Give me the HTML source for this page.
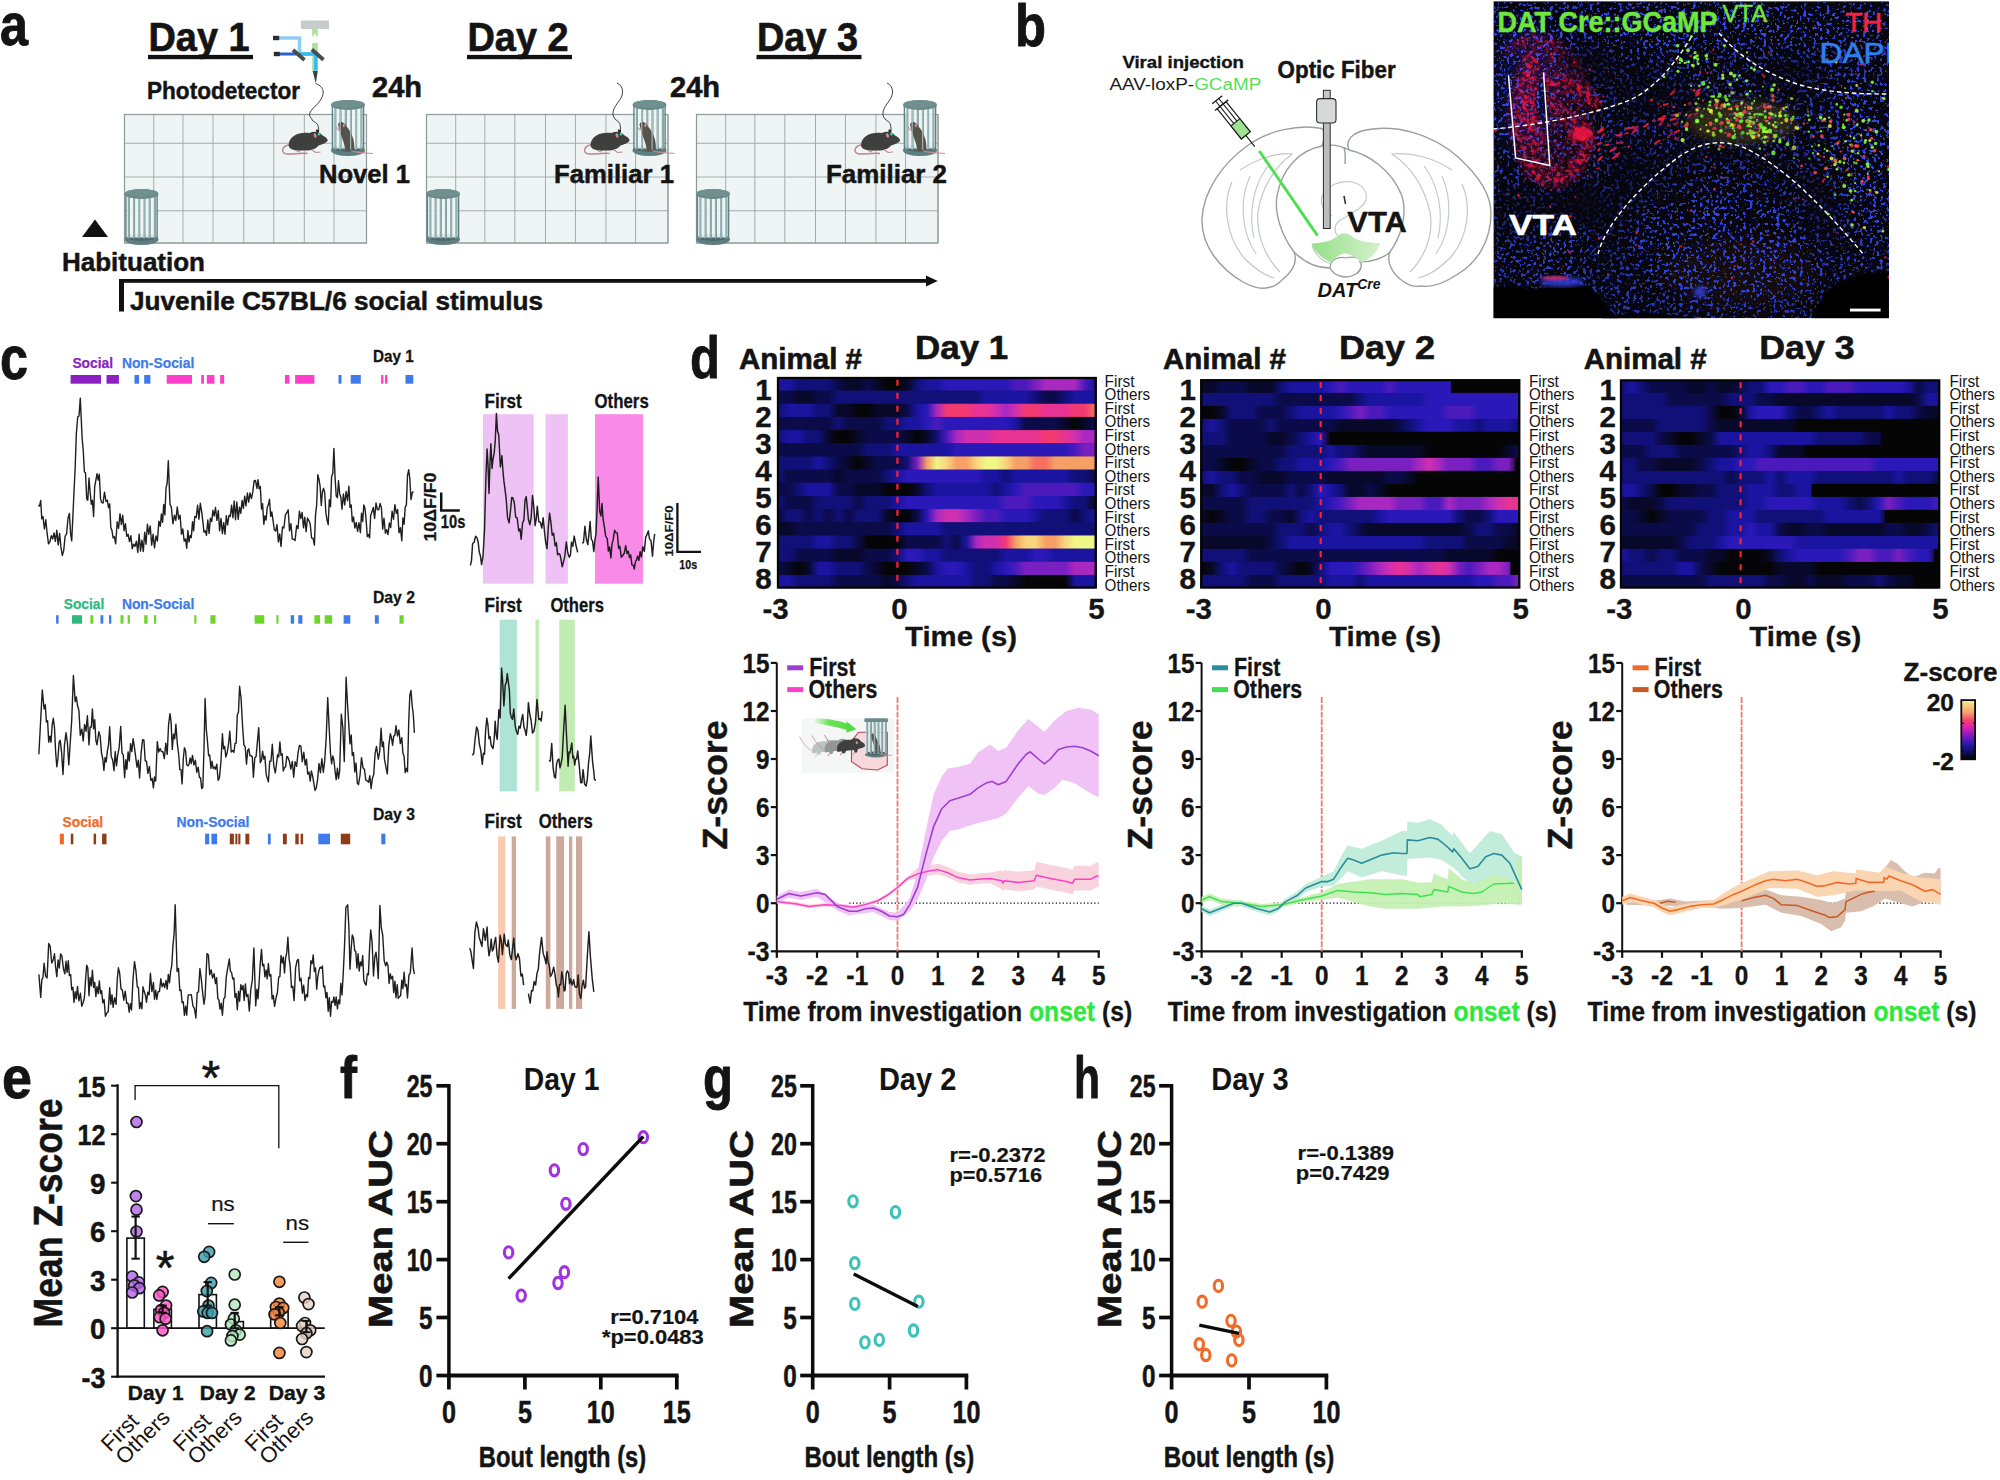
<!DOCTYPE html>
<html><head><meta charset="utf-8"><title>Figure</title>
<style>
html,body{margin:0;padding:0;background:#fff;}
svg{display:block;font-family:"Liberation Sans", Arial, sans-serif;}
</style></head><body>
<svg width="2000" height="1480" viewBox="0 0 2000 1480">
<rect width="2000" height="1480" fill="#ffffff"/>
<text x="0" y="44.5" font-size="60" font-weight="bold" fill="#141414" textLength="28" lengthAdjust="spacingAndGlyphs" stroke="#141414" stroke-width="0.9" stroke-linejoin="round" >a</text>
<text x="148.5" y="50.5" font-size="40" font-weight="bold" fill="#141414" textLength="101" lengthAdjust="spacingAndGlyphs" stroke="#141414" stroke-width="0.7" stroke-linejoin="round" >Day 1</text>
<rect x="148.0" y="54.9" width="105" height="4.3" fill="#111" />
<text x="467.5" y="50.5" font-size="40" font-weight="bold" fill="#141414" textLength="101" lengthAdjust="spacingAndGlyphs" stroke="#141414" stroke-width="0.7" stroke-linejoin="round" >Day 2</text>
<rect x="467.0" y="54.9" width="105" height="4.3" fill="#111" />
<text x="757" y="50.5" font-size="40" font-weight="bold" fill="#141414" textLength="101" lengthAdjust="spacingAndGlyphs" stroke="#141414" stroke-width="0.7" stroke-linejoin="round" >Day 3</text>
<rect x="756.5" y="54.9" width="105" height="4.3" fill="#111" />
<rect x="124.5" y="114.5" width="242.0" height="128.5" fill="#eff5f5" />
<line x1="124.50" y1="114.5" x2="124.50" y2="243" stroke="#a3adad" stroke-width="1" />
<line x1="153.75" y1="114.5" x2="153.75" y2="243" stroke="#a3adad" stroke-width="1" />
<line x1="183.00" y1="114.5" x2="183.00" y2="243" stroke="#a3adad" stroke-width="1" />
<line x1="213.00" y1="114.5" x2="213.00" y2="243" stroke="#a3adad" stroke-width="1" />
<line x1="243.75" y1="114.5" x2="243.75" y2="243" stroke="#a3adad" stroke-width="1" />
<line x1="273.75" y1="114.5" x2="273.75" y2="243" stroke="#a3adad" stroke-width="1" />
<line x1="304.30" y1="114.5" x2="304.30" y2="243" stroke="#a3adad" stroke-width="1" />
<line x1="334.00" y1="114.5" x2="334.00" y2="243" stroke="#a3adad" stroke-width="1" />
<line x1="366.50" y1="114.5" x2="366.50" y2="243" stroke="#a3adad" stroke-width="1" />
<line x1="124.5" y1="114.5" x2="366.5" y2="114.5" stroke="#a3adad" stroke-width="1" />
<line x1="124.5" y1="143.25" x2="366.5" y2="143.25" stroke="#a3adad" stroke-width="1" />
<line x1="124.5" y1="177" x2="366.5" y2="177" stroke="#a3adad" stroke-width="1" />
<line x1="124.5" y1="210.75" x2="366.5" y2="210.75" stroke="#a3adad" stroke-width="1" />
<line x1="124.5" y1="243" x2="366.5" y2="243" stroke="#a3adad" stroke-width="1" />
<rect x="124.5" y="114.5" width="242.0" height="128.5" fill="none" stroke="#8e9a9a" stroke-width="1.2"/>
<rect x="426.5" y="114.5" width="241.5" height="128.5" fill="#eff5f5" />
<line x1="426.50" y1="114.5" x2="426.50" y2="243" stroke="#a3adad" stroke-width="1" />
<line x1="455.69" y1="114.5" x2="455.69" y2="243" stroke="#a3adad" stroke-width="1" />
<line x1="484.88" y1="114.5" x2="484.88" y2="243" stroke="#a3adad" stroke-width="1" />
<line x1="514.82" y1="114.5" x2="514.82" y2="243" stroke="#a3adad" stroke-width="1" />
<line x1="545.50" y1="114.5" x2="545.50" y2="243" stroke="#a3adad" stroke-width="1" />
<line x1="575.44" y1="114.5" x2="575.44" y2="243" stroke="#a3adad" stroke-width="1" />
<line x1="605.93" y1="114.5" x2="605.93" y2="243" stroke="#a3adad" stroke-width="1" />
<line x1="635.57" y1="114.5" x2="635.57" y2="243" stroke="#a3adad" stroke-width="1" />
<line x1="668.00" y1="114.5" x2="668.00" y2="243" stroke="#a3adad" stroke-width="1" />
<line x1="426.5" y1="114.5" x2="668" y2="114.5" stroke="#a3adad" stroke-width="1" />
<line x1="426.5" y1="143.25" x2="668" y2="143.25" stroke="#a3adad" stroke-width="1" />
<line x1="426.5" y1="177" x2="668" y2="177" stroke="#a3adad" stroke-width="1" />
<line x1="426.5" y1="210.75" x2="668" y2="210.75" stroke="#a3adad" stroke-width="1" />
<line x1="426.5" y1="243" x2="668" y2="243" stroke="#a3adad" stroke-width="1" />
<rect x="426.5" y="114.5" width="241.5" height="128.5" fill="none" stroke="#8e9a9a" stroke-width="1.2"/>
<rect x="696.5" y="114.5" width="241.5" height="128.5" fill="#eff5f5" />
<line x1="696.50" y1="114.5" x2="696.50" y2="243" stroke="#a3adad" stroke-width="1" />
<line x1="725.69" y1="114.5" x2="725.69" y2="243" stroke="#a3adad" stroke-width="1" />
<line x1="754.88" y1="114.5" x2="754.88" y2="243" stroke="#a3adad" stroke-width="1" />
<line x1="784.82" y1="114.5" x2="784.82" y2="243" stroke="#a3adad" stroke-width="1" />
<line x1="815.50" y1="114.5" x2="815.50" y2="243" stroke="#a3adad" stroke-width="1" />
<line x1="845.44" y1="114.5" x2="845.44" y2="243" stroke="#a3adad" stroke-width="1" />
<line x1="875.93" y1="114.5" x2="875.93" y2="243" stroke="#a3adad" stroke-width="1" />
<line x1="905.57" y1="114.5" x2="905.57" y2="243" stroke="#a3adad" stroke-width="1" />
<line x1="938.00" y1="114.5" x2="938.00" y2="243" stroke="#a3adad" stroke-width="1" />
<line x1="696.5" y1="114.5" x2="938" y2="114.5" stroke="#a3adad" stroke-width="1" />
<line x1="696.5" y1="143.25" x2="938" y2="143.25" stroke="#a3adad" stroke-width="1" />
<line x1="696.5" y1="177" x2="938" y2="177" stroke="#a3adad" stroke-width="1" />
<line x1="696.5" y1="210.75" x2="938" y2="210.75" stroke="#a3adad" stroke-width="1" />
<line x1="696.5" y1="243" x2="938" y2="243" stroke="#a3adad" stroke-width="1" />
<rect x="696.5" y="114.5" width="241.5" height="128.5" fill="none" stroke="#8e9a9a" stroke-width="1.2"/>
<g>
<ellipse cx="141.5" cy="239.5" rx="17" ry="5.5" fill="#5f7e80"/>
<ellipse cx="141.5" cy="237.3" rx="15" ry="3.6" fill="#4d696c"/>
<rect x="127.0" y="195" width="29" height="42.5" fill="#eef5f5" opacity="0.9"/>
<line x1="129.4" y1="196" x2="129.4" y2="238.5" stroke="#5c7f82" stroke-width="0.8" />
<line x1="128.5" y1="196" x2="128.5" y2="238.5" stroke="#8db0af" stroke-width="1.4" />
<line x1="134.6" y1="196" x2="134.6" y2="238.5" stroke="#5c7f82" stroke-width="0.8" />
<line x1="133.7" y1="196" x2="133.7" y2="238.5" stroke="#8db0af" stroke-width="1.4" />
<line x1="139.8" y1="196" x2="139.8" y2="238.5" stroke="#5c7f82" stroke-width="0.8" />
<line x1="138.9" y1="196" x2="138.9" y2="238.5" stroke="#8db0af" stroke-width="1.4" />
<line x1="145.0" y1="196" x2="145.0" y2="238.5" stroke="#5c7f82" stroke-width="0.8" />
<line x1="144.1" y1="196" x2="144.1" y2="238.5" stroke="#8db0af" stroke-width="1.4" />
<line x1="150.2" y1="196" x2="150.2" y2="238.5" stroke="#5c7f82" stroke-width="0.8" />
<line x1="149.3" y1="196" x2="149.3" y2="238.5" stroke="#8db0af" stroke-width="1.4" />
<line x1="155.4" y1="196" x2="155.4" y2="238.5" stroke="#5c7f82" stroke-width="0.8" />
<line x1="154.5" y1="196" x2="154.5" y2="238.5" stroke="#8db0af" stroke-width="1.4" />
<line x1="125.9" y1="195" x2="125.9" y2="239.5" stroke="#5f8183" stroke-width="1.4" />
<line x1="157.1" y1="195" x2="157.1" y2="239.5" stroke="#5f8183" stroke-width="1.4" />
<ellipse cx="141.5" cy="194" rx="17" ry="5" fill="#688789"/>
<ellipse cx="141.5" cy="193.1" rx="16.4" ry="3.9" fill="#70908f"/>
</g>
<g>
<ellipse cx="443" cy="239.5" rx="17" ry="5.5" fill="#5f7e80"/>
<ellipse cx="443" cy="237.3" rx="15" ry="3.6" fill="#4d696c"/>
<rect x="428.5" y="195" width="29" height="42.5" fill="#eef5f5" opacity="0.9"/>
<line x1="430.9" y1="196" x2="430.9" y2="238.5" stroke="#5c7f82" stroke-width="0.8" />
<line x1="430.0" y1="196" x2="430.0" y2="238.5" stroke="#8db0af" stroke-width="1.4" />
<line x1="436.1" y1="196" x2="436.1" y2="238.5" stroke="#5c7f82" stroke-width="0.8" />
<line x1="435.2" y1="196" x2="435.2" y2="238.5" stroke="#8db0af" stroke-width="1.4" />
<line x1="441.3" y1="196" x2="441.3" y2="238.5" stroke="#5c7f82" stroke-width="0.8" />
<line x1="440.4" y1="196" x2="440.4" y2="238.5" stroke="#8db0af" stroke-width="1.4" />
<line x1="446.5" y1="196" x2="446.5" y2="238.5" stroke="#5c7f82" stroke-width="0.8" />
<line x1="445.6" y1="196" x2="445.6" y2="238.5" stroke="#8db0af" stroke-width="1.4" />
<line x1="451.7" y1="196" x2="451.7" y2="238.5" stroke="#5c7f82" stroke-width="0.8" />
<line x1="450.8" y1="196" x2="450.8" y2="238.5" stroke="#8db0af" stroke-width="1.4" />
<line x1="456.9" y1="196" x2="456.9" y2="238.5" stroke="#5c7f82" stroke-width="0.8" />
<line x1="456.0" y1="196" x2="456.0" y2="238.5" stroke="#8db0af" stroke-width="1.4" />
<line x1="427.4" y1="195" x2="427.4" y2="239.5" stroke="#5f8183" stroke-width="1.4" />
<line x1="458.6" y1="195" x2="458.6" y2="239.5" stroke="#5f8183" stroke-width="1.4" />
<ellipse cx="443" cy="194" rx="17" ry="5" fill="#688789"/>
<ellipse cx="443" cy="193.1" rx="16.4" ry="3.9" fill="#70908f"/>
</g>
<g>
<ellipse cx="713" cy="239.5" rx="17" ry="5.5" fill="#5f7e80"/>
<ellipse cx="713" cy="237.3" rx="15" ry="3.6" fill="#4d696c"/>
<rect x="698.5" y="195" width="29" height="42.5" fill="#eef5f5" opacity="0.9"/>
<line x1="700.9" y1="196" x2="700.9" y2="238.5" stroke="#5c7f82" stroke-width="0.8" />
<line x1="700.0" y1="196" x2="700.0" y2="238.5" stroke="#8db0af" stroke-width="1.4" />
<line x1="706.1" y1="196" x2="706.1" y2="238.5" stroke="#5c7f82" stroke-width="0.8" />
<line x1="705.2" y1="196" x2="705.2" y2="238.5" stroke="#8db0af" stroke-width="1.4" />
<line x1="711.3" y1="196" x2="711.3" y2="238.5" stroke="#5c7f82" stroke-width="0.8" />
<line x1="710.4" y1="196" x2="710.4" y2="238.5" stroke="#8db0af" stroke-width="1.4" />
<line x1="716.5" y1="196" x2="716.5" y2="238.5" stroke="#5c7f82" stroke-width="0.8" />
<line x1="715.6" y1="196" x2="715.6" y2="238.5" stroke="#8db0af" stroke-width="1.4" />
<line x1="721.7" y1="196" x2="721.7" y2="238.5" stroke="#5c7f82" stroke-width="0.8" />
<line x1="720.8" y1="196" x2="720.8" y2="238.5" stroke="#8db0af" stroke-width="1.4" />
<line x1="726.9" y1="196" x2="726.9" y2="238.5" stroke="#5c7f82" stroke-width="0.8" />
<line x1="726.0" y1="196" x2="726.0" y2="238.5" stroke="#8db0af" stroke-width="1.4" />
<line x1="697.4" y1="195" x2="697.4" y2="239.5" stroke="#5f8183" stroke-width="1.4" />
<line x1="728.6" y1="195" x2="728.6" y2="239.5" stroke="#5f8183" stroke-width="1.4" />
<ellipse cx="713" cy="194" rx="17" ry="5" fill="#688789"/>
<ellipse cx="713" cy="193.1" rx="16.4" ry="3.9" fill="#70908f"/>
</g>
<rect x="301" y="20.5" width="28" height="8.5" fill="#c6cccb" />
<path d="M312.2,29 L317.8,29 L317.8,37.5 L315,33.5 L312.2,37.5Z" stroke="none" stroke-width="1" fill="#a8e59a" />
<rect x="312.2" y="43" width="5.6" height="28" fill="#a9e39b" />
<path d="M279,38 L299.5,38 L299.5,54 L315.5,54 L315.5,70.5" stroke="#8dcff2" stroke-width="3.6" fill="none" />
<path d="M299.5,54 L315.8,54 L315.8,70.5" stroke="#35b9f0" stroke-width="3.4" fill="none" />
<line x1="279" y1="54" x2="296" y2="54" stroke="#2a5fe0" stroke-width="3" />
<rect x="273" y="35.8" width="6.2" height="4.4" fill="#2a2d2e" />
<rect x="273.8" y="51.8" width="6" height="4.4" fill="#2a2d2e" />
<line x1="293" y1="50" x2="304.5" y2="60" stroke="#474d4d" stroke-width="3.8" />
<line x1="311.8" y1="49.5" x2="323.5" y2="59.7" stroke="#474d4d" stroke-width="3.8" />
<path d="M312.6,71 L317.8,71 L315.8,83.5Z" stroke="none" stroke-width="1" fill="#3d4242" />
<g transform="translate(307.6,141.5)">
<path d="M-17,3 C-26,4 -28,12 -20,12.5 C-14,13 -8,11 0,12" stroke="#bf8288" stroke-width="1.4" fill="none" />
<path d="M-19,4 C-19,-6 -8,-10 2,-8.5 C6,-10.5 12,-10 15,-6 C18,-4.5 20.5,-2.5 20,-0.5 C18,2 14,3 11,4 C8,8 2,9.5 -4,9 C-10,9.5 -18,9 -19,4Z" stroke="none" stroke-width="1" fill="#3f3f3e" />
<path d="M4,8 L8,11 L13,10.5" stroke="#c9858b" stroke-width="1.2" fill="none" />
<path d="M-12,9 L-8,10.5" stroke="#c9858b" stroke-width="1.2" fill="none" />
<ellipse cx="7.5" cy="-6" rx="1.4" ry="2.4" fill="#d28c92" transform="rotate(-15 7.5 -6)"/>
<rect x="8.5" y="-12" width="3" height="3" fill="#2a2a2a" />
<circle cx="11.5" cy="-7.2" r="1.2" fill="#2fd6c0"/>
</g>
<g>
<ellipse cx="348" cy="150.5" rx="17" ry="5.5" fill="#5f7e80"/>
<ellipse cx="348" cy="148.3" rx="15" ry="3.6" fill="#4d696c"/>
<rect x="333.5" y="106" width="29" height="42.5" fill="#eef5f5" opacity="0.9"/>
<line x1="335.9" y1="107" x2="335.9" y2="149.5" stroke="#5c7f82" stroke-width="0.8" />
<line x1="335.0" y1="107" x2="335.0" y2="149.5" stroke="#8db0af" stroke-width="1.4" />
<line x1="341.1" y1="107" x2="341.1" y2="149.5" stroke="#5c7f82" stroke-width="0.8" />
<line x1="340.2" y1="107" x2="340.2" y2="149.5" stroke="#8db0af" stroke-width="1.4" />
<line x1="346.3" y1="107" x2="346.3" y2="149.5" stroke="#5c7f82" stroke-width="0.8" />
<line x1="345.4" y1="107" x2="345.4" y2="149.5" stroke="#8db0af" stroke-width="1.4" />
<line x1="351.5" y1="107" x2="351.5" y2="149.5" stroke="#5c7f82" stroke-width="0.8" />
<line x1="350.6" y1="107" x2="350.6" y2="149.5" stroke="#8db0af" stroke-width="1.4" />
<line x1="356.7" y1="107" x2="356.7" y2="149.5" stroke="#5c7f82" stroke-width="0.8" />
<line x1="355.8" y1="107" x2="355.8" y2="149.5" stroke="#8db0af" stroke-width="1.4" />
<line x1="361.9" y1="107" x2="361.9" y2="149.5" stroke="#5c7f82" stroke-width="0.8" />
<line x1="361.0" y1="107" x2="361.0" y2="149.5" stroke="#8db0af" stroke-width="1.4" />
<path d="M338,124.5 C339,120.5 344.5,121.5 346.5,126.5 C352.5,133 355.5,143 354,150.5 L345.5,151.2 C345,143 340,135 338,124.5Z" stroke="none" stroke-width="1" fill="#58524c" />
<path d="M351,150.5 C358,153.5 366,152.5 373,153.5" stroke="#c58c90" stroke-width="1.1" fill="none" />
<path d="M339,130.5 L335.5,126.5" stroke="#d49a9c" stroke-width="1.2" fill="none" />
<ellipse cx="343.8" cy="125.5" rx="1.1" ry="1.8" fill="#d28c92"/>
<line x1="340.2" y1="107" x2="340.2" y2="149.5" stroke="#a5c2c1" stroke-width="1.3" opacity="0.85"/>
<line x1="350.6" y1="107" x2="350.6" y2="149.5" stroke="#a5c2c1" stroke-width="1.3" opacity="0.85"/>
<line x1="355.8" y1="107" x2="355.8" y2="149.5" stroke="#a5c2c1" stroke-width="1.3" opacity="0.85"/>
<line x1="332.4" y1="106" x2="332.4" y2="150.5" stroke="#5f8183" stroke-width="1.4" />
<line x1="363.6" y1="106" x2="363.6" y2="150.5" stroke="#5f8183" stroke-width="1.4" />
<ellipse cx="348" cy="105" rx="17" ry="5" fill="#688789"/>
<ellipse cx="348" cy="104.1" rx="16.4" ry="3.9" fill="#70908f"/>
</g>
<g transform="translate(609.5,141.5)">
<path d="M-17,3 C-26,4 -28,12 -20,12.5 C-14,13 -8,11 0,12" stroke="#bf8288" stroke-width="1.4" fill="none" />
<path d="M-19,4 C-19,-6 -8,-10 2,-8.5 C6,-10.5 12,-10 15,-6 C18,-4.5 20.5,-2.5 20,-0.5 C18,2 14,3 11,4 C8,8 2,9.5 -4,9 C-10,9.5 -18,9 -19,4Z" stroke="none" stroke-width="1" fill="#3f3f3e" />
<path d="M4,8 L8,11 L13,10.5" stroke="#c9858b" stroke-width="1.2" fill="none" />
<path d="M-12,9 L-8,10.5" stroke="#c9858b" stroke-width="1.2" fill="none" />
<ellipse cx="7.5" cy="-6" rx="1.4" ry="2.4" fill="#d28c92" transform="rotate(-15 7.5 -6)"/>
<rect x="8.5" y="-12" width="3" height="3" fill="#2a2a2a" />
<circle cx="11.5" cy="-7.2" r="1.2" fill="#2fd6c0"/>
</g>
<g>
<ellipse cx="649.5" cy="150.5" rx="17" ry="5.5" fill="#5f7e80"/>
<ellipse cx="649.5" cy="148.3" rx="15" ry="3.6" fill="#4d696c"/>
<rect x="635.0" y="106" width="29" height="42.5" fill="#eef5f5" opacity="0.9"/>
<line x1="637.4" y1="107" x2="637.4" y2="149.5" stroke="#5c7f82" stroke-width="0.8" />
<line x1="636.5" y1="107" x2="636.5" y2="149.5" stroke="#8db0af" stroke-width="1.4" />
<line x1="642.6" y1="107" x2="642.6" y2="149.5" stroke="#5c7f82" stroke-width="0.8" />
<line x1="641.7" y1="107" x2="641.7" y2="149.5" stroke="#8db0af" stroke-width="1.4" />
<line x1="647.8" y1="107" x2="647.8" y2="149.5" stroke="#5c7f82" stroke-width="0.8" />
<line x1="646.9" y1="107" x2="646.9" y2="149.5" stroke="#8db0af" stroke-width="1.4" />
<line x1="653.0" y1="107" x2="653.0" y2="149.5" stroke="#5c7f82" stroke-width="0.8" />
<line x1="652.1" y1="107" x2="652.1" y2="149.5" stroke="#8db0af" stroke-width="1.4" />
<line x1="658.2" y1="107" x2="658.2" y2="149.5" stroke="#5c7f82" stroke-width="0.8" />
<line x1="657.3" y1="107" x2="657.3" y2="149.5" stroke="#8db0af" stroke-width="1.4" />
<line x1="663.4" y1="107" x2="663.4" y2="149.5" stroke="#5c7f82" stroke-width="0.8" />
<line x1="662.5" y1="107" x2="662.5" y2="149.5" stroke="#8db0af" stroke-width="1.4" />
<path d="M639.5,124.5 C640.5,120.5 646.0,121.5 648.0,126.5 C654.0,133 657.0,143 655.5,150.5 L647.0,151.2 C646.5,143 641.5,135 639.5,124.5Z" stroke="none" stroke-width="1" fill="#58524c" />
<path d="M652.5,150.5 C659.5,153.5 667.5,152.5 674.5,153.5" stroke="#c58c90" stroke-width="1.1" fill="none" />
<path d="M640.5,130.5 L637.0,126.5" stroke="#d49a9c" stroke-width="1.2" fill="none" />
<ellipse cx="645.3" cy="125.5" rx="1.1" ry="1.8" fill="#d28c92"/>
<line x1="641.7" y1="107" x2="641.7" y2="149.5" stroke="#a5c2c1" stroke-width="1.3" opacity="0.85"/>
<line x1="652.1" y1="107" x2="652.1" y2="149.5" stroke="#a5c2c1" stroke-width="1.3" opacity="0.85"/>
<line x1="657.3" y1="107" x2="657.3" y2="149.5" stroke="#a5c2c1" stroke-width="1.3" opacity="0.85"/>
<line x1="633.9" y1="106" x2="633.9" y2="150.5" stroke="#5f8183" stroke-width="1.4" />
<line x1="665.1" y1="106" x2="665.1" y2="150.5" stroke="#5f8183" stroke-width="1.4" />
<ellipse cx="649.5" cy="105" rx="17" ry="5" fill="#688789"/>
<ellipse cx="649.5" cy="104.1" rx="16.4" ry="3.9" fill="#70908f"/>
</g>
<g transform="translate(880,141.5)">
<path d="M-17,3 C-26,4 -28,12 -20,12.5 C-14,13 -8,11 0,12" stroke="#bf8288" stroke-width="1.4" fill="none" />
<path d="M-19,4 C-19,-6 -8,-10 2,-8.5 C6,-10.5 12,-10 15,-6 C18,-4.5 20.5,-2.5 20,-0.5 C18,2 14,3 11,4 C8,8 2,9.5 -4,9 C-10,9.5 -18,9 -19,4Z" stroke="none" stroke-width="1" fill="#3f3f3e" />
<path d="M4,8 L8,11 L13,10.5" stroke="#c9858b" stroke-width="1.2" fill="none" />
<path d="M-12,9 L-8,10.5" stroke="#c9858b" stroke-width="1.2" fill="none" />
<ellipse cx="7.5" cy="-6" rx="1.4" ry="2.4" fill="#d28c92" transform="rotate(-15 7.5 -6)"/>
<rect x="8.5" y="-12" width="3" height="3" fill="#2a2a2a" />
<circle cx="11.5" cy="-7.2" r="1.2" fill="#2fd6c0"/>
</g>
<g>
<ellipse cx="920" cy="150.5" rx="17" ry="5.5" fill="#5f7e80"/>
<ellipse cx="920" cy="148.3" rx="15" ry="3.6" fill="#4d696c"/>
<rect x="905.5" y="106" width="29" height="42.5" fill="#eef5f5" opacity="0.9"/>
<line x1="907.9" y1="107" x2="907.9" y2="149.5" stroke="#5c7f82" stroke-width="0.8" />
<line x1="907.0" y1="107" x2="907.0" y2="149.5" stroke="#8db0af" stroke-width="1.4" />
<line x1="913.1" y1="107" x2="913.1" y2="149.5" stroke="#5c7f82" stroke-width="0.8" />
<line x1="912.2" y1="107" x2="912.2" y2="149.5" stroke="#8db0af" stroke-width="1.4" />
<line x1="918.3" y1="107" x2="918.3" y2="149.5" stroke="#5c7f82" stroke-width="0.8" />
<line x1="917.4" y1="107" x2="917.4" y2="149.5" stroke="#8db0af" stroke-width="1.4" />
<line x1="923.5" y1="107" x2="923.5" y2="149.5" stroke="#5c7f82" stroke-width="0.8" />
<line x1="922.6" y1="107" x2="922.6" y2="149.5" stroke="#8db0af" stroke-width="1.4" />
<line x1="928.7" y1="107" x2="928.7" y2="149.5" stroke="#5c7f82" stroke-width="0.8" />
<line x1="927.8" y1="107" x2="927.8" y2="149.5" stroke="#8db0af" stroke-width="1.4" />
<line x1="933.9" y1="107" x2="933.9" y2="149.5" stroke="#5c7f82" stroke-width="0.8" />
<line x1="933.0" y1="107" x2="933.0" y2="149.5" stroke="#8db0af" stroke-width="1.4" />
<path d="M910,124.5 C911,120.5 916.5,121.5 918.5,126.5 C924.5,133 927.5,143 926,150.5 L917.5,151.2 C917,143 912,135 910,124.5Z" stroke="none" stroke-width="1" fill="#58524c" />
<path d="M923,150.5 C930,153.5 938,152.5 945,153.5" stroke="#c58c90" stroke-width="1.1" fill="none" />
<path d="M911,130.5 L907.5,126.5" stroke="#d49a9c" stroke-width="1.2" fill="none" />
<ellipse cx="915.8" cy="125.5" rx="1.1" ry="1.8" fill="#d28c92"/>
<line x1="912.2" y1="107" x2="912.2" y2="149.5" stroke="#a5c2c1" stroke-width="1.3" opacity="0.85"/>
<line x1="922.6" y1="107" x2="922.6" y2="149.5" stroke="#a5c2c1" stroke-width="1.3" opacity="0.85"/>
<line x1="927.8" y1="107" x2="927.8" y2="149.5" stroke="#a5c2c1" stroke-width="1.3" opacity="0.85"/>
<line x1="904.4" y1="106" x2="904.4" y2="150.5" stroke="#5f8183" stroke-width="1.4" />
<line x1="935.6" y1="106" x2="935.6" y2="150.5" stroke="#5f8183" stroke-width="1.4" />
<ellipse cx="920" cy="105" rx="17" ry="5" fill="#688789"/>
<ellipse cx="920" cy="104.1" rx="16.4" ry="3.9" fill="#70908f"/>
</g>
<path d="M315.8,83.5 C325.8,87.5 324.8,95.5 317.8,103.5 C310.8,110.5 306.8,114.5 311.6,118.5 C312.6,123.5 318.6,120.5 318.6,129.5" stroke="#2b2b2b" stroke-width="0.9" fill="none" />
<path d="M617,83 C624,86 624,95 619,101 C613,109 611,114 615,119 C618,122 620.5,121 620.5,129.5" stroke="#2b2b2b" stroke-width="0.9" fill="none" />
<path d="M887,83 C894,86 894,95 889,101 C883,109 881,114 885,119 C888,122 891,121 891,129.5" stroke="#2b2b2b" stroke-width="0.9" fill="none" />
<text x="147" y="98.5" font-size="23" font-weight="bold" fill="#141414" textLength="153" lengthAdjust="spacingAndGlyphs" stroke="#141414" stroke-width="0.45" stroke-linejoin="round" >Photodetector</text>
<text x="372" y="96.5" font-size="29.5" font-weight="bold" fill="#141414" textLength="50" lengthAdjust="spacingAndGlyphs" stroke="#141414" stroke-width="0.6" stroke-linejoin="round" >24h</text>
<text x="670" y="96.5" font-size="29.5" font-weight="bold" fill="#141414" textLength="50" lengthAdjust="spacingAndGlyphs" stroke="#141414" stroke-width="0.6" stroke-linejoin="round" >24h</text>
<text x="319" y="182.9" font-size="26" font-weight="bold" fill="#141414" textLength="91" lengthAdjust="spacingAndGlyphs" stroke="#141414" stroke-width="0.5" stroke-linejoin="round" >Novel 1</text>
<text x="554" y="182.9" font-size="26" font-weight="bold" fill="#141414" textLength="120" lengthAdjust="spacingAndGlyphs" stroke="#141414" stroke-width="0.5" stroke-linejoin="round" >Familiar 1</text>
<text x="826" y="182.9" font-size="26" font-weight="bold" fill="#141414" textLength="121" lengthAdjust="spacingAndGlyphs" stroke="#141414" stroke-width="0.5" stroke-linejoin="round" >Familiar 2</text>
<path d="M82,237 L108,237 L95,219.5Z" stroke="none" stroke-width="1" fill="#111" />
<text x="62" y="271" font-size="26" font-weight="bold" fill="#141414" textLength="143" lengthAdjust="spacingAndGlyphs" stroke="#141414" stroke-width="0.5" stroke-linejoin="round" >Habituation</text>
<rect x="119" y="279" width="5" height="32.5" fill="#111" />
<rect x="119" y="279" width="812" height="3.8" fill="#111" />
<path d="M926,275.4 L937.8,280.9 L926,286.4Z" stroke="none" stroke-width="1" fill="#111" />
<text x="130" y="309.5" font-size="26" font-weight="bold" fill="#141414" textLength="413" lengthAdjust="spacingAndGlyphs" stroke="#141414" stroke-width="0.5" stroke-linejoin="round" >Juvenile C57BL/6 social stimulus</text>
<text x="1015" y="46" font-size="60" font-weight="bold" fill="#141414" textLength="31" lengthAdjust="spacingAndGlyphs" stroke="#141414" stroke-width="0.9" stroke-linejoin="round" >b</text>
<path d="M1322,128.5 C1300,124 1268,130 1247,146 C1222,164 1203,192 1202,219 C1201,247 1222,270 1243,282 C1252,287 1262,290 1270,287" stroke="#9a9f9e" stroke-width="1.4" fill="none" />
<path d="M1349,150 C1345,140 1352,133 1366,130 C1396,124 1432,134 1458,157 C1479,176 1491,196 1491,213 C1491,240 1478,262 1458,274 C1446,282 1432,288 1421,286" stroke="#9a9f9e" stroke-width="1.4" fill="none" />
<path d="M1322,128.5 C1326,132 1324,140 1322,146 C1300,150 1282,168 1277,196 C1274,214 1282,236 1294,252 C1298,262 1292,272 1282,280 C1278,284 1274,287 1270,287" stroke="#9a9f9e" stroke-width="1.4" fill="none" />
<path d="M1349,150 C1368,154 1392,170 1402,196 C1408,216 1400,238 1390,252 C1386,262 1392,274 1404,282 C1410,286 1416,287 1421,286" stroke="#9a9f9e" stroke-width="1.4" fill="none" />
<path d="M1344,148 C1346,154 1345,160 1345,164" stroke="#9a9f9e" stroke-width="1.4" fill="none" />
<path d="M1322,146 C1332,144 1340,145 1349,150" stroke="#9a9f9e" stroke-width="1.4" fill="none" />
<path d="M1240,170 C1258,158 1280,152 1292,154 C1276,166 1262,186 1258,212 C1256,236 1266,258 1280,272" stroke="#c3c7c6" stroke-width="1.2" fill="none" />
<path d="M1232,182 C1222,204 1226,236 1244,258 C1254,268 1266,276 1274,278" stroke="#c3c7c6" stroke-width="1.2" fill="none" />
<path d="M1250,176 C1240,198 1240,230 1256,254" stroke="#c3c7c6" stroke-width="1.1" fill="none" />
<path d="M1268,166 C1254,184 1248,212 1254,238" stroke="#c3c7c6" stroke-width="1.1" fill="none" />
<path d="M1452,170 C1434,158 1412,152 1392,154 C1410,166 1424,186 1430,212 C1434,236 1424,258 1410,272" stroke="#c3c7c6" stroke-width="1.2" fill="none" />
<path d="M1462,184 C1472,206 1468,238 1450,258 C1440,268 1428,276 1418,278" stroke="#c3c7c6" stroke-width="1.2" fill="none" />
<path d="M1442,176 C1452,198 1452,230 1436,254" stroke="#c3c7c6" stroke-width="1.1" fill="none" />
<path d="M1424,166 C1438,184 1444,212 1438,238" stroke="#c3c7c6" stroke-width="1.1" fill="none" />
<path d="M1322,196 C1326,186 1340,180 1352,182 C1362,184 1368,192 1366,200 C1362,210 1348,214 1338,222 C1334,226 1334,232 1338,236" stroke="#c3c7c6" stroke-width="1.2" fill="none" />
<path d="M1322,196 C1320,204 1324,212 1332,216" stroke="#c3c7c6" stroke-width="1.2" fill="none" />
<path d="M1344,196 L1345.5,204" stroke="#333" stroke-width="1.6" fill="none" />
<path d="M1294,252 C1304,262 1316,268 1330,268 C1334,276 1346,280 1356,274 C1362,270 1362,264 1360,262 C1372,262 1384,258 1390,252" stroke="#9a9f9e" stroke-width="1.4" fill="none" />
<path d="M1330,268 C1330,260 1338,256 1346,258 C1354,256 1362,258 1360,262" stroke="#9a9f9e" stroke-width="1.2" fill="none" />
<path d="M1312,246 C1316,256 1324,262 1332,264" stroke="#c3c7c6" stroke-width="1.1" fill="none" />
<path d="M1376,246 C1372,256 1366,260 1360,262" stroke="#c3c7c6" stroke-width="1.1" fill="none" />
<defs><linearGradient id="vtag" x1="0" x2="1" y1="0" y2="0"><stop offset="0" stop-color="#96df8a"/><stop offset="1" stop-color="#d4f2cd"/></linearGradient></defs>
<path d="M1311.5,243.5 C1322,243 1334,241 1340,234 C1344,233 1348,233.5 1351,235.5 C1356,241 1368,243 1380,243 C1378,251 1372,258 1362,262.5 C1355,256 1348,253.5 1345,253.5 C1342,253.5 1336,256 1331,262.5 C1321,258 1314,251 1311.5,243.5Z" stroke="none" stroke-width="1" fill="url(#vtag)" />
<rect x="1323.4" y="90.3" width="6.8" height="10" fill="#c4c8c7" stroke="#2d2d2d" stroke-width="1"/>
<rect x="1323.4" y="122" width="6.8" height="106.5" fill="#b9bdbc" stroke="#2d2d2d" stroke-width="1"/>
<rect x="1316.6" y="98.6" width="19.4" height="24.4" fill="#d5d9d7" stroke="#2d2d2d" stroke-width="1.1" rx="3.5"/>
<line x1="1259.3" y1="151" x2="1317.5" y2="235.6" stroke="#49e04b" stroke-width="2.8" />
<g transform="translate(1221.6,105.2) rotate(-38.8)" stroke="#1c1c1c" stroke-width="1.1" fill="none">
<rect x="-5.7" y="0" width="11.4" height="38.6" fill="#fff"/>
<rect x="-5.7" y="22" width="11.4" height="16.6" fill="#9fe192"/>
<line x1="-8.5" y1="0" x2="8.5" y2="0" stroke-width="1.3"/>
<line x1="-2" y1="-7" x2="-2" y2="22"/><line x1="2" y1="-7" x2="2" y2="22"/>
<line x1="-6.5" y1="-7" x2="6.5" y2="-7" stroke-width="1.3"/>
<line x1="0" y1="38.6" x2="0" y2="53" stroke-width="1.2"/>
</g>
<text x="1122.4" y="68.3" font-size="16.8" font-weight="bold" fill="#141414" textLength="121.5" lengthAdjust="spacingAndGlyphs" stroke="#141414" stroke-width="0.35" stroke-linejoin="round" >Viral injection</text>
<text x="1109.5" y="89.8" font-size="16.8" font-weight="normal" fill="#1a1a1a" textLength="151.8" lengthAdjust="spacingAndGlyphs">AAV-loxP-<tspan fill="#55e055">GCaMP</tspan></text>
<text x="1277.6" y="78" font-size="23" font-weight="bold" fill="#141414" textLength="118" lengthAdjust="spacingAndGlyphs" stroke="#141414" stroke-width="0.45" stroke-linejoin="round" >Optic Fiber</text>
<text x="1347.3" y="231.7" font-size="30" font-weight="bold" fill="#141414" textLength="59.5" lengthAdjust="spacingAndGlyphs" stroke="#141414" stroke-width="0.5" stroke-linejoin="round" >VTA</text>
<text x="1317.6" y="297.3" font-size="20" font-weight="bold" font-style="italic" fill="#141414">DAT<tspan font-size="14" dy="-8">Cre</tspan></text>
<defs>
<clipPath id="mclip"><rect x="1493.4" y="1.2" width="395.5999999999999" height="317.1"/></clipPath>
<filter id="speck" x="1493.4" y="1.2" width="395.5999999999999" height="317.1" filterUnits="userSpaceOnUse" color-interpolation-filters="sRGB">
<feTurbulence type="fractalNoise" baseFrequency="0.3" numOctaves="2" seed="7"/>
<feColorMatrix type="matrix" values="0 0 0 0 0.20  0 0 0 0 0.30  0 0 0 0 0.98  11 11 0 0 -12.1"/>
</filter>
<filter id="rspeck" x="1493.4" y="1.2" width="395.5999999999999" height="317.1" filterUnits="userSpaceOnUse" color-interpolation-filters="sRGB">
<feTurbulence type="fractalNoise" baseFrequency="0.22" numOctaves="3" seed="31"/>
<feColorMatrix type="matrix" values="0 0 0 0 0.93  0 0 0 0 0.06  0 0 0 0 0.22  3.6 3.6 0 0 -3.35"/>
</filter>
<filter id="b2"><feGaussianBlur stdDeviation="2"/></filter>
<filter id="b3"><feGaussianBlur stdDeviation="3.2"/></filter>
<filter id="b5"><feGaussianBlur stdDeviation="5"/></filter>
<filter id="b10"><feGaussianBlur stdDeviation="10"/></filter>
<filter id="b1"><feGaussianBlur stdDeviation="0.8"/></filter>
<mask id="bmask" maskUnits="userSpaceOnUse" x="1493.4" y="1.2" width="395.5999999999999" height="317.1">
<rect x="1493.4" y="1.2" width="395.5999999999999" height="317.1" fill="#b4b4b4" />
<g filter="url(#b10)">
<ellipse cx="1530" cy="80" rx="40" ry="75" fill="#fff"/>
<ellipse cx="1700" cy="25" rx="200" ry="22" fill="#fff"/>
<ellipse cx="1865" cy="170" rx="28" ry="120" fill="#f0f0f0"/>
<ellipse cx="1735" cy="245" rx="95" ry="55" fill="#e8e8e8"/>
<ellipse cx="1540" cy="250" rx="40" ry="30" fill="#dcdcdc"/>
<ellipse cx="1580" cy="205" rx="30" ry="24" fill="#1c1c1c"/>
<ellipse cx="1648" cy="95" rx="34" ry="24" fill="#4a4a4a"/>
<ellipse cx="1588" cy="62" rx="32" ry="24" fill="#555"/>
<ellipse cx="1520" cy="215" rx="30" ry="30" fill="#666"/>
<ellipse cx="1700" cy="118" rx="22" ry="26" fill="#444"/>
<ellipse cx="1785" cy="75" rx="30" ry="20" fill="#4a4a4a"/>
<ellipse cx="1628" cy="170" rx="24" ry="30" fill="#5a5a5a"/>
<ellipse cx="1820" cy="205" rx="22" ry="40" fill="#5a5a5a"/>
<path d="M1600,262 C1606,226 1642,186 1682,158 C1702,145 1722,140 1747,150 C1792,172 1832,216 1866,258" stroke="#3c3c3c" stroke-width="14" fill="none"/>
</g></mask>
<mask id="rmask" maskUnits="userSpaceOnUse" x="1493.4" y="1.2" width="395.5999999999999" height="317.1">
<rect x="1493.4" y="1.2" width="395.5999999999999" height="317.1" fill="#000" />
<g filter="url(#b3)" fill="none" stroke-linecap="round">
<ellipse cx="1550" cy="112" rx="42" ry="72" fill="#4a4a4a" stroke="none"/>
<path d="M1530,60 C1526,80 1528,100 1532,125" stroke="#fff" stroke-width="13"/>
<path d="M1520,95 C1516,120 1520,150 1532,172" stroke="#bbb" stroke-width="12"/>
<path d="M1548,84 C1566,80 1588,88 1596,104" stroke="#fff" stroke-width="8"/>
<path d="M1552,100 C1560,112 1570,120 1582,126" stroke="#ddd" stroke-width="8"/>
<path d="M1532,172 C1545,186 1566,184 1576,170 C1584,158 1588,148 1590,138" stroke="#fff" stroke-width="9"/>
<path d="M1536,132 C1534,148 1540,162 1552,170" stroke="#ccc" stroke-width="8"/>
<ellipse cx="1582" cy="134" rx="12" ry="9" fill="#fff" stroke="none"/>
<path d="M1510,50 C1520,40 1540,36 1556,44" stroke="#999" stroke-width="10"/>
</g>
<path d="M1538,80 L1546,84 L1545,120 L1536,112Z" fill="#000" filter="url(#b1)"/>
</mask>
</defs>
<g clip-path="url(#mclip)">
<rect x="1493.4" y="1.2" width="395.5999999999999" height="317.1" fill="#07060f" />
<ellipse cx="1740" cy="272" rx="78" ry="36" fill="#3a1c10" opacity="0.28" filter="url(#b10)"/>
<ellipse cx="1528" cy="85" rx="34" ry="70" fill="#1a1c6a" opacity="0.35" filter="url(#b10)"/>
<g mask="url(#bmask)"><rect x="1493.4" y="1.2" width="395.5999999999999" height="317.1" fill="#fff" filter="url(#speck)"/></g>
<g mask="url(#rmask)"><rect x="1493.4" y="1.2" width="395.5999999999999" height="317.1" fill="#d0103c" opacity="0.22"/><rect x="1493.4" y="1.2" width="395.5999999999999" height="317.1" fill="#fff" filter="url(#rspeck)"/></g>
<ellipse cx="1582" cy="134" rx="10" ry="7" fill="#f01840" opacity="0.85" filter="url(#b1)"/>
<path d="M1493,287 C1520,284 1535,292 1548,286 C1570,282 1590,284 1600,296 C1606,306 1612,312 1620,319 L1493,319Z" stroke="none" stroke-width="1" fill="#030305" filter="url(#b1)"/>
<path d="M1889,272 C1870,270 1850,276 1835,284 C1822,292 1818,304 1812,319 L1889,319Z" stroke="none" stroke-width="1" fill="#030305" filter="url(#b1)"/>
<path d="M1600,319 C1640,309 1660,313 1700,319Z" stroke="none" stroke-width="1" fill="#030305" />
<ellipse cx="1562" cy="282" rx="22" ry="5" fill="#3440e0" opacity="0.85" filter="url(#b2)"/>
<ellipse cx="1700" cy="292" rx="6" ry="6" fill="#3440e0" opacity="0.85" filter="url(#b2)"/>
<ellipse cx="1555" cy="278" rx="14" ry="2.2" fill="#e02a6a" opacity="0.8" filter="url(#b1)"/>
<ellipse cx="1661.5" cy="119.2" rx="3.7" ry="1.1" fill="#f01a3e" opacity="0.97" transform="rotate(-12 1661.5 119.2)"/>
<ellipse cx="1601.0" cy="131.0" rx="4.3" ry="1.1" fill="#f01a3e" opacity="0.86" transform="rotate(-31 1601.0 131.0)"/>
<ellipse cx="1689.9" cy="115.4" rx="3.1" ry="1.1" fill="#f01a3e" opacity="0.83" transform="rotate(-40 1689.9 115.4)"/>
<ellipse cx="1599.3" cy="159.4" rx="2.3" ry="1.1" fill="#f01a3e" opacity="0.97" transform="rotate(-41 1599.3 159.4)"/>
<ellipse cx="1676.1" cy="123.5" rx="3.4" ry="1.1" fill="#f01a3e" opacity="0.65" transform="rotate(-44 1676.1 123.5)"/>
<ellipse cx="1598.2" cy="168.5" rx="2.1" ry="1.1" fill="#f01a3e" opacity="0.69" transform="rotate(-15 1598.2 168.5)"/>
<ellipse cx="1698.2" cy="108.2" rx="3.1" ry="1.1" fill="#f01a3e" opacity="0.87" transform="rotate(-12 1698.2 108.2)"/>
<ellipse cx="1618.9" cy="135.0" rx="3.6" ry="1.1" fill="#f01a3e" opacity="0.99" transform="rotate(-12 1618.9 135.0)"/>
<ellipse cx="1689.2" cy="103.3" rx="1.9" ry="1.1" fill="#f01a3e" opacity="0.63" transform="rotate(-43 1689.2 103.3)"/>
<ellipse cx="1628.7" cy="146.6" rx="1.5" ry="1.1" fill="#f01a3e" opacity="0.87" transform="rotate(-26 1628.7 146.6)"/>
<ellipse cx="1632.5" cy="127.3" rx="2.4" ry="1.1" fill="#f01a3e" opacity="0.79" transform="rotate(-31 1632.5 127.3)"/>
<ellipse cx="1669.9" cy="135.0" rx="4.4" ry="1.1" fill="#f01a3e" opacity="0.61" transform="rotate(-48 1669.9 135.0)"/>
<ellipse cx="1674.5" cy="114.9" rx="2.6" ry="1.1" fill="#f01a3e" opacity="0.83" transform="rotate(-18 1674.5 114.9)"/>
<ellipse cx="1598.9" cy="149.8" rx="2.0" ry="1.1" fill="#f01a3e" opacity="0.98" transform="rotate(-48 1598.9 149.8)"/>
<ellipse cx="1618.0" cy="142.9" rx="2.5" ry="1.1" fill="#f01a3e" opacity="0.74" transform="rotate(-12 1618.0 142.9)"/>
<ellipse cx="1651.5" cy="99.9" rx="1.8" ry="1.1" fill="#f01a3e" opacity="0.90" transform="rotate(-19 1651.5 99.9)"/>
<ellipse cx="1679.3" cy="113.3" rx="1.8" ry="1.1" fill="#f01a3e" opacity="0.74" transform="rotate(-12 1679.3 113.3)"/>
<ellipse cx="1660.3" cy="118.5" rx="2.5" ry="1.1" fill="#f01a3e" opacity="0.97" transform="rotate(-13 1660.3 118.5)"/>
<ellipse cx="1653.6" cy="120.5" rx="1.7" ry="1.1" fill="#f01a3e" opacity="0.66" transform="rotate(-43 1653.6 120.5)"/>
<ellipse cx="1668.3" cy="125.7" rx="2.0" ry="1.1" fill="#f01a3e" opacity="0.62" transform="rotate(-10 1668.3 125.7)"/>
<ellipse cx="1698.6" cy="90.7" rx="3.3" ry="1.1" fill="#f01a3e" opacity="0.93" transform="rotate(-41 1698.6 90.7)"/>
<ellipse cx="1644.5" cy="126.4" rx="1.7" ry="1.1" fill="#f01a3e" opacity="0.97" transform="rotate(-33 1644.5 126.4)"/>
<ellipse cx="1601.3" cy="129.3" rx="3.7" ry="1.1" fill="#f01a3e" opacity="0.98" transform="rotate(-45 1601.3 129.3)"/>
<ellipse cx="1662.3" cy="120.7" rx="1.8" ry="1.1" fill="#f01a3e" opacity="0.77" transform="rotate(-18 1662.3 120.7)"/>
<ellipse cx="1613.2" cy="149.5" rx="4.5" ry="1.1" fill="#f01a3e" opacity="0.94" transform="rotate(-32 1613.2 149.5)"/>
<ellipse cx="1697.6" cy="94.6" rx="3.0" ry="1.1" fill="#f01a3e" opacity="0.89" transform="rotate(-32 1697.6 94.6)"/>
<ellipse cx="1646.9" cy="124.7" rx="2.6" ry="1.1" fill="#f01a3e" opacity="1.00" transform="rotate(-44 1646.9 124.7)"/>
<ellipse cx="1695.9" cy="113.9" rx="3.0" ry="1.1" fill="#f01a3e" opacity="0.74" transform="rotate(-25 1695.9 113.9)"/>
<ellipse cx="1607.1" cy="144.8" rx="2.6" ry="1.1" fill="#f01a3e" opacity="0.91" transform="rotate(-15 1607.1 144.8)"/>
<ellipse cx="1677.0" cy="131.5" rx="3.5" ry="1.1" fill="#f01a3e" opacity="0.90" transform="rotate(-22 1677.0 131.5)"/>
<ellipse cx="1635.1" cy="130.9" rx="3.8" ry="1.1" fill="#f01a3e" opacity="0.88" transform="rotate(-31 1635.1 130.9)"/>
<ellipse cx="1628.0" cy="128.4" rx="3.4" ry="1.1" fill="#f01a3e" opacity="0.83" transform="rotate(-12 1628.0 128.4)"/>
<ellipse cx="1599.2" cy="143.4" rx="2.9" ry="1.1" fill="#f01a3e" opacity="0.93" transform="rotate(-23 1599.2 143.4)"/>
<ellipse cx="1664.0" cy="116.5" rx="2.5" ry="1.1" fill="#f01a3e" opacity="0.86" transform="rotate(-18 1664.0 116.5)"/>
<ellipse cx="1673.3" cy="119.2" rx="4.1" ry="1.1" fill="#f01a3e" opacity="0.88" transform="rotate(-16 1673.3 119.2)"/>
<ellipse cx="1697.6" cy="93.2" rx="3.1" ry="1.1" fill="#f01a3e" opacity="0.81" transform="rotate(-12 1697.6 93.2)"/>
<ellipse cx="1614.9" cy="156.9" rx="3.6" ry="1.1" fill="#f01a3e" opacity="0.89" transform="rotate(-31 1614.9 156.9)"/>
<ellipse cx="1672.5" cy="92.6" rx="3.8" ry="1.1" fill="#f01a3e" opacity="0.83" transform="rotate(-43 1672.5 92.6)"/>
<ellipse cx="1665.9" cy="104.5" rx="3.4" ry="1.1" fill="#f01a3e" opacity="0.89" transform="rotate(-19 1665.9 104.5)"/>
<ellipse cx="1600.8" cy="157.9" rx="2.8" ry="1.1" fill="#f01a3e" opacity="0.86" transform="rotate(-44 1600.8 157.9)"/>
<ellipse cx="1620.3" cy="134.7" rx="2.9" ry="1.1" fill="#f01a3e" opacity="0.69" transform="rotate(-48 1620.3 134.7)"/>
<ellipse cx="1603.5" cy="134.9" rx="2.5" ry="1.1" fill="#f01a3e" opacity="0.67" transform="rotate(-45 1603.5 134.9)"/>
<ellipse cx="1617.7" cy="154.1" rx="3.3" ry="1.1" fill="#f01a3e" opacity="0.84" transform="rotate(-35 1617.7 154.1)"/>
<ellipse cx="1622.3" cy="142.6" rx="1.5" ry="1.1" fill="#f01a3e" opacity="0.76" transform="rotate(-14 1622.3 142.6)"/>
<ellipse cx="1626.4" cy="133.2" rx="2.6" ry="1.1" fill="#f01a3e" opacity="0.61" transform="rotate(-17 1626.4 133.2)"/>
<ellipse cx="1660.6" cy="123.6" rx="3.1" ry="1.1" fill="#f01a3e" opacity="0.74" transform="rotate(-46 1660.6 123.6)"/>
<ellipse cx="1657.3" cy="142.0" rx="3.9" ry="1.1" fill="#f01a3e" opacity="0.86" transform="rotate(-33 1657.3 142.0)"/>
<ellipse cx="1635.7" cy="127.9" rx="3.3" ry="1.1" fill="#f01a3e" opacity="0.83" transform="rotate(-44 1635.7 127.9)"/>
<ellipse cx="1742" cy="122" rx="54" ry="22" fill="#6a5a14" opacity="0.42" filter="url(#b5)"/>
<ellipse cx="1822.9" cy="120.3" rx="1.7" ry="1.5" fill="#ff5a3a" opacity="0.70"/>
<ellipse cx="1774.2" cy="137.0" rx="1.7" ry="1.3" fill="#ff5a3a" opacity="0.96"/>
<ellipse cx="1710.8" cy="111.0" rx="2.2" ry="2.2" fill="#e6e23a" opacity="0.99"/>
<ellipse cx="1682.6" cy="140.1" rx="2.1" ry="2.2" fill="#a8f53a" opacity="0.92"/>
<ellipse cx="1734.4" cy="130.9" rx="0.9" ry="1.2" fill="#a8f53a" opacity="0.85"/>
<ellipse cx="1733.7" cy="136.6" rx="1.1" ry="1.1" fill="#e6e23a" opacity="0.77"/>
<ellipse cx="1758.8" cy="125.0" rx="1.4" ry="1.4" fill="#ff3a4a" opacity="0.78"/>
<ellipse cx="1793.3" cy="116.8" rx="1.2" ry="1.0" fill="#7dff3c" opacity="0.92"/>
<ellipse cx="1733.7" cy="137.0" rx="2.2" ry="2.2" fill="#5de83a" opacity="0.88"/>
<ellipse cx="1741.3" cy="113.4" rx="1.9" ry="1.7" fill="#ff3a4a" opacity="0.91"/>
<ellipse cx="1702.8" cy="100.4" rx="0.9" ry="0.9" fill="#ff5a3a" opacity="0.92"/>
<ellipse cx="1734.7" cy="117.9" rx="1.2" ry="1.2" fill="#7dff3c" opacity="0.97"/>
<ellipse cx="1736.7" cy="119.6" rx="1.9" ry="1.8" fill="#ff3a4a" opacity="0.91"/>
<ellipse cx="1786.3" cy="120.0" rx="2.0" ry="2.4" fill="#e6e23a" opacity="0.82"/>
<ellipse cx="1754.6" cy="114.6" rx="1.3" ry="1.5" fill="#7dff3c" opacity="0.79"/>
<ellipse cx="1797.6" cy="128.2" rx="1.7" ry="1.8" fill="#e6e23a" opacity="0.97"/>
<ellipse cx="1764.8" cy="137.1" rx="1.6" ry="1.6" fill="#a8f53a" opacity="0.86"/>
<ellipse cx="1706.3" cy="125.2" rx="1.0" ry="1.1" fill="#a8f53a" opacity="0.95"/>
<ellipse cx="1754.2" cy="101.1" rx="0.9" ry="1.1" fill="#7dff3c" opacity="1.00"/>
<ellipse cx="1738.9" cy="116.1" rx="2.0" ry="1.7" fill="#ff5a3a" opacity="0.95"/>
<ellipse cx="1794.0" cy="147.7" rx="2.2" ry="2.5" fill="#e6e23a" opacity="0.74"/>
<ellipse cx="1716.6" cy="108.0" rx="1.1" ry="1.2" fill="#7dff3c" opacity="0.87"/>
<ellipse cx="1713.7" cy="96.6" rx="1.3" ry="1.3" fill="#7dff3c" opacity="0.92"/>
<ellipse cx="1754.4" cy="116.9" rx="1.5" ry="1.3" fill="#ff3a4a" opacity="0.85"/>
<ellipse cx="1713.7" cy="135.1" rx="2.1" ry="1.6" fill="#a8f53a" opacity="0.75"/>
<ellipse cx="1716.2" cy="104.8" rx="2.1" ry="2.2" fill="#ff3a4a" opacity="0.77"/>
<ellipse cx="1763.6" cy="127.8" rx="2.0" ry="1.7" fill="#7dff3c" opacity="0.94"/>
<ellipse cx="1765.0" cy="111.3" rx="1.4" ry="1.1" fill="#7dff3c" opacity="0.90"/>
<ellipse cx="1782.9" cy="137.3" rx="1.0" ry="0.8" fill="#ff3a4a" opacity="0.84"/>
<ellipse cx="1714.5" cy="128.4" rx="2.2" ry="1.6" fill="#ff3a4a" opacity="0.71"/>
<ellipse cx="1740.3" cy="115.9" rx="1.1" ry="1.4" fill="#ff5a3a" opacity="0.94"/>
<ellipse cx="1742.0" cy="114.7" rx="2.1" ry="2.1" fill="#7dff3c" opacity="0.74"/>
<ellipse cx="1720.8" cy="108.5" rx="1.2" ry="1.1" fill="#ff3a4a" opacity="0.91"/>
<ellipse cx="1750.9" cy="108.1" rx="1.8" ry="1.7" fill="#a8f53a" opacity="0.94"/>
<ellipse cx="1684.9" cy="126.1" rx="1.6" ry="1.7" fill="#ff3a4a" opacity="0.76"/>
<ellipse cx="1746.9" cy="126.5" rx="0.9" ry="0.8" fill="#7dff3c" opacity="0.71"/>
<ellipse cx="1770.1" cy="113.4" rx="1.9" ry="1.3" fill="#e6e23a" opacity="0.79"/>
<ellipse cx="1808.2" cy="115.4" rx="1.3" ry="1.3" fill="#7dff3c" opacity="0.75"/>
<ellipse cx="1758.8" cy="135.2" rx="1.4" ry="1.7" fill="#7dff3c" opacity="0.87"/>
<ellipse cx="1787.5" cy="144.2" rx="1.9" ry="2.1" fill="#7dff3c" opacity="0.84"/>
<ellipse cx="1813.3" cy="136.4" rx="1.4" ry="1.7" fill="#ff5a3a" opacity="0.71"/>
<ellipse cx="1682.1" cy="121.7" rx="1.1" ry="1.3" fill="#a8f53a" opacity="0.79"/>
<ellipse cx="1718.4" cy="96.6" rx="1.1" ry="0.9" fill="#7dff3c" opacity="0.87"/>
<ellipse cx="1717.4" cy="100.7" rx="2.1" ry="2.3" fill="#ff5a3a" opacity="0.79"/>
<ellipse cx="1716.4" cy="120.4" rx="1.9" ry="2.1" fill="#7dff3c" opacity="0.93"/>
<ellipse cx="1751.9" cy="131.3" rx="1.0" ry="1.0" fill="#ff5a3a" opacity="0.99"/>
<ellipse cx="1753.3" cy="122.6" rx="1.9" ry="1.8" fill="#7dff3c" opacity="0.71"/>
<ellipse cx="1773.2" cy="100.2" rx="1.6" ry="2.1" fill="#ff5a3a" opacity="0.72"/>
<ellipse cx="1771.9" cy="114.2" rx="2.1" ry="1.5" fill="#7dff3c" opacity="0.89"/>
<ellipse cx="1686.2" cy="114.7" rx="1.0" ry="1.2" fill="#e6e23a" opacity="0.79"/>
<ellipse cx="1750.4" cy="123.3" rx="2.2" ry="1.7" fill="#ff3a4a" opacity="0.89"/>
<ellipse cx="1750.9" cy="132.2" rx="2.1" ry="2.5" fill="#7dff3c" opacity="0.86"/>
<ellipse cx="1780.0" cy="116.0" rx="2.0" ry="1.7" fill="#7dff3c" opacity="0.83"/>
<ellipse cx="1721.0" cy="130.8" rx="1.9" ry="1.9" fill="#7dff3c" opacity="0.92"/>
<ellipse cx="1765.4" cy="117.1" rx="1.5" ry="1.8" fill="#7dff3c" opacity="0.87"/>
<ellipse cx="1765.7" cy="137.0" rx="1.9" ry="1.6" fill="#e6e23a" opacity="0.79"/>
<ellipse cx="1751.1" cy="126.6" rx="1.2" ry="0.9" fill="#e6e23a" opacity="0.99"/>
<ellipse cx="1729.1" cy="109.0" rx="1.5" ry="1.3" fill="#ff5a3a" opacity="0.76"/>
<ellipse cx="1735.1" cy="134.3" rx="1.0" ry="1.0" fill="#a8f53a" opacity="0.81"/>
<ellipse cx="1742.0" cy="120.8" rx="1.3" ry="1.6" fill="#7dff3c" opacity="0.87"/>
<ellipse cx="1686.9" cy="124.2" rx="1.8" ry="2.2" fill="#ff5a3a" opacity="0.71"/>
<ellipse cx="1728.4" cy="122.5" rx="1.9" ry="2.0" fill="#a8f53a" opacity="0.72"/>
<ellipse cx="1754.1" cy="132.7" rx="1.8" ry="1.5" fill="#7dff3c" opacity="0.86"/>
<ellipse cx="1741.5" cy="117.4" rx="1.1" ry="1.4" fill="#5de83a" opacity="0.81"/>
<ellipse cx="1791.7" cy="98.7" rx="1.7" ry="1.4" fill="#e6e23a" opacity="0.74"/>
<ellipse cx="1751.1" cy="135.6" rx="1.1" ry="1.2" fill="#7dff3c" opacity="0.92"/>
<ellipse cx="1774.5" cy="135.3" rx="1.1" ry="1.3" fill="#e6e23a" opacity="0.93"/>
<ellipse cx="1710.9" cy="123.6" rx="1.3" ry="1.3" fill="#7dff3c" opacity="0.84"/>
<ellipse cx="1710.4" cy="123.7" rx="1.9" ry="2.4" fill="#ff3a4a" opacity="0.84"/>
<ellipse cx="1740.2" cy="120.8" rx="1.1" ry="1.3" fill="#ff5a3a" opacity="0.72"/>
<ellipse cx="1750.2" cy="121.4" rx="1.7" ry="1.6" fill="#a8f53a" opacity="0.82"/>
<ellipse cx="1747.5" cy="133.5" rx="1.2" ry="1.2" fill="#a8f53a" opacity="0.93"/>
<ellipse cx="1748.7" cy="107.8" rx="2.0" ry="2.3" fill="#ff5a3a" opacity="0.95"/>
<ellipse cx="1768.1" cy="107.3" rx="1.4" ry="1.1" fill="#5de83a" opacity="0.77"/>
<ellipse cx="1731.6" cy="124.3" rx="1.4" ry="1.6" fill="#a8f53a" opacity="0.97"/>
<ellipse cx="1759.9" cy="148.6" rx="1.3" ry="1.5" fill="#5de83a" opacity="0.86"/>
<ellipse cx="1759.9" cy="128.6" rx="1.8" ry="1.4" fill="#ff3a4a" opacity="0.88"/>
<ellipse cx="1754.7" cy="136.2" rx="1.3" ry="0.9" fill="#a8f53a" opacity="0.85"/>
<ellipse cx="1701.8" cy="116.0" rx="1.8" ry="1.7" fill="#5de83a" opacity="0.94"/>
<ellipse cx="1785.6" cy="115.6" rx="1.8" ry="1.8" fill="#5de83a" opacity="0.83"/>
<ellipse cx="1748.2" cy="121.0" rx="1.9" ry="1.6" fill="#a8f53a" opacity="0.72"/>
<ellipse cx="1767.6" cy="131.4" rx="1.7" ry="1.9" fill="#ff5a3a" opacity="0.82"/>
<ellipse cx="1747.4" cy="121.1" rx="2.1" ry="1.8" fill="#7dff3c" opacity="0.93"/>
<ellipse cx="1703.3" cy="83.4" rx="2.1" ry="2.3" fill="#5de83a" opacity="0.98"/>
<ellipse cx="1709.6" cy="105.2" rx="1.5" ry="1.2" fill="#7dff3c" opacity="0.77"/>
<ellipse cx="1781.6" cy="122.8" rx="1.4" ry="1.0" fill="#e6e23a" opacity="0.81"/>
<ellipse cx="1742.2" cy="102.6" rx="1.2" ry="1.3" fill="#a8f53a" opacity="0.82"/>
<ellipse cx="1779.9" cy="140.0" rx="1.6" ry="1.8" fill="#a8f53a" opacity="0.77"/>
<ellipse cx="1763.6" cy="130.9" rx="1.9" ry="2.3" fill="#7dff3c" opacity="0.97"/>
<ellipse cx="1764.5" cy="142.1" rx="1.9" ry="1.6" fill="#7dff3c" opacity="0.87"/>
<ellipse cx="1710.0" cy="101.9" rx="1.6" ry="1.5" fill="#7dff3c" opacity="0.83"/>
<ellipse cx="1673.7" cy="107.0" rx="1.3" ry="1.1" fill="#ff3a4a" opacity="0.97"/>
<ellipse cx="1725.7" cy="132.8" rx="1.1" ry="1.0" fill="#ff3a4a" opacity="0.88"/>
<ellipse cx="1750.4" cy="130.9" rx="1.7" ry="1.8" fill="#ff5a3a" opacity="0.80"/>
<ellipse cx="1812.1" cy="146.5" rx="1.1" ry="1.1" fill="#7dff3c" opacity="0.80"/>
<ellipse cx="1769.2" cy="106.8" rx="2.1" ry="1.8" fill="#ff5a3a" opacity="0.88"/>
<ellipse cx="1760.1" cy="95.7" rx="0.9" ry="1.0" fill="#7dff3c" opacity="0.73"/>
<ellipse cx="1767.6" cy="141.0" rx="1.0" ry="1.2" fill="#ff5a3a" opacity="0.80"/>
<ellipse cx="1744.5" cy="111.8" rx="2.1" ry="2.1" fill="#ff3a4a" opacity="0.89"/>
<ellipse cx="1756.6" cy="121.2" rx="1.0" ry="0.8" fill="#7dff3c" opacity="0.80"/>
<ellipse cx="1773.4" cy="152.7" rx="2.2" ry="2.5" fill="#7dff3c" opacity="0.82"/>
<ellipse cx="1712.1" cy="113.5" rx="1.1" ry="1.1" fill="#a8f53a" opacity="0.74"/>
<ellipse cx="1773.3" cy="125.1" rx="1.3" ry="1.5" fill="#e6e23a" opacity="0.93"/>
<ellipse cx="1737.2" cy="108.1" rx="1.1" ry="1.0" fill="#a8f53a" opacity="0.93"/>
<ellipse cx="1751.9" cy="135.1" rx="1.1" ry="1.3" fill="#ff5a3a" opacity="0.91"/>
<ellipse cx="1752.2" cy="103.2" rx="1.3" ry="1.2" fill="#5de83a" opacity="0.72"/>
<ellipse cx="1721.4" cy="122.9" rx="2.2" ry="1.9" fill="#ff5a3a" opacity="0.72"/>
<ellipse cx="1740.1" cy="127.5" rx="1.5" ry="2.0" fill="#ff3a4a" opacity="0.95"/>
<ellipse cx="1756.8" cy="113.9" rx="1.5" ry="1.2" fill="#7dff3c" opacity="0.70"/>
<ellipse cx="1745.0" cy="107.2" rx="0.9" ry="0.8" fill="#e6e23a" opacity="0.99"/>
<ellipse cx="1750.7" cy="117.6" rx="2.2" ry="1.8" fill="#5de83a" opacity="0.83"/>
<ellipse cx="1728.7" cy="120.5" rx="1.3" ry="1.6" fill="#ff5a3a" opacity="0.84"/>
<ellipse cx="1760.7" cy="124.5" rx="1.9" ry="1.9" fill="#5de83a" opacity="0.88"/>
<ellipse cx="1779.7" cy="113.1" rx="1.7" ry="1.2" fill="#7dff3c" opacity="0.83"/>
<ellipse cx="1732.2" cy="92.8" rx="2.0" ry="1.9" fill="#e6e23a" opacity="0.70"/>
<ellipse cx="1749.7" cy="113.6" rx="1.3" ry="1.2" fill="#7dff3c" opacity="0.83"/>
<ellipse cx="1843.1" cy="124.7" rx="1.2" ry="1.1" fill="#a8f53a" opacity="0.74"/>
<ellipse cx="1740.6" cy="121.6" rx="1.7" ry="2.0" fill="#5de83a" opacity="0.84"/>
<ellipse cx="1770.0" cy="130.9" rx="2.1" ry="2.5" fill="#7dff3c" opacity="0.89"/>
<ellipse cx="1741.4" cy="103.4" rx="1.3" ry="1.3" fill="#e6e23a" opacity="0.77"/>
<ellipse cx="1808.1" cy="111.9" rx="0.9" ry="0.8" fill="#e6e23a" opacity="0.73"/>
<ellipse cx="1773.6" cy="140.8" rx="1.3" ry="1.1" fill="#a8f53a" opacity="0.86"/>
<ellipse cx="1791.2" cy="123.2" rx="1.0" ry="0.8" fill="#ff5a3a" opacity="0.82"/>
<ellipse cx="1719.0" cy="149.1" rx="1.6" ry="1.6" fill="#5de83a" opacity="0.77"/>
<ellipse cx="1719.3" cy="113.4" rx="1.6" ry="1.8" fill="#7dff3c" opacity="0.77"/>
<ellipse cx="1736.5" cy="116.0" rx="0.9" ry="0.8" fill="#7dff3c" opacity="0.85"/>
<ellipse cx="1698.4" cy="98.7" rx="1.0" ry="1.0" fill="#7dff3c" opacity="0.91"/>
<ellipse cx="1783.4" cy="108.7" rx="1.6" ry="1.6" fill="#7dff3c" opacity="0.90"/>
<ellipse cx="1769.4" cy="117.7" rx="1.6" ry="1.8" fill="#ff3a4a" opacity="0.98"/>
<ellipse cx="1769.0" cy="123.3" rx="1.1" ry="1.4" fill="#7dff3c" opacity="0.89"/>
<ellipse cx="1762.8" cy="127.0" rx="1.7" ry="1.3" fill="#ff3a4a" opacity="0.79"/>
<ellipse cx="1684.9" cy="105.1" rx="1.1" ry="1.0" fill="#e6e23a" opacity="0.70"/>
<ellipse cx="1704.0" cy="108.8" rx="1.0" ry="1.1" fill="#7dff3c" opacity="0.80"/>
<ellipse cx="1793.9" cy="158.1" rx="1.2" ry="1.1" fill="#5de83a" opacity="0.74"/>
<ellipse cx="1759.3" cy="131.1" rx="0.9" ry="0.8" fill="#7dff3c" opacity="0.89"/>
<ellipse cx="1742.7" cy="132.8" rx="2.0" ry="2.0" fill="#5de83a" opacity="0.75"/>
<ellipse cx="1748.8" cy="125.5" rx="1.9" ry="1.9" fill="#7dff3c" opacity="0.84"/>
<ellipse cx="1726.8" cy="99.8" rx="1.8" ry="1.9" fill="#7dff3c" opacity="0.88"/>
<ellipse cx="1779.8" cy="141.7" rx="1.7" ry="1.8" fill="#7dff3c" opacity="0.86"/>
<ellipse cx="1725.4" cy="96.9" rx="1.8" ry="1.9" fill="#7dff3c" opacity="0.72"/>
<ellipse cx="1697.1" cy="121.0" rx="2.1" ry="2.3" fill="#7dff3c" opacity="0.99"/>
<ellipse cx="1731.1" cy="108.9" rx="1.4" ry="1.3" fill="#e6e23a" opacity="0.79"/>
<ellipse cx="1795.9" cy="127.7" rx="1.6" ry="1.9" fill="#e6e23a" opacity="0.81"/>
<ellipse cx="1699.3" cy="86.0" rx="1.3" ry="1.4" fill="#e6e23a" opacity="0.73"/>
<ellipse cx="1734.2" cy="124.9" rx="1.5" ry="1.6" fill="#ff5a3a" opacity="0.82"/>
<ellipse cx="1765.4" cy="155.3" rx="1.1" ry="1.1" fill="#ff3a4a" opacity="0.80"/>
<ellipse cx="1775.9" cy="126.8" rx="1.6" ry="1.6" fill="#7dff3c" opacity="0.87"/>
<ellipse cx="1724.5" cy="105.6" rx="1.9" ry="2.3" fill="#a8f53a" opacity="0.89"/>
<ellipse cx="1753.2" cy="137.2" rx="2.0" ry="2.0" fill="#e6e23a" opacity="0.89"/>
<ellipse cx="1691.2" cy="85.9" rx="1.1" ry="1.2" fill="#a8f53a" opacity="0.73"/>
<ellipse cx="1760.0" cy="114.3" rx="1.9" ry="1.5" fill="#5de83a" opacity="0.99"/>
<ellipse cx="1708.0" cy="131.1" rx="1.8" ry="1.6" fill="#e6e23a" opacity="0.96"/>
<ellipse cx="1762.5" cy="114.7" rx="1.3" ry="1.2" fill="#5de83a" opacity="0.82"/>
<ellipse cx="1753.1" cy="124.6" rx="1.0" ry="0.7" fill="#ff5a3a" opacity="0.97"/>
<ellipse cx="1727.0" cy="118.9" rx="1.4" ry="1.2" fill="#7dff3c" opacity="0.98"/>
<ellipse cx="1697.1" cy="110.0" rx="1.8" ry="1.6" fill="#a8f53a" opacity="0.98"/>
<ellipse cx="1727.4" cy="120.7" rx="1.9" ry="1.5" fill="#ff3a4a" opacity="0.73"/>
<ellipse cx="1715.4" cy="99.5" rx="1.4" ry="1.1" fill="#a8f53a" opacity="0.87"/>
<ellipse cx="1775.3" cy="122.3" rx="1.2" ry="1.2" fill="#7dff3c" opacity="0.81"/>
<ellipse cx="1694.2" cy="90.2" rx="1.3" ry="1.6" fill="#ff3a4a" opacity="0.72"/>
<ellipse cx="1720.2" cy="146.1" rx="1.7" ry="1.5" fill="#ff3a4a" opacity="0.98"/>
<ellipse cx="1708.3" cy="109.0" rx="1.3" ry="1.5" fill="#a8f53a" opacity="0.84"/>
<ellipse cx="1700.5" cy="129.4" rx="1.0" ry="1.1" fill="#e6e23a" opacity="0.91"/>
<ellipse cx="1740.0" cy="113.8" rx="2.2" ry="1.7" fill="#7dff3c" opacity="0.89"/>
<ellipse cx="1737.3" cy="109.1" rx="1.5" ry="1.7" fill="#5de83a" opacity="0.91"/>
<ellipse cx="1775.3" cy="137.1" rx="1.2" ry="1.1" fill="#7dff3c" opacity="0.86"/>
<ellipse cx="1721.5" cy="115.1" rx="0.9" ry="1.0" fill="#e6e23a" opacity="0.89"/>
<ellipse cx="1677.1" cy="115.4" rx="2.1" ry="1.8" fill="#a8f53a" opacity="0.72"/>
<ellipse cx="1732.6" cy="137.6" rx="1.3" ry="1.2" fill="#5de83a" opacity="0.74"/>
<ellipse cx="1711.8" cy="96.5" rx="1.8" ry="1.3" fill="#7dff3c" opacity="0.79"/>
<ellipse cx="1770.4" cy="106.8" rx="1.4" ry="1.7" fill="#ff5a3a" opacity="0.84"/>
<ellipse cx="1775.5" cy="115.7" rx="1.3" ry="1.5" fill="#5de83a" opacity="0.94"/>
<ellipse cx="1762.2" cy="138.2" rx="0.9" ry="1.1" fill="#5de83a" opacity="0.84"/>
<ellipse cx="1725.9" cy="126.8" rx="0.9" ry="1.2" fill="#ff5a3a" opacity="0.76"/>
<ellipse cx="1803.8" cy="123.7" rx="1.2" ry="1.4" fill="#ff5a3a" opacity="0.73"/>
<ellipse cx="1686.5" cy="129.1" rx="1.7" ry="2.2" fill="#7dff3c" opacity="0.90"/>
<ellipse cx="1696.0" cy="103.4" rx="1.6" ry="1.5" fill="#a8f53a" opacity="0.77"/>
<ellipse cx="1776.0" cy="135.7" rx="1.6" ry="1.9" fill="#5de83a" opacity="0.91"/>
<ellipse cx="1765.0" cy="128.2" rx="2.0" ry="1.6" fill="#7dff3c" opacity="0.84"/>
<ellipse cx="1749.7" cy="131.0" rx="1.1" ry="1.4" fill="#5de83a" opacity="0.84"/>
<ellipse cx="1738.9" cy="126.4" rx="1.9" ry="2.1" fill="#ff3a4a" opacity="0.89"/>
<ellipse cx="1764.4" cy="105.9" rx="1.8" ry="2.2" fill="#ff3a4a" opacity="0.76"/>
<ellipse cx="1721.9" cy="105.4" rx="1.6" ry="2.0" fill="#ff5a3a" opacity="0.80"/>
<ellipse cx="1766.8" cy="132.5" rx="1.0" ry="0.8" fill="#7dff3c" opacity="0.71"/>
<ellipse cx="1761.3" cy="126.8" rx="2.0" ry="1.9" fill="#5de83a" opacity="0.99"/>
<ellipse cx="1780.6" cy="111.5" rx="1.2" ry="1.1" fill="#e6e23a" opacity="0.74"/>
<ellipse cx="1766.8" cy="121.1" rx="1.6" ry="1.3" fill="#ff5a3a" opacity="0.96"/>
<ellipse cx="1719.8" cy="95.1" rx="2.0" ry="2.5" fill="#5de83a" opacity="0.94"/>
<ellipse cx="1772.8" cy="95.9" rx="1.6" ry="1.9" fill="#ff5a3a" opacity="0.83"/>
<ellipse cx="1752.4" cy="134.7" rx="1.2" ry="1.4" fill="#5de83a" opacity="0.71"/>
<ellipse cx="1778.6" cy="89.6" rx="1.1" ry="1.2" fill="#ff5a3a" opacity="0.88"/>
<ellipse cx="1730.4" cy="126.0" rx="1.3" ry="0.9" fill="#7dff3c" opacity="0.91"/>
<ellipse cx="1792.0" cy="119.1" rx="1.8" ry="1.8" fill="#5de83a" opacity="0.95"/>
<ellipse cx="1708.5" cy="147.2" rx="1.0" ry="0.8" fill="#7dff3c" opacity="1.00"/>
<ellipse cx="1736.8" cy="106.2" rx="2.1" ry="1.8" fill="#ff3a4a" opacity="0.84"/>
<ellipse cx="1780.2" cy="115.6" rx="1.6" ry="1.3" fill="#e6e23a" opacity="0.87"/>
<ellipse cx="1747.8" cy="121.3" rx="1.5" ry="1.2" fill="#ff3a4a" opacity="0.72"/>
<ellipse cx="1720.1" cy="115.9" rx="1.8" ry="1.9" fill="#7dff3c" opacity="0.72"/>
<ellipse cx="1733.0" cy="128.2" rx="1.4" ry="1.6" fill="#7dff3c" opacity="0.79"/>
<ellipse cx="1734.8" cy="113.2" rx="1.6" ry="1.2" fill="#ff5a3a" opacity="0.96"/>
<ellipse cx="1736.4" cy="114.6" rx="1.5" ry="1.9" fill="#7dff3c" opacity="0.83"/>
<ellipse cx="1757.0" cy="132.7" rx="1.5" ry="1.1" fill="#ff5a3a" opacity="0.86"/>
<ellipse cx="1786.3" cy="107.1" rx="1.7" ry="1.2" fill="#e6e23a" opacity="0.79"/>
<ellipse cx="1766.3" cy="131.7" rx="2.1" ry="1.6" fill="#a8f53a" opacity="0.96"/>
<ellipse cx="1732.7" cy="125.4" rx="1.3" ry="1.6" fill="#e6e23a" opacity="0.80"/>
<ellipse cx="1728.3" cy="104.2" rx="2.0" ry="1.5" fill="#7dff3c" opacity="0.97"/>
<ellipse cx="1729.0" cy="134.9" rx="2.1" ry="2.1" fill="#ff3a4a" opacity="0.85"/>
<ellipse cx="1765.5" cy="107.8" rx="1.5" ry="1.6" fill="#ff3a4a" opacity="0.92"/>
<ellipse cx="1757.1" cy="119.7" rx="1.0" ry="0.9" fill="#7dff3c" opacity="0.79"/>
<ellipse cx="1713.2" cy="132.8" rx="1.7" ry="1.3" fill="#e6e23a" opacity="0.74"/>
<circle cx="1695.3" cy="57.0" r="1.7" fill="#7dff3c" opacity="0.9"/>
<circle cx="1698.3" cy="63.6" r="1.2" fill="#a8f53a" opacity="0.9"/>
<circle cx="1693.2" cy="65.7" r="1.7" fill="#a8f53a" opacity="0.9"/>
<circle cx="1722.9" cy="78.1" r="1.8" fill="#a8f53a" opacity="0.9"/>
<circle cx="1730.9" cy="73.5" r="2.0" fill="#a8f53a" opacity="0.9"/>
<circle cx="1680.6" cy="59.5" r="1.9" fill="#7dff3c" opacity="0.9"/>
<circle cx="1774.1" cy="85.0" r="1.8" fill="#7dff3c" opacity="0.9"/>
<circle cx="1691.5" cy="36.3" r="1.4" fill="#7dff3c" opacity="0.9"/>
<circle cx="1697.7" cy="59.1" r="1.7" fill="#7dff3c" opacity="0.9"/>
<circle cx="1695.1" cy="52.7" r="1.6" fill="#7dff3c" opacity="0.9"/>
<circle cx="1685.9" cy="62.7" r="1.1" fill="#7dff3c" opacity="0.9"/>
<circle cx="1688.7" cy="61.8" r="1.5" fill="#7dff3c" opacity="0.9"/>
<circle cx="1746.9" cy="94.2" r="1.6" fill="#7dff3c" opacity="0.9"/>
<circle cx="1762.8" cy="86.6" r="0.9" fill="#7dff3c" opacity="0.9"/>
<circle cx="1734.2" cy="75.7" r="2.0" fill="#7dff3c" opacity="0.9"/>
<circle cx="1697.4" cy="61.8" r="1.0" fill="#7dff3c" opacity="0.9"/>
<circle cx="1688.0" cy="50.2" r="1.9" fill="#a8f53a" opacity="0.9"/>
<circle cx="1706.3" cy="55.8" r="1.9" fill="#7dff3c" opacity="0.9"/>
<circle cx="1750.2" cy="91.2" r="1.2" fill="#7dff3c" opacity="0.9"/>
<circle cx="1716.7" cy="101.0" r="1.8" fill="#7dff3c" opacity="0.9"/>
<circle cx="1722.7" cy="75.1" r="1.7" fill="#a8f53a" opacity="0.9"/>
<circle cx="1697.4" cy="55.7" r="1.4" fill="#a8f53a" opacity="0.9"/>
<circle cx="1698.5" cy="64.1" r="1.0" fill="#7dff3c" opacity="0.9"/>
<circle cx="1709.5" cy="82.7" r="0.9" fill="#a8f53a" opacity="0.9"/>
<circle cx="1739.6" cy="75.5" r="1.3" fill="#7dff3c" opacity="0.9"/>
<circle cx="1708.2" cy="87.1" r="1.5" fill="#7dff3c" opacity="0.9"/>
<circle cx="1706.7" cy="58.9" r="1.2" fill="#7dff3c" opacity="0.9"/>
<circle cx="1737.0" cy="79.6" r="1.3" fill="#a8f53a" opacity="0.9"/>
<circle cx="1729.4" cy="96.0" r="1.1" fill="#7dff3c" opacity="0.9"/>
<circle cx="1677.6" cy="45.7" r="1.7" fill="#7dff3c" opacity="0.9"/>
<circle cx="1692.0" cy="65.0" r="1.2" fill="#a8f53a" opacity="0.9"/>
<circle cx="1684.5" cy="63.0" r="1.0" fill="#a8f53a" opacity="0.9"/>
<circle cx="1715.6" cy="64.7" r="2.0" fill="#7dff3c" opacity="0.9"/>
<circle cx="1694.5" cy="57.6" r="1.6" fill="#7dff3c" opacity="0.9"/>
<circle cx="1724.4" cy="45.5" r="1.6" fill="#7dff3c" opacity="0.9"/>
<circle cx="1679.9" cy="62.9" r="1.1" fill="#7dff3c" opacity="0.9"/>
<circle cx="1747.1" cy="52.4" r="1.1" fill="#a8f53a" opacity="0.9"/>
<circle cx="1682.1" cy="60.9" r="1.3" fill="#7dff3c" opacity="0.9"/>
<circle cx="1678.0" cy="71.3" r="1.6" fill="#7dff3c" opacity="0.9"/>
<circle cx="1751.3" cy="67.9" r="1.3" fill="#7dff3c" opacity="0.9"/>
<circle cx="1664.1" cy="76.9" r="1.3" fill="#a8f53a" opacity="0.9"/>
<circle cx="1772.1" cy="89.7" r="2.0" fill="#7dff3c" opacity="0.9"/>
<circle cx="1746.6" cy="80.8" r="1.6" fill="#7dff3c" opacity="0.9"/>
<circle cx="1730.1" cy="84.4" r="1.8" fill="#a8f53a" opacity="0.9"/>
<circle cx="1754.3" cy="69.6" r="1.7" fill="#a8f53a" opacity="0.9"/>
<circle cx="1870.9" cy="129.8" r="1.8" fill="#ff5a3a" opacity="0.9"/>
<circle cx="1879.1" cy="171.3" r="1.1" fill="#e6e23a" opacity="0.9"/>
<circle cx="1809.3" cy="158.5" r="1.1" fill="#5de83a" opacity="0.9"/>
<circle cx="1801.6" cy="166.0" r="1.4" fill="#ff3a4a" opacity="0.9"/>
<circle cx="1849.0" cy="174.9" r="1.7" fill="#7dff3c" opacity="0.9"/>
<circle cx="1856.1" cy="146.1" r="1.8" fill="#ff5a3a" opacity="0.9"/>
<circle cx="1819.6" cy="159.8" r="0.9" fill="#ff5a3a" opacity="0.9"/>
<circle cx="1862.0" cy="181.3" r="1.6" fill="#ff5a3a" opacity="0.9"/>
<circle cx="1854.2" cy="162.8" r="1.0" fill="#5de83a" opacity="0.9"/>
<circle cx="1867.4" cy="164.1" r="1.9" fill="#7dff3c" opacity="0.9"/>
<circle cx="1848.7" cy="119.4" r="1.7" fill="#ff3a4a" opacity="0.9"/>
<circle cx="1872.2" cy="147.3" r="1.7" fill="#a8f53a" opacity="0.9"/>
<circle cx="1836.2" cy="62.0" r="1.4" fill="#e6e23a" opacity="0.9"/>
<circle cx="1872.4" cy="91.2" r="1.3" fill="#5de83a" opacity="0.9"/>
<circle cx="1865.0" cy="142.5" r="1.4" fill="#7dff3c" opacity="0.9"/>
<circle cx="1855.3" cy="191.1" r="1.2" fill="#a8f53a" opacity="0.9"/>
<circle cx="1851.7" cy="200.2" r="1.4" fill="#7dff3c" opacity="0.9"/>
<circle cx="1809.3" cy="119.8" r="1.4" fill="#a8f53a" opacity="0.9"/>
<circle cx="1836.0" cy="162.2" r="1.4" fill="#a8f53a" opacity="0.9"/>
<circle cx="1856.3" cy="163.2" r="1.2" fill="#5de83a" opacity="0.9"/>
<circle cx="1852.2" cy="225.0" r="1.7" fill="#a8f53a" opacity="0.9"/>
<circle cx="1868.3" cy="176.5" r="1.2" fill="#ff3a4a" opacity="0.9"/>
<circle cx="1832.3" cy="146.0" r="1.1" fill="#5de83a" opacity="0.9"/>
<circle cx="1854.1" cy="138.2" r="1.2" fill="#7dff3c" opacity="0.9"/>
<circle cx="1808.8" cy="131.6" r="1.2" fill="#7dff3c" opacity="0.9"/>
<circle cx="1888.9" cy="169.5" r="1.4" fill="#7dff3c" opacity="0.9"/>
<circle cx="1876.6" cy="192.5" r="1.5" fill="#e6e23a" opacity="0.9"/>
<circle cx="1845.1" cy="88.1" r="0.9" fill="#a8f53a" opacity="0.9"/>
<circle cx="1837.8" cy="143.1" r="1.7" fill="#ff5a3a" opacity="0.9"/>
<circle cx="1882.9" cy="231.1" r="1.5" fill="#a8f53a" opacity="0.9"/>
<circle cx="1844.2" cy="185.9" r="2.0" fill="#7dff3c" opacity="0.9"/>
<circle cx="1831.5" cy="158.5" r="1.9" fill="#e6e23a" opacity="0.9"/>
<circle cx="1867.7" cy="174.0" r="1.0" fill="#e6e23a" opacity="0.9"/>
<circle cx="1868.4" cy="178.6" r="1.6" fill="#ff3a4a" opacity="0.9"/>
<circle cx="1830.4" cy="121.4" r="1.6" fill="#ff5a3a" opacity="0.9"/>
<circle cx="1824.1" cy="156.8" r="1.1" fill="#ff5a3a" opacity="0.9"/>
<circle cx="1858.0" cy="153.2" r="1.3" fill="#7dff3c" opacity="0.9"/>
<circle cx="1869.8" cy="140.5" r="1.5" fill="#a8f53a" opacity="0.9"/>
<circle cx="1860.9" cy="135.4" r="1.1" fill="#e6e23a" opacity="0.9"/>
<circle cx="1840.5" cy="151.4" r="1.0" fill="#ff3a4a" opacity="0.9"/>
<circle cx="1791.5" cy="120.1" r="1.4" fill="#ff5a3a" opacity="0.9"/>
<circle cx="1884.0" cy="98.7" r="1.6" fill="#7dff3c" opacity="0.9"/>
<circle cx="1850.6" cy="190.8" r="1.9" fill="#7dff3c" opacity="0.9"/>
<circle cx="1851.7" cy="174.0" r="1.0" fill="#ff3a4a" opacity="0.9"/>
<circle cx="1835.2" cy="160.4" r="1.9" fill="#ff5a3a" opacity="0.9"/>
<circle cx="1813.0" cy="153.0" r="1.0" fill="#7dff3c" opacity="0.9"/>
<circle cx="1863.2" cy="120.8" r="1.9" fill="#a8f53a" opacity="0.9"/>
<circle cx="1868.0" cy="166.5" r="1.6" fill="#a8f53a" opacity="0.9"/>
<circle cx="1872.3" cy="82.2" r="1.7" fill="#7dff3c" opacity="0.9"/>
<circle cx="1818.8" cy="145.2" r="1.3" fill="#a8f53a" opacity="0.9"/>
<circle cx="1845.6" cy="141.3" r="1.3" fill="#a8f53a" opacity="0.9"/>
<circle cx="1856.6" cy="85.4" r="1.3" fill="#e6e23a" opacity="0.9"/>
<circle cx="1837.0" cy="169.2" r="1.4" fill="#7dff3c" opacity="0.9"/>
<circle cx="1820.6" cy="117.6" r="1.9" fill="#7dff3c" opacity="0.9"/>
<circle cx="1844.7" cy="158.6" r="1.8" fill="#ff5a3a" opacity="0.9"/>
<circle cx="1826.1" cy="168.3" r="1.9" fill="#ff5a3a" opacity="0.9"/>
<circle cx="1844.3" cy="114.6" r="1.1" fill="#7dff3c" opacity="0.9"/>
<circle cx="1827.6" cy="176.8" r="1.3" fill="#a8f53a" opacity="0.9"/>
<circle cx="1865.6" cy="140.3" r="1.4" fill="#a8f53a" opacity="0.9"/>
<circle cx="1857.1" cy="125.1" r="1.3" fill="#7dff3c" opacity="0.9"/>
<circle cx="1882.3" cy="98.0" r="1.0" fill="#e6e23a" opacity="0.9"/>
<circle cx="1844.0" cy="162.8" r="1.4" fill="#a8f53a" opacity="0.9"/>
<circle cx="1857.6" cy="160.3" r="1.3" fill="#ff5a3a" opacity="0.9"/>
<circle cx="1817.9" cy="153.9" r="1.4" fill="#e6e23a" opacity="0.9"/>
<circle cx="1815.2" cy="172.6" r="1.9" fill="#ff3a4a" opacity="0.9"/>
<circle cx="1851.8" cy="145.5" r="1.8" fill="#ff3a4a" opacity="0.9"/>
<circle cx="1855.2" cy="183.1" r="1.1" fill="#7dff3c" opacity="0.9"/>
<circle cx="1841.1" cy="107.2" r="1.7" fill="#5de83a" opacity="0.9"/>
<circle cx="1852.2" cy="151.2" r="1.6" fill="#a8f53a" opacity="0.9"/>
<circle cx="1876.5" cy="131.7" r="1.9" fill="#7dff3c" opacity="0.9"/>
<circle cx="1843.7" cy="127.2" r="2.0" fill="#7dff3c" opacity="0.9"/>
<circle cx="1827.3" cy="59.5" r="1.3" fill="#ff5a3a" opacity="0.9"/>
<circle cx="1869.0" cy="120.0" r="1.7" fill="#7dff3c" opacity="0.9"/>
<circle cx="1829.8" cy="126.0" r="2.0" fill="#e6e23a" opacity="0.9"/>
<circle cx="1846.6" cy="120.1" r="1.2" fill="#a8f53a" opacity="0.9"/>
<circle cx="1864.0" cy="156.0" r="1.3" fill="#ff3a4a" opacity="0.9"/>
<circle cx="1821.0" cy="131.2" r="1.2" fill="#7dff3c" opacity="0.9"/>
<circle cx="1850.5" cy="136.4" r="1.0" fill="#e6e23a" opacity="0.9"/>
<circle cx="1875.6" cy="143.5" r="1.8" fill="#7dff3c" opacity="0.9"/>
<circle cx="1827.1" cy="150.8" r="1.4" fill="#a8f53a" opacity="0.9"/>
<circle cx="1835.3" cy="194.8" r="1.2" fill="#5de83a" opacity="0.9"/>
<circle cx="1871.5" cy="138.5" r="1.7" fill="#ff3a4a" opacity="0.9"/>
<circle cx="1864.4" cy="227.6" r="1.7" fill="#e6e23a" opacity="0.9"/>
<circle cx="1870.1" cy="190.4" r="1.3" fill="#7dff3c" opacity="0.9"/>
<circle cx="1829.1" cy="117.6" r="1.2" fill="#7dff3c" opacity="0.9"/>
<circle cx="1839.9" cy="161.8" r="1.7" fill="#7dff3c" opacity="0.9"/>
<circle cx="1866.1" cy="130.1" r="1.0" fill="#ff5a3a" opacity="0.9"/>
<circle cx="1874.7" cy="150.6" r="1.8" fill="#ff3a4a" opacity="0.9"/>
<circle cx="1824.6" cy="119.1" r="1.5" fill="#e6e23a" opacity="0.9"/>
<circle cx="1824.6" cy="149.0" r="1.0" fill="#7dff3c" opacity="0.9"/>
<circle cx="1821.9" cy="136.1" r="1.9" fill="#ff3a4a" opacity="0.9"/>
<circle cx="1850.1" cy="144.6" r="1.1" fill="#5de83a" opacity="0.9"/>
<circle cx="1834.8" cy="164.6" r="1.7" fill="#e6e23a" opacity="0.9"/>
<circle cx="1848.4" cy="114.8" r="2.0" fill="#ff3a4a" opacity="0.9"/>
<circle cx="1836.7" cy="104.2" r="1.4" fill="#5de83a" opacity="0.9"/>
<circle cx="1853.4" cy="212.2" r="1.4" fill="#ff5a3a" opacity="0.9"/>
<circle cx="1857.8" cy="146.0" r="1.7" fill="#ff3a4a" opacity="0.9"/>
<circle cx="1846.0" cy="98.0" r="0.9" fill="#ff5a3a" opacity="0.9"/>
<circle cx="1856.7" cy="110.7" r="1.9" fill="#a8f53a" opacity="0.9"/>
<circle cx="1828.3" cy="214.2" r="1.4" fill="#7dff3c" opacity="0.9"/>
<circle cx="1627.6" cy="109.2" r="0.8" fill="#f01a3e" opacity="0.8"/>
<circle cx="1763.9" cy="20.7" r="1.3" fill="#f01a3e" opacity="0.8"/>
<circle cx="1551.2" cy="54.0" r="1.4" fill="#f01a3e" opacity="0.8"/>
<circle cx="1690.6" cy="210.4" r="0.9" fill="#f01a3e" opacity="0.8"/>
<circle cx="1589.3" cy="103.3" r="1.4" fill="#f01a3e" opacity="0.8"/>
<circle cx="1569.3" cy="251.9" r="1.3" fill="#f01a3e" opacity="0.8"/>
<circle cx="1762.6" cy="74.8" r="1.2" fill="#f01a3e" opacity="0.8"/>
<circle cx="1851.4" cy="165.5" r="0.9" fill="#f01a3e" opacity="0.8"/>
<circle cx="1734.6" cy="266.2" r="1.1" fill="#f01a3e" opacity="0.8"/>
<circle cx="1552.5" cy="57.3" r="1.1" fill="#f01a3e" opacity="0.8"/>
<circle cx="1512.4" cy="1.6" r="1.0" fill="#f01a3e" opacity="0.8"/>
<circle cx="1595.2" cy="138.0" r="0.8" fill="#f01a3e" opacity="0.8"/>
<circle cx="1714.8" cy="188.4" r="0.9" fill="#f01a3e" opacity="0.8"/>
<circle cx="1723.5" cy="147.3" r="1.3" fill="#f01a3e" opacity="0.8"/>
<circle cx="1721.4" cy="178.0" r="1.1" fill="#f01a3e" opacity="0.8"/>
<circle cx="1818.9" cy="27.9" r="0.8" fill="#f01a3e" opacity="0.8"/>
<circle cx="1835.9" cy="232.3" r="0.7" fill="#f01a3e" opacity="0.8"/>
<circle cx="1847.1" cy="169.9" r="1.3" fill="#f01a3e" opacity="0.8"/>
<circle cx="1770.8" cy="105.4" r="0.8" fill="#f01a3e" opacity="0.8"/>
<circle cx="1795.9" cy="198.0" r="1.0" fill="#f01a3e" opacity="0.8"/>
<circle cx="1600.5" cy="102.1" r="1.4" fill="#f01a3e" opacity="0.8"/>
<circle cx="1676.7" cy="59.4" r="1.4" fill="#f01a3e" opacity="0.8"/>
<circle cx="1880.4" cy="50.2" r="0.8" fill="#f01a3e" opacity="0.8"/>
<circle cx="1782.1" cy="108.4" r="1.0" fill="#f01a3e" opacity="0.8"/>
<circle cx="1764.0" cy="76.9" r="1.1" fill="#f01a3e" opacity="0.8"/>
<circle cx="1574.1" cy="62.5" r="1.1" fill="#f01a3e" opacity="0.8"/>
<circle cx="1662.6" cy="249.1" r="0.8" fill="#f01a3e" opacity="0.8"/>
<circle cx="1855.9" cy="73.8" r="0.9" fill="#f01a3e" opacity="0.8"/>
<circle cx="1535.5" cy="88.8" r="1.4" fill="#f01a3e" opacity="0.8"/>
<circle cx="1636.6" cy="232.8" r="1.4" fill="#f01a3e" opacity="0.8"/>
<circle cx="1768.6" cy="52.3" r="1.0" fill="#f01a3e" opacity="0.8"/>
<circle cx="1559.5" cy="70.4" r="0.9" fill="#f01a3e" opacity="0.8"/>
<circle cx="1559.0" cy="189.6" r="1.1" fill="#f01a3e" opacity="0.8"/>
<circle cx="1608.5" cy="71.8" r="0.8" fill="#f01a3e" opacity="0.8"/>
<circle cx="1538.6" cy="122.8" r="0.8" fill="#f01a3e" opacity="0.8"/>
<circle cx="1700.1" cy="72.0" r="1.2" fill="#f01a3e" opacity="0.8"/>
<circle cx="1599.0" cy="238.4" r="1.4" fill="#f01a3e" opacity="0.8"/>
<circle cx="1861.2" cy="64.3" r="1.4" fill="#f01a3e" opacity="0.8"/>
<circle cx="1680.1" cy="246.3" r="1.0" fill="#f01a3e" opacity="0.8"/>
<circle cx="1707.4" cy="72.9" r="1.2" fill="#f01a3e" opacity="0.8"/>
<circle cx="1638.9" cy="246.1" r="1.2" fill="#f01a3e" opacity="0.8"/>
<circle cx="1663.1" cy="9.8" r="0.9" fill="#f01a3e" opacity="0.8"/>
<circle cx="1658.5" cy="103.8" r="1.1" fill="#f01a3e" opacity="0.8"/>
<circle cx="1495.5" cy="130.8" r="1.3" fill="#f01a3e" opacity="0.8"/>
<circle cx="1870.4" cy="192.0" r="1.2" fill="#f01a3e" opacity="0.8"/>
<circle cx="1731.9" cy="278.1" r="1.3" fill="#f01a3e" opacity="0.8"/>
<circle cx="1675.5" cy="138.5" r="1.4" fill="#f01a3e" opacity="0.8"/>
<circle cx="1711.7" cy="167.0" r="0.9" fill="#f01a3e" opacity="0.8"/>
<circle cx="1756.2" cy="136.5" r="1.4" fill="#f01a3e" opacity="0.8"/>
<circle cx="1888.9" cy="277.2" r="1.4" fill="#f01a3e" opacity="0.8"/>
<circle cx="1510.6" cy="21.4" r="0.9" fill="#f01a3e" opacity="0.8"/>
<circle cx="1820.5" cy="155.9" r="0.9" fill="#f01a3e" opacity="0.8"/>
<circle cx="1533.2" cy="70.5" r="0.8" fill="#f01a3e" opacity="0.8"/>
<circle cx="1550.2" cy="207.6" r="0.8" fill="#f01a3e" opacity="0.8"/>
<circle cx="1559.4" cy="173.0" r="0.8" fill="#f01a3e" opacity="0.8"/>
<circle cx="1823.1" cy="181.4" r="1.3" fill="#f01a3e" opacity="0.8"/>
<circle cx="1780.6" cy="203.7" r="0.9" fill="#f01a3e" opacity="0.8"/>
<circle cx="1660.7" cy="106.5" r="1.0" fill="#f01a3e" opacity="0.8"/>
<circle cx="1854.3" cy="122.0" r="1.3" fill="#f01a3e" opacity="0.8"/>
<circle cx="1742.9" cy="24.1" r="0.8" fill="#f01a3e" opacity="0.8"/>
<circle cx="1722.0" cy="219.9" r="0.9" fill="#f01a3e" opacity="0.8"/>
<circle cx="1592.2" cy="105.7" r="1.0" fill="#f01a3e" opacity="0.8"/>
<circle cx="1659.6" cy="257.5" r="1.1" fill="#f01a3e" opacity="0.8"/>
<circle cx="1603.4" cy="96.5" r="1.1" fill="#f01a3e" opacity="0.8"/>
<circle cx="1556.9" cy="109.8" r="0.7" fill="#f01a3e" opacity="0.8"/>
<circle cx="1753.1" cy="241.5" r="1.3" fill="#f01a3e" opacity="0.8"/>
<circle cx="1729.6" cy="107.8" r="1.1" fill="#f01a3e" opacity="0.8"/>
<circle cx="1713.2" cy="50.1" r="1.1" fill="#f01a3e" opacity="0.8"/>
<circle cx="1690.1" cy="55.9" r="1.0" fill="#f01a3e" opacity="0.8"/>
<circle cx="1824.2" cy="178.9" r="0.9" fill="#f01a3e" opacity="0.8"/>
<circle cx="1587.8" cy="175.9" r="1.1" fill="#f01a3e" opacity="0.8"/>
<circle cx="1611.3" cy="131.7" r="1.0" fill="#f01a3e" opacity="0.8"/>
<circle cx="1741.5" cy="244.6" r="1.0" fill="#f01a3e" opacity="0.8"/>
<circle cx="1706.2" cy="156.9" r="1.2" fill="#f01a3e" opacity="0.8"/>
<circle cx="1589.7" cy="69.6" r="1.3" fill="#f01a3e" opacity="0.8"/>
<circle cx="1550.9" cy="189.9" r="0.9" fill="#f01a3e" opacity="0.8"/>
<circle cx="1687.7" cy="126.3" r="0.9" fill="#f01a3e" opacity="0.8"/>
<circle cx="1563.1" cy="266.5" r="0.7" fill="#f01a3e" opacity="0.8"/>
<circle cx="1549.8" cy="205.9" r="1.0" fill="#f01a3e" opacity="0.8"/>
<circle cx="1570.6" cy="216.3" r="1.4" fill="#f01a3e" opacity="0.8"/>
<circle cx="1575.5" cy="197.1" r="1.0" fill="#f01a3e" opacity="0.8"/>
<circle cx="1888.1" cy="166.6" r="1.3" fill="#f01a3e" opacity="0.8"/>
<circle cx="1755.7" cy="37.7" r="1.0" fill="#f01a3e" opacity="0.8"/>
<circle cx="1772.4" cy="43.6" r="0.8" fill="#f01a3e" opacity="0.8"/>
<circle cx="1885.4" cy="257.2" r="1.2" fill="#f01a3e" opacity="0.8"/>
<circle cx="1518.5" cy="195.5" r="1.4" fill="#f01a3e" opacity="0.8"/>
<circle cx="1802.9" cy="199.4" r="1.0" fill="#f01a3e" opacity="0.8"/>
<circle cx="1743.5" cy="257.9" r="1.0" fill="#f01a3e" opacity="0.8"/>
<circle cx="1522.9" cy="41.4" r="1.4" fill="#f01a3e" opacity="0.8"/>
<circle cx="1774.1" cy="260.4" r="0.8" fill="#f01a3e" opacity="0.8"/>
<path d="M1493,129 C1530,126 1590,116 1630,100 C1660,86 1680,55 1692,36" stroke="#fff" stroke-width="1.4" fill="none" stroke-dasharray="4.5 3"/>
<path d="M1719,33 C1735,52 1760,72 1800,85 C1830,93 1860,94 1889,94" stroke="#fff" stroke-width="1.4" fill="none" stroke-dasharray="4.5 3"/>
<path d="M1598,254 C1605,225 1640,185 1680,156 C1700,143 1720,138 1745,148 C1790,170 1830,215 1864,255" stroke="#fff" stroke-width="1.4" fill="none" stroke-dasharray="4.5 3"/>
<path d="M1508.5,75.5 L1515.6,158 L1549.8,165.5 L1543.5,72.5" stroke="#fff" stroke-width="1.5" fill="none" />
<rect x="1850" y="308.6" width="30.6" height="2.9" fill="#fff" />
<text x="1497.5" y="31.8" font-size="30" font-weight="bold" fill="#6ee63c" textLength="220" lengthAdjust="spacingAndGlyphs" stroke="#6ee63c" stroke-width="0.4" stroke-linejoin="round" >DAT Cre::GCaMP</text>
<text x="1722.5" y="21.5" font-size="23" font-weight="normal" fill="#6ee63c" textLength="44.5" lengthAdjust="spacingAndGlyphs" stroke="#6ee63c" stroke-width="0.5" stroke-linejoin="round" >VTA</text>
<text x="1845.5" y="32" font-size="28" font-weight="normal" fill="#ff1f3d" textLength="36.5" lengthAdjust="spacingAndGlyphs" stroke="#ff1f3d" stroke-width="0.6" stroke-linejoin="round" >TH</text>
<text x="1819.5" y="62.5" font-size="28.6" font-weight="normal" fill="#2f80ea" textLength="74" lengthAdjust="spacingAndGlyphs" stroke="#2f80ea" stroke-width="0.6" stroke-linejoin="round" >DAPI</text>
<text x="1509" y="235.3" font-size="29.8" font-weight="bold" fill="#fff" textLength="68" lengthAdjust="spacingAndGlyphs" stroke="#fff" stroke-width="0.5" stroke-linejoin="round" >VTA</text>
</g>
<text x="0" y="378.6" font-size="62" font-weight="bold" fill="#141414" textLength="28" lengthAdjust="spacingAndGlyphs" stroke="#141414" stroke-width="0.9" stroke-linejoin="round" >c</text>
<text x="72.4" y="368.2" font-size="15.2" font-weight="bold" fill="#8a1fc2" textLength="40.7" lengthAdjust="spacingAndGlyphs" stroke="#8a1fc2" stroke-width="0.25" stroke-linejoin="round" >Social</text>
<text x="121.9" y="368.2" font-size="15.2" font-weight="bold" fill="#3e7bea" textLength="72.4" lengthAdjust="spacingAndGlyphs" stroke="#3e7bea" stroke-width="0.25" stroke-linejoin="round" >Non-Social</text>
<text x="373" y="362.3" font-size="17.3" font-weight="bold" fill="#141414" textLength="40.8" lengthAdjust="spacingAndGlyphs" stroke="#141414" stroke-width="0.3" stroke-linejoin="round" >Day 1</text>
<rect x="70.6" y="375.0" width="30.4" height="8.7" fill="#8a1fc2" />
<rect x="106.5" y="375.0" width="12.4" height="8.7" fill="#8a1fc2" />
<rect x="134.5" y="375.0" width="4.6" height="8.7" fill="#3e7bea" />
<rect x="144.2" y="375.0" width="6.2" height="8.7" fill="#3e7bea" />
<rect x="166.7" y="375.0" width="25.3" height="8.7" fill="#ff3ecb" />
<rect x="201.2" y="375.0" width="2.8" height="8.7" fill="#ff3ecb" />
<rect x="206.8" y="375.0" width="7.6" height="8.7" fill="#ff3ecb" />
<rect x="220.1" y="375.0" width="4.1" height="8.7" fill="#ff3ecb" />
<rect x="284.9" y="375.0" width="4.6" height="8.7" fill="#ff3ecb" />
<rect x="295.1" y="375.0" width="19.3" height="8.7" fill="#ff3ecb" />
<rect x="338.5" y="375.0" width="3.0" height="8.7" fill="#3e7bea" />
<rect x="350.7" y="375.0" width="10.1" height="8.7" fill="#3e7bea" />
<rect x="381.1" y="375.0" width="2.3" height="8.7" fill="#ff3ecb" />
<rect x="385.0" y="375.0" width="2.3" height="8.7" fill="#ff3ecb" />
<rect x="405.5" y="375.0" width="7.8" height="8.7" fill="#3e7bea" />
<path d="M38.4,505.3 L39.5,506.1 L40.7,500.5 L41.8,518.9 L43.0,516.7 L44.4,529.0 L45.8,519.8 L47.1,533.2 L48.5,543.9 L49.9,541.8 L51.3,535.7 L52.7,538.9 L54.0,532.9 L55.4,541.4 L56.8,530.3 L58.2,545.0 L59.6,533.4 L60.9,546.9 L62.3,555.5 L63.7,550.6 L65.1,536.4 L66.6,533.6 L68.0,518.2 L69.4,513.4 L70.6,533.8 L71.7,540.9 L72.9,515.7 L74.0,491.7 L75.2,467.0 L76.3,434.3 L77.7,417.1 L79.0,416.0 L80.3,398.1 L82.1,437.8 L83.2,449.7 L84.4,472.0 L85.5,472.6 L86.7,498.8 L87.8,500.2 L89.0,478.0 L90.1,491.5 L91.3,504.3 L92.4,500.2 L93.6,516.5 L94.7,486.5 L95.9,480.2 L97.0,473.7 L98.2,480.1 L99.3,474.1 L100.5,498.4 L101.6,502.4 L103.1,503.0 L104.5,492.1 L106.0,501.5 L107.4,500.2 L108.5,507.9 L109.7,503.8 L110.8,527.4 L112.0,530.7 L113.1,537.9 L114.3,536.6 L115.7,543.8 L117.2,521.8 L118.6,528.3 L120.0,513.7 L121.4,524.6 L122.7,515.2 L124.1,530.7 L125.4,523.8 L126.8,536.4 L128.1,534.3 L129.5,541.5 L130.9,535.6 L132.2,548.7 L133.6,544.2 L135.0,546.3 L136.4,541.1 L137.8,552.5 L139.1,534.1 L140.5,551.1 L141.9,540.1 L143.3,551.5 L144.7,532.1 L146.0,544.2 L147.4,524.3 L148.8,534.2 L150.2,525.9 L151.7,545.2 L153.1,534.2 L154.5,547.9 L156.0,535.9 L157.4,541.0 L158.9,521.1 L160.3,526.3 L161.4,514.0 L162.6,522.4 L163.7,504.4 L164.9,514.9 L166.0,488.2 L167.2,483.0 L168.3,460.8 L170.0,504.3 L171.4,507.4 L172.9,523.8 L174.4,515.3 L175.8,520.3 L177.3,506.9 L178.7,519.1 L180.1,515.2 L181.5,534.1 L182.8,529.0 L184.2,541.1 L185.6,539.0 L186.7,548.2 L187.9,530.5 L189.0,541.9 L190.2,535.5 L191.3,537.6 L192.5,521.7 L193.6,530.9 L194.8,516.5 L196.2,517.5 L197.6,505.2 L198.9,519.3 L200.3,503.3 L201.7,511.8 L202.8,521.1 L204.0,532.3 L205.3,530.8 L206.5,535.2 L207.8,520.0 L209.1,533.4 L210.4,518.2 L211.7,521.6 L212.9,510.3 L214.2,516.0 L215.5,507.5 L216.9,520.3 L218.3,510.5 L219.6,530.8 L221.0,518.5 L222.4,533.6 L223.7,522.6 L225.0,534.2 L226.3,515.7 L227.6,525.0 L229.0,515.4 L230.3,516.4 L231.6,505.1 L232.9,517.8 L234.2,501.0 L235.5,519.7 L236.8,502.0 L238.2,519.4 L239.5,507.2 L240.8,513.3 L242.1,500.4 L243.4,508.3 L244.7,496.1 L246.0,505.9 L247.4,493.0 L248.7,502.1 L250.0,493.0 L251.4,498.6 L252.8,491.9 L254.1,481.0 L255.5,480.5 L256.9,488.4 L258.0,479.7 L259.2,488.8 L260.3,486.6 L261.5,509.0 L262.6,503.8 L263.8,524.3 L264.9,515.9 L266.1,520.0 L267.2,507.6 L268.4,504.6 L269.5,499.3 L270.7,516.4 L271.8,511.9 L273.0,520.1 L274.3,529.8 L275.7,531.0 L277.0,524.6 L278.4,542.0 L279.7,534.0 L281.0,546.4 L282.5,526.9 L283.9,528.0 L285.4,514.8 L286.8,512.7 L288.2,509.9 L289.5,530.8 L290.9,523.7 L292.3,539.1 L293.7,539.3 L295.1,540.5 L296.6,525.7 L298.0,528.6 L299.4,511.2 L300.8,518.6 L302.1,512.5 L303.5,527.8 L304.8,517.2 L306.1,531.8 L307.5,518.0 L308.9,520.6 L310.2,524.1 L311.6,538.0 L313.0,538.1 L314.4,545.1 L315.5,515.1 L316.7,504.6 L317.8,474.7 L319.0,479.5 L320.1,486.1 L321.3,505.4 L322.4,492.0 L323.6,488.3 L324.7,492.8 L325.9,512.9 L327.0,519.8 L328.2,524.6 L329.3,499.8 L330.5,506.7 L331.6,476.5 L332.8,473.5 L333.9,448.5 L335.1,477.9 L336.2,495.8 L337.4,497.7 L338.5,480.8 L339.7,493.9 L340.8,496.7 L342.0,509.2 L343.4,494.0 L344.7,505.0 L346.1,491.5 L347.5,500.7 L348.9,486.2 L350.0,507.4 L351.2,504.9 L352.3,521.8 L353.5,516.9 L354.9,528.0 L356.2,522.4 L357.6,531.3 L359.0,522.7 L360.4,532.7 L361.5,513.3 L362.7,521.5 L363.8,505.0 L365.0,508.5 L366.1,519.9 L367.3,536.6 L368.4,534.4 L369.6,537.9 L370.7,515.2 L371.9,512.1 L373.3,507.4 L374.6,518.5 L376.0,503.0 L377.4,509.7 L378.8,509.5 L380.1,503.4 L381.4,507.8 L382.7,529.1 L384.0,518.2 L385.4,533.3 L386.7,529.6 L388.0,534.5 L389.4,522.9 L390.7,527.5 L392.1,511.3 L393.5,519.2 L394.9,504.6 L396.3,513.4 L397.6,509.6 L399.0,532.7 L400.4,527.6 L401.8,540.8 L402.9,517.9 L404.1,524.2 L405.2,507.1 L406.4,504.9 L407.5,475.3 L408.7,469.8 L409.8,478.7 L411.0,499.6 L412.4,492.2 L413.7,491.8" stroke="#1f1f1f" stroke-width="1.4" fill="none" stroke-linejoin="round"/>
<path d="M441.2,492.5 L441.2,510.4 L459.8,510.4" stroke="#111" stroke-width="2.5" fill="none" />
<text x="436" y="541.5" font-size="16.7" font-weight="bold" fill="#141414" textLength="69" lengthAdjust="spacingAndGlyphs" transform="rotate(-90 436 541.5)" stroke="#141414" stroke-width="0.3" stroke-linejoin="round" >10ΔF/F0</text>
<text x="440.8" y="528" font-size="17.5" font-weight="bold" fill="#141414" textLength="24.5" lengthAdjust="spacingAndGlyphs" stroke="#141414" stroke-width="0.3" stroke-linejoin="round" >10s</text>
<text x="63.7" y="608.8" font-size="15.2" font-weight="bold" fill="#2fb981" textLength="40.7" lengthAdjust="spacingAndGlyphs" stroke="#2fb981" stroke-width="0.25" stroke-linejoin="round" >Social</text>
<text x="121.9" y="608.8" font-size="15.2" font-weight="bold" fill="#3e7bea" textLength="72.4" lengthAdjust="spacingAndGlyphs" stroke="#3e7bea" stroke-width="0.25" stroke-linejoin="round" >Non-Social</text>
<text x="373" y="603" font-size="17.3" font-weight="bold" fill="#141414" textLength="42" lengthAdjust="spacingAndGlyphs" stroke="#141414" stroke-width="0.3" stroke-linejoin="round" >Day 2</text>
<rect x="56.1" y="615.2" width="2.5" height="8.5" fill="#3e7bea" />
<rect x="72.0" y="615.2" width="10.1" height="8.5" fill="#2fb981" />
<rect x="90.4" y="615.2" width="2.8" height="8.5" fill="#6bd52a" />
<rect x="100.5" y="615.2" width="2.8" height="8.5" fill="#3e7bea" />
<rect x="109.0" y="615.2" width="2.3" height="8.5" fill="#3e7bea" />
<rect x="120.5" y="615.2" width="3.0" height="8.5" fill="#6bd52a" />
<rect x="127.6" y="615.2" width="2.3" height="8.5" fill="#6bd52a" />
<rect x="144.2" y="615.2" width="3.4" height="8.5" fill="#6bd52a" />
<rect x="153.9" y="615.2" width="2.3" height="8.5" fill="#6bd52a" />
<rect x="194.3" y="615.2" width="2.1" height="8.5" fill="#6bd52a" />
<rect x="210.4" y="615.2" width="5.1" height="8.5" fill="#6bd52a" />
<rect x="254.6" y="615.2" width="9.7" height="8.5" fill="#6bd52a" />
<rect x="276.4" y="615.2" width="2.1" height="8.5" fill="#6bd52a" />
<rect x="290.7" y="615.2" width="3.4" height="8.5" fill="#3e7bea" />
<rect x="298.3" y="615.2" width="4.1" height="8.5" fill="#3e7bea" />
<rect x="314.4" y="615.2" width="5.7" height="8.5" fill="#6bd52a" />
<rect x="324.7" y="615.2" width="7.4" height="8.5" fill="#6bd52a" />
<rect x="343.6" y="615.2" width="6.7" height="8.5" fill="#3e7bea" />
<rect x="374.9" y="615.2" width="3.9" height="8.5" fill="#3e7bea" />
<rect x="399.5" y="615.2" width="4.1" height="8.5" fill="#6bd52a" />
<path d="M38.9,754.2 L40.7,719.5 L42.3,690.0 L44.1,709.0 L45.3,704.8 L46.4,722.1 L47.6,720.7 L48.7,742.1 L49.9,736.2 L51.0,742.2 L52.2,724.8 L53.3,718.3 L54.5,727.6 L55.6,751.2 L56.8,766.8 L57.9,758.9 L59.1,742.4 L60.2,740.3 L61.6,752.4 L63.0,774.5 L64.5,744.8 L66.0,732.7 L67.4,742.8 L68.8,764.9 L70.3,741.8 L71.7,720.6 L73.4,675.5 L75.2,701.6 L76.3,696.9 L77.5,705.3 L78.9,710.5 L80.3,735.2 L81.8,729.2 L83.2,741.0 L84.6,724.4 L86.0,731.2 L87.4,715.8 L89.0,744.9 L90.1,727.0 L91.3,727.1 L92.4,709.0 L93.6,728.9 L94.7,719.6 L95.9,740.5 L97.0,744.9 L98.9,731.6 L100.2,736.4 L101.5,753.2 L102.8,759.0 L103.9,770.4 L105.1,757.4 L106.2,761.8 L107.4,750.9 L108.5,745.1 L109.7,726.8 L111.2,756.4 L112.7,760.1 L114.0,770.7 L115.2,751.5 L116.5,765.9 L117.7,755.2 L119.2,747.4 L120.7,726.4 L122.0,753.0 L123.3,754.9 L124.6,777.6 L125.8,759.8 L126.9,769.3 L128.1,751.9 L129.3,761.0 L130.6,743.6 L131.8,751.6 L133.1,738.7 L134.3,746.4 L135.6,756.4 L137.0,767.2 L138.3,760.2 L139.6,778.0 L141.1,753.1 L142.6,739.7 L143.9,739.9 L145.2,760.9 L146.5,761.2 L147.9,773.4 L149.4,766.5 L150.8,780.3 L152.2,778.6 L153.4,787.9 L154.5,776.9 L155.7,781.0 L157.3,741.6 L158.7,752.1 L160.1,748.4 L161.4,751.5 L162.9,751.7 L164.3,758.6 L165.8,743.1 L167.2,754.4 L168.6,724.3 L170.0,713.7 L171.1,722.1 L172.3,749.4 L173.5,734.1 L174.7,738.7 L175.9,724.3 L177.3,743.7 L178.7,754.5 L179.8,769.6 L181.0,769.6 L182.1,783.9 L183.3,758.7 L184.4,747.8 L185.6,750.7 L186.7,764.7 L187.9,765.8 L189.0,764.3 L190.2,758.0 L191.3,763.5 L192.5,755.4 L193.9,765.0 L195.4,760.1 L196.8,772.4 L198.2,767.1 L199.4,777.5 L200.5,777.6 L201.7,788.6 L202.8,787.2 L204.0,749.2 L205.1,698.5 L206.3,729.2 L207.4,740.5 L208.6,755.6 L209.7,755.1 L210.9,768.3 L212.0,761.3 L213.2,768.5 L214.3,766.9 L215.5,769.3 L216.8,764.3 L218.1,780.3 L219.4,777.9 L220.9,762.3 L222.4,733.7 L223.5,748.9 L224.7,746.5 L225.8,757.0 L227.1,753.0 L228.4,745.2 L229.8,731.3 L231.2,752.0 L232.7,750.6 L233.9,752.5 L235.0,743.7 L236.2,743.1 L237.3,714.9 L238.5,711.9 L239.6,686.3 L241.1,698.7 L242.6,726.5 L243.9,744.9 L245.2,746.9 L246.5,764.1 L247.7,750.4 L248.8,748.8 L250.0,755.8 L251.1,755.6 L252.3,756.8 L253.4,777.3 L254.8,757.8 L256.1,756.4 L257.4,741.9 L258.7,727.6 L260.3,762.7 L261.5,760.1 L262.6,751.3 L263.8,759.1 L264.9,756.2 L266.1,773.8 L267.2,778.1 L268.4,781.8 L269.7,761.2 L271.0,761.1 L272.3,744.2 L273.8,766.2 L275.3,772.9 L276.4,764.5 L277.6,754.8 L278.7,756.9 L279.9,742.0 L281.0,755.3 L282.2,753.8 L283.3,771.0 L284.5,767.5 L285.6,766.8 L286.8,756.4 L287.9,757.3 L289.4,761.5 L290.8,769.0 L292.3,761.5 L293.7,777.3 L295.1,761.7 L296.6,766.4 L298.0,753.1 L299.4,745.5 L300.9,746.2 L302.3,761.7 L303.8,752.3 L305.2,765.0 L306.5,759.3 L307.7,774.0 L309.0,772.1 L310.2,781.1 L311.4,770.9 L312.6,775.8 L313.8,783.2 L315.0,790.5 L316.2,788.2 L317.6,779.6 L319.0,763.5 L320.4,772.7 L321.9,758.6 L323.3,772.4 L324.7,760.9 L326.2,737.9 L327.7,697.6 L329.1,726.7 L330.5,753.2 L331.6,763.8 L332.8,756.0 L333.9,760.0 L335.1,771.4 L336.2,779.6 L337.4,768.2 L338.5,778.6 L339.7,770.4 L341.3,714.1 L342.8,727.0 L344.3,761.6 L346.1,677.2 L347.5,703.8 L348.9,726.4 L350.0,743.8 L351.2,735.0 L352.3,755.5 L353.5,752.6 L354.8,772.0 L356.0,763.0 L357.3,783.0 L358.5,784.6 L360.0,775.5 L361.5,757.6 L363.0,767.7 L364.4,769.2 L365.8,780.1 L367.3,780.9 L368.6,782.2 L369.8,775.8 L371.1,788.6 L372.3,778.7 L373.7,774.6 L375.1,753.3 L376.5,746.5 L378.3,759.1 L379.7,751.6 L381.1,728.2 L382.2,746.8 L383.4,741.9 L384.5,759.4 L385.9,766.8 L387.3,773.9 L388.8,745.3 L390.3,733.8 L391.4,737.4 L392.6,745.2 L393.7,736.1 L394.9,735.2 L396.0,725.8 L397.5,736.0 L398.9,730.0 L400.3,743.6 L401.8,737.8 L402.9,753.0 L404.1,756.4 L405.2,772.6 L406.4,768.3 L407.5,771.7 L408.7,722.9 L409.8,695.5 L411.0,690.5 L412.1,705.0 L413.3,714.7 L414.4,732.9" stroke="#1f1f1f" stroke-width="1.4" fill="none" stroke-linejoin="round"/>
<text x="62.5" y="826.9" font-size="15.2" font-weight="bold" fill="#f26a2b" textLength="40.7" lengthAdjust="spacingAndGlyphs" stroke="#f26a2b" stroke-width="0.25" stroke-linejoin="round" >Social</text>
<text x="176.4" y="826.9" font-size="15.2" font-weight="bold" fill="#3e7bea" textLength="73" lengthAdjust="spacingAndGlyphs" stroke="#3e7bea" stroke-width="0.25" stroke-linejoin="round" >Non-Social</text>
<text x="373" y="820.4" font-size="17.3" font-weight="bold" fill="#141414" textLength="42" lengthAdjust="spacingAndGlyphs" stroke="#141414" stroke-width="0.3" stroke-linejoin="round" >Day 3</text>
<rect x="59.8" y="833.7" width="4.1" height="10.6" fill="#f26a2b" />
<rect x="70.8" y="833.7" width="2.5" height="10.6" fill="#8e3b17" />
<rect x="93.6" y="833.7" width="2.5" height="10.6" fill="#8e3b17" />
<rect x="102.1" y="833.7" width="4.4" height="10.6" fill="#8e3b17" />
<rect x="205.1" y="833.7" width="4.1" height="10.6" fill="#3e7bea" />
<rect x="211.4" y="833.7" width="5.7" height="10.6" fill="#3e7bea" />
<rect x="229.8" y="833.7" width="4.1" height="10.6" fill="#8e3b17" />
<rect x="235.3" y="833.7" width="2.1" height="10.6" fill="#8e3b17" />
<rect x="238.3" y="833.7" width="2.1" height="10.6" fill="#8e3b17" />
<rect x="245.4" y="833.7" width="3.9" height="10.6" fill="#8e3b17" />
<rect x="267.9" y="833.7" width="2.8" height="10.6" fill="#3e7bea" />
<rect x="282.9" y="833.7" width="3.9" height="10.6" fill="#8e3b17" />
<rect x="295.3" y="833.7" width="3.4" height="10.6" fill="#8e3b17" />
<rect x="300.6" y="833.7" width="2.5" height="10.6" fill="#8e3b17" />
<rect x="318.3" y="833.7" width="11.7" height="10.6" fill="#3e7bea" />
<rect x="340.8" y="833.7" width="9.4" height="10.6" fill="#8e3b17" />
<rect x="381.3" y="833.7" width="4.1" height="10.6" fill="#3e7bea" />
<path d="M38.9,974.4 L40.7,997.4 L41.8,979.9 L43.0,977.2 L44.1,963.3 L45.6,976.0 L47.1,977.9 L48.7,943.5 L50.2,946.4 L51.7,963.0 L53.1,960.3 L54.5,953.8 L55.6,966.9 L56.8,976.7 L58.1,959.9 L59.3,968.0 L60.6,953.9 L61.9,955.9 L63.4,968.7 L64.8,973.9 L66.0,961.2 L67.1,972.4 L68.3,960.8 L69.4,975.6 L70.6,974.4 L71.7,989.7 L72.9,987.4 L74.0,1002.4 L75.2,991.8 L76.3,998.7 L77.5,986.5 L78.9,1000.8 L80.4,993.3 L81.8,1006.3 L83.2,1002.3 L84.4,997.8 L85.5,980.5 L86.7,965.2 L87.8,967.9 L89.0,995.7 L90.1,977.5 L91.3,985.8 L92.4,970.3 L93.6,987.4 L94.7,982.4 L95.9,996.6 L97.0,986.5 L98.2,993.6 L99.3,980.9 L100.5,993.5 L101.6,990.6 L102.8,1002.7 L104.1,999.6 L105.4,1016.3 L106.7,1013.4 L108.2,1011.5 L109.7,987.6 L110.8,1004.3 L112.0,994.8 L113.1,1007.3 L114.6,997.8 L116.1,1004.3 L117.3,979.1 L118.4,967.8 L119.7,973.5 L121.0,988.9 L122.3,989.8 L123.8,1000.2 L125.2,991.2 L126.7,1003.3 L128.1,1003.3 L129.2,1012.1 L130.4,1003.6 L131.5,1010.0 L133.0,979.3 L134.5,961.6 L135.9,970.6 L137.3,987.0 L138.4,987.4 L139.6,1008.6 L140.7,1002.7 L141.9,1008.7 L143.0,986.8 L144.2,991.6 L145.3,994.7 L146.5,1002.2 L147.8,992.2 L149.1,994.9 L150.4,973.1 L151.9,991.6 L153.4,982.5 L154.5,999.2 L155.7,990.3 L156.8,999.5 L158.1,991.6 L159.5,991.5 L160.8,978.8 L162.1,986.8 L163.4,983.2 L164.7,987.5 L166.0,980.4 L167.2,989.1 L168.3,974.4 L169.5,982.7 L170.6,971.7 L171.8,965.3 L172.9,946.1 L174.1,933.8 L175.2,904.8 L177.1,971.5 L178.5,968.4 L179.8,990.5 L181.0,990.0 L182.1,1002.7 L183.3,1001.8 L184.4,1015.3 L185.6,1006.3 L186.7,1015.1 L188.2,995.0 L189.7,994.9 L191.3,994.7 L193.0,1006.2 L194.4,1008.4 L195.9,1018.0 L197.2,992.6 L198.5,991.9 L199.9,968.5 L201.3,979.3 L202.8,994.2 L204.0,1004.2 L205.1,996.5 L207.0,953.6 L208.4,955.1 L209.7,974.7 L211.2,969.8 L212.6,978.1 L214.1,973.7 L215.5,983.6 L216.6,977.8 L217.8,998.4 L218.9,1000.2 L220.1,1009.2 L221.2,1003.1 L222.4,1015.2 L223.7,998.9 L225.0,997.2 L226.3,976.3 L227.8,967.7 L229.3,959.0 L230.4,971.1 L231.6,972.6 L232.7,979.0 L233.9,978.1 L235.0,997.4 L236.2,993.7 L237.3,1009.8 L238.5,991.3 L239.6,1001.2 L240.8,984.6 L241.9,989.7 L243.1,985.5 L244.2,1000.5 L245.4,984.0 L246.5,996.5 L247.9,994.4 L249.3,1011.1 L250.8,989.6 L252.3,980.2 L253.9,947.9 L255.7,1005.9 L256.9,989.2 L258.0,998.8 L259.2,980.8 L260.3,962.8 L261.5,949.4 L262.6,965.8 L263.8,964.3 L264.9,976.9 L266.1,970.0 L267.2,978.9 L268.4,963.5 L269.5,976.0 L270.8,974.5 L272.1,999.0 L273.3,995.5 L274.6,1006.4 L276.0,997.8 L277.4,992.7 L278.7,977.2 L279.9,976.6 L281.0,955.4 L282.2,962.8 L283.3,957.0 L284.5,973.0 L285.6,958.0 L286.8,952.4 L287.9,937.3 L289.1,958.8 L290.2,966.2 L291.5,987.6 L292.8,986.3 L294.1,1000.6 L295.6,967.8 L297.1,960.5 L298.4,959.4 L299.7,980.9 L301.0,978.2 L302.4,993.3 L303.7,985.2 L305.0,1000.6 L306.3,994.4 L307.5,996.8 L308.6,977.4 L309.8,978.5 L310.9,960.8 L312.1,963.6 L313.2,955.0 L314.4,971.6 L315.5,968.0 L316.7,989.2 L317.8,976.6 L319.0,970.4 L320.1,967.1 L321.3,968.2 L322.4,966.1 L323.6,986.9 L324.7,986.1 L325.9,997.7 L327.0,992.4 L328.2,1011.2 L329.3,997.6 L330.5,1016.3 L331.6,1001.5 L332.8,1002.6 L333.9,997.0 L335.1,1005.3 L336.2,996.9 L337.4,1008.8 L338.5,1000.0 L339.7,1003.7 L340.8,983.3 L342.0,995.0 L343.1,976.2 L344.5,946.8 L345.9,907.3 L347.7,904.8 L348.9,927.8 L350.0,969.2 L351.2,948.1 L352.3,934.9 L353.5,938.2 L354.6,950.2 L355.8,951.7 L356.9,968.0 L358.1,953.8 L359.2,971.0 L360.4,962.0 L361.5,965.9 L362.7,955.5 L363.8,980.0 L365.0,983.4 L366.1,985.2 L367.3,973.7 L368.4,974.7 L369.6,947.6 L370.7,930.0 L372.1,941.8 L373.5,976.0 L374.8,957.0 L376.0,952.2 L377.2,963.3 L378.3,978.6 L379.9,905.5 L381.3,927.8 L382.7,935.0 L384.2,960.7 L385.7,965.9 L386.8,962.3 L388.0,965.8 L389.1,983.5 L390.3,973.8 L391.4,978.8 L392.6,976.3 L393.7,992.6 L394.9,981.1 L396.0,997.8 L397.2,984.6 L398.3,998.5 L399.5,996.5 L400.6,995.9 L401.8,980.2 L402.9,988.6 L404.1,972.2 L405.2,986.2 L406.4,984.5 L407.5,998.0 L408.9,975.1 L410.3,972.9 L412.1,948.0 L413.3,968.3 L414.4,974.0" stroke="#1f1f1f" stroke-width="1.4" fill="none" stroke-linejoin="round"/>
<rect x="483" y="414.2" width="50.7" height="169.5" fill="#efc2f5" />
<rect x="545.5" y="414.2" width="22.4" height="169.5" fill="#efc2f5" />
<rect x="595" y="414.2" width="48.1" height="169.5" fill="#f98ae7" />
<text x="484.5" y="408" font-size="20.5" font-weight="bold" fill="#141414" textLength="37.2" lengthAdjust="spacingAndGlyphs" stroke="#141414" stroke-width="0.3" stroke-linejoin="round" >First</text>
<text x="594.5" y="408" font-size="20.5" font-weight="bold" fill="#141414" textLength="54.3" lengthAdjust="spacingAndGlyphs" stroke="#141414" stroke-width="0.3" stroke-linejoin="round" >Others</text>
<path d="M470.4,565.4 L471.5,560.6 L472.6,543.5 L474.1,542.2 L475.6,536.3 L477.1,537.8 L478.2,542.3 L479.3,552.2 L480.4,555.8 L481.6,564.6 L483.0,556.2 L484.5,530.2 L486.0,474.2 L487.1,448.9 L488.0,464.9 L489.0,493.4 L490.0,462.1 L490.9,443.7 L492.0,468.5 L493.1,458.6 L494.2,453.1 L495.3,440.1 L496.4,413.5 L497.5,431.1 L498.7,434.5 L500.4,467.0 L501.9,455.6 L502.9,470.5 L503.9,480.9 L505.0,489.4 L506.1,498.1 L507.6,517.9 L509.1,522.9 L510.5,510.7 L511.7,497.5 L512.8,497.7 L514.3,502.7 L515.7,517.2 L517.2,518.0 L518.7,531.0 L520.0,528.8 L521.2,539.3 L522.6,522.8 L523.9,520.1 L525.0,500.4 L526.2,496.6 L527.3,507.0 L528.4,519.5 L529.9,524.7 L531.2,517.3 L532.5,495.4 L533.8,506.9 L535.1,525.7 L536.2,519.3 L537.3,506.3 L538.8,521.8 L540.3,522.2 L541.8,528.1 L543.2,517.7 L544.5,531.6 L545.7,542.4 L547.0,548.7 L548.3,527.4 L549.6,513.1 L550.9,522.3 L552.2,535.2 L553.7,533.3 L555.1,545.9 L556.4,542.7 L557.6,554.7 L558.9,553.4 L560.0,554.7 L561.1,560.0 L562.2,566.8 L563.3,562.6 L564.8,556.2 L566.3,542.0 L567.8,553.0 L569.3,557.3 L570.4,555.1 L571.5,542.1 L572.8,546.3 L574.2,536.1 L576.0,545.5 L577.7,552.4" stroke="#1f1f1f" stroke-width="1.45" fill="none" stroke-linejoin="round"/>
<path d="M582.2,543.2 L583.5,542.5 L584.9,526.3 L586.4,539.5 L587.8,544.6 L589.0,533.5 L590.1,521.5 L591.3,539.2 L592.6,541.1 L593.8,551.6 L594.9,540.2 L596.0,533.7 L597.1,508.2 L598.2,477.1 L599.7,511.4 L600.9,515.9 L602.0,503.4 L603.1,519.3 L604.2,525.6 L605.7,536.4 L607.2,538.4 L608.4,551.1 L609.6,546.9 L610.9,558.0 L612.0,544.2 L613.1,539.9 L614.6,530.3 L616.1,532.8 L617.3,533.0 L618.6,548.3 L619.8,546.1 L621.3,557.3 L622.8,555.5 L624.3,553.1 L625.7,545.6 L627.0,553.6 L628.2,551.2 L629.5,557.6 L630.7,554.9 L631.9,564.8 L633.2,565.1 L634.3,569.1 L635.4,561.6 L636.5,560.2 L637.6,556.1 L638.9,560.3 L640.1,551.8 L641.4,557.0 L642.8,546.6 L644.3,551.4 L645.7,537.1 L647.0,534.7 L648.3,530.9 L649.5,538.9 L651.0,540.7 L652.5,556.3 L653.6,542.4 L654.7,533.9" stroke="#1f1f1f" stroke-width="1.45" fill="none" stroke-linejoin="round"/>
<path d="M677.4,503 L677.4,551.8 L701,551.8" stroke="#111" stroke-width="2.3" fill="none" />
<text x="673.4" y="556.5" font-size="11.2" font-weight="bold" fill="#141414" textLength="51" lengthAdjust="spacingAndGlyphs" transform="rotate(-90 673.4 556.5)" stroke="#141414" stroke-width="0.2" stroke-linejoin="round" >10ΔF/F0</text>
<text x="679.3" y="569.4" font-size="13.6" font-weight="bold" fill="#141414" textLength="17.8" lengthAdjust="spacingAndGlyphs" stroke="#141414" stroke-width="0.25" stroke-linejoin="round" >10s</text>
<rect x="499.7" y="619.7" width="17.2" height="171.7" fill="#ade4d6" />
<rect x="535.5" y="619.7" width="3.4" height="171.7" fill="#c2ebb1" />
<rect x="559.2" y="619.7" width="15.6" height="171.7" fill="#c2ebb1" />
<text x="484.5" y="612" font-size="20.5" font-weight="bold" fill="#141414" textLength="37.2" lengthAdjust="spacingAndGlyphs" stroke="#141414" stroke-width="0.3" stroke-linejoin="round" >First</text>
<text x="550.4" y="612" font-size="20.5" font-weight="bold" fill="#141414" textLength="53.5" lengthAdjust="spacingAndGlyphs" stroke="#141414" stroke-width="0.3" stroke-linejoin="round" >Others</text>
<path d="M472.2,755.3 L473.7,753.5 L475.2,738.2 L476.6,727.0 L478.0,730.7 L479.3,743.6 L480.8,750.7 L482.3,764.3 L483.4,753.3 L484.5,754.2 L485.6,730.7 L486.8,718.1 L487.9,724.7 L489.0,738.8 L490.1,736.6 L491.2,745.4 L493.0,748.6 L494.1,740.0 L495.2,721.2 L496.2,734.5 L497.2,739.4 L498.9,709.8 L500.1,717.9 L501.6,668.1 L502.7,682.0 L503.9,705.9 L505.3,684.4 L506.3,682.9 L507.3,673.5 L508.3,682.0 L509.4,690.7 L510.3,713.2 L511.3,717.3 L512.5,719.4 L513.8,708.9 L515.2,725.9 L516.5,731.5 L517.7,734.4 L519.0,726.1 L520.2,728.1 L521.5,719.9 L522.7,714.5 L523.9,726.5 L525.0,730.2 L526.2,735.4 L527.3,725.5 L528.4,702.6 L529.7,713.5 L531.1,720.5 L532.5,733.0 L534.0,730.9 L535.5,721.9 L537.0,699.5 L538.8,719.6 L540.3,718.6 L541.2,721.1 L542.2,711.2" stroke="#1f1f1f" stroke-width="1.45" fill="none" stroke-linejoin="round"/>
<path d="M548.9,760.8 L550.3,761.0 L551.7,743.5 L553.1,767.6 L554.4,776.8 L555.5,778.0 L556.6,763.7 L557.7,760.1 L558.9,759.0 L560.0,767.8 L561.1,763.4 L562.2,757.6 L563.3,736.2 L565.1,705.2 L566.6,737.0 L568.1,766.2 L569.0,752.1 L570.0,752.9 L571.8,743.1 L572.8,757.9 L573.7,756.3 L574.7,765.1 L575.7,758.9 L576.7,758.9 L577.7,750.9 L579.2,765.4 L580.7,782.6 L581.9,782.8 L583.1,769.6 L584.6,784.1 L586.1,786.0 L587.3,779.5 L588.6,762.3 L589.7,753.5 L590.8,736.0 L592.6,762.1 L593.6,769.8 L594.5,779.5 L596.0,780.3" stroke="#1f1f1f" stroke-width="1.45" fill="none" stroke-linejoin="round"/>
<rect x="498.2" y="836.4" width="7.1" height="172.5" fill="#fac7af" />
<rect x="511.7" y="836.4" width="4.3" height="172.5" fill="#cca99a" />
<rect x="545.8" y="836.4" width="4.6" height="172.5" fill="#cca99a" />
<rect x="556.2" y="836.4" width="7.9" height="172.5" fill="#cca99a" />
<rect x="569.0" y="836.4" width="3.3" height="172.5" fill="#cca99a" />
<rect x="576.0" y="836.4" width="6.2" height="172.5" fill="#cca99a" />
<text x="484.5" y="828" font-size="20.5" font-weight="bold" fill="#141414" textLength="37.2" lengthAdjust="spacingAndGlyphs" stroke="#141414" stroke-width="0.3" stroke-linejoin="round" >First</text>
<text x="538.8" y="828" font-size="20.5" font-weight="bold" fill="#141414" textLength="53.9" lengthAdjust="spacingAndGlyphs" stroke="#141414" stroke-width="0.3" stroke-linejoin="round" >Others</text>
<path d="M469.7,948.3 L470.8,951.2 L471.9,958.6 L473.4,968.5 L474.9,932.3 L476.4,922.0 L478.1,928.2 L479.1,936.9 L480.1,940.3 L481.9,946.4 L483.5,928.8 L485.3,940.3 L487.1,927.0 L488.0,945.4 L489.0,955.8 L490.1,950.3 L491.2,939.1 L492.3,951.0 L493.4,949.1 L494.6,941.6 L495.7,937.5 L497.0,955.4 L498.4,962.2 L500.1,935.3 L501.3,940.8 L502.4,954.7 L504.2,934.1 L505.3,943.6 L506.4,945.6 L507.3,946.5 L508.3,940.1 L509.8,954.7 L511.3,959.6 L512.5,949.0 L513.8,938.2 L515.0,954.5 L516.2,959.8 L518.0,953.6 L519.5,958.8 L520.9,976.0 L522.3,974.0 L523.6,985.1" stroke="#1f1f1f" stroke-width="1.45" fill="none" stroke-linejoin="round"/>
<path d="M528.4,993.6 L530.2,1003.1 L531.5,990.6 L532.8,990.9 L534.2,981.4 L535.6,985.1 L537.0,973.3 L538.3,969.2 L539.5,954.2 L540.5,945.3 L541.5,937.4 L543.2,953.4 L545.0,959.0 L546.0,963.8 L547.0,951.7 L548.1,962.0 L549.2,965.6 L550.5,976.4 L551.9,974.1 L553.7,967.3 L555.0,974.6 L556.3,985.0 L557.4,987.5 L558.4,997.0 L559.5,984.5 L560.7,984.8 L561.8,971.7 L562.9,978.3 L564.1,990.9 L565.1,990.3 L566.2,973.5 L567.3,971.0 L568.5,972.9 L569.6,983.9 L570.7,978.8 L572.2,985.1 L573.7,979.8 L574.8,986.5 L576.0,987.4 L577.1,987.0 L578.2,974.9 L579.5,994.6 L580.9,998.4 L582.1,985.8 L583.4,980.2 L584.5,988.2 L585.6,987.0 L587.1,960.0 L588.9,931.7 L590.5,957.9 L592.3,979.4 L593.8,991.8" stroke="#1f1f1f" stroke-width="1.45" fill="none" stroke-linejoin="round"/>
<text x="690" y="378" font-size="60" font-weight="bold" fill="#141414" textLength="30" lengthAdjust="spacingAndGlyphs" stroke="#141414" stroke-width="0.8" stroke-linejoin="round" >d</text>
<defs>
<linearGradient id="h1r0" x1="0" x2="1" y1="0" y2="0"><stop offset="0.0000" stop-color="#1a14a0"/><stop offset="0.0312" stop-color="#1a14a0"/><stop offset="0.0625" stop-color="#101078"/><stop offset="0.0938" stop-color="#101078"/><stop offset="0.1250" stop-color="#101078"/><stop offset="0.1562" stop-color="#101078"/><stop offset="0.1875" stop-color="#0b0b4a"/><stop offset="0.2188" stop-color="#08082a"/><stop offset="0.2500" stop-color="#08082a"/><stop offset="0.2812" stop-color="#0b0b4a"/><stop offset="0.3125" stop-color="#08082a"/><stop offset="0.3438" stop-color="#050508"/><stop offset="0.3750" stop-color="#050508"/><stop offset="0.4062" stop-color="#08082a"/><stop offset="0.4375" stop-color="#101078"/><stop offset="0.4688" stop-color="#1a14a0"/><stop offset="0.5000" stop-color="#1a14a0"/><stop offset="0.5312" stop-color="#2a18b8"/><stop offset="0.5625" stop-color="#2a18b8"/><stop offset="0.5938" stop-color="#2a18b8"/><stop offset="0.6250" stop-color="#2a18b8"/><stop offset="0.6562" stop-color="#2a18b8"/><stop offset="0.6875" stop-color="#2a18b8"/><stop offset="0.7188" stop-color="#2a18b8"/><stop offset="0.7500" stop-color="#4a1abc"/><stop offset="0.7812" stop-color="#4a1abc"/><stop offset="0.8125" stop-color="#7a1fc0"/><stop offset="0.8438" stop-color="#a828c0"/><stop offset="0.8750" stop-color="#a828c0"/><stop offset="0.9062" stop-color="#a828c0"/><stop offset="0.9375" stop-color="#a828c0"/><stop offset="0.9688" stop-color="#4a1abc"/><stop offset="1.0000" stop-color="#1a14a0"/></linearGradient>
<linearGradient id="h1r1" x1="0" x2="1" y1="0" y2="0"><stop offset="0.0000" stop-color="#0b0b4a"/><stop offset="0.0312" stop-color="#0b0b4a"/><stop offset="0.0625" stop-color="#08082a"/><stop offset="0.0938" stop-color="#08082a"/><stop offset="0.1250" stop-color="#0b0b4a"/><stop offset="0.1562" stop-color="#0b0b4a"/><stop offset="0.1875" stop-color="#101078"/><stop offset="0.2188" stop-color="#101078"/><stop offset="0.2500" stop-color="#101078"/><stop offset="0.2812" stop-color="#101078"/><stop offset="0.3125" stop-color="#101078"/><stop offset="0.3438" stop-color="#101078"/><stop offset="0.3750" stop-color="#101078"/><stop offset="0.4062" stop-color="#101078"/><stop offset="0.4375" stop-color="#101078"/><stop offset="0.4688" stop-color="#101078"/><stop offset="0.5000" stop-color="#101078"/><stop offset="0.5312" stop-color="#101078"/><stop offset="0.5625" stop-color="#101078"/><stop offset="0.5938" stop-color="#101078"/><stop offset="0.6250" stop-color="#101078"/><stop offset="0.6562" stop-color="#1a14a0"/><stop offset="0.6875" stop-color="#1a14a0"/><stop offset="0.7188" stop-color="#1a14a0"/><stop offset="0.7500" stop-color="#1a14a0"/><stop offset="0.7812" stop-color="#1a14a0"/><stop offset="0.8125" stop-color="#101078"/><stop offset="0.8438" stop-color="#0b0b4a"/><stop offset="0.8750" stop-color="#0b0b4a"/><stop offset="0.9062" stop-color="#101078"/><stop offset="0.9375" stop-color="#1a14a0"/><stop offset="0.9688" stop-color="#1a14a0"/><stop offset="1.0000" stop-color="#1a14a0"/></linearGradient>
<linearGradient id="h1r2" x1="0" x2="1" y1="0" y2="0"><stop offset="0.0000" stop-color="#101078"/><stop offset="0.0312" stop-color="#1a14a0"/><stop offset="0.0625" stop-color="#1a14a0"/><stop offset="0.0938" stop-color="#1a14a0"/><stop offset="0.1250" stop-color="#101078"/><stop offset="0.1562" stop-color="#101078"/><stop offset="0.1875" stop-color="#08082a"/><stop offset="0.2188" stop-color="#08082a"/><stop offset="0.2500" stop-color="#050508"/><stop offset="0.2812" stop-color="#050508"/><stop offset="0.3125" stop-color="#08082a"/><stop offset="0.3438" stop-color="#08082a"/><stop offset="0.3750" stop-color="#08082a"/><stop offset="0.4062" stop-color="#0b0b4a"/><stop offset="0.4375" stop-color="#1a14a0"/><stop offset="0.4688" stop-color="#2a18b8"/><stop offset="0.5000" stop-color="#a828c0"/><stop offset="0.5312" stop-color="#f23a70"/><stop offset="0.5625" stop-color="#f23a70"/><stop offset="0.5938" stop-color="#f23a70"/><stop offset="0.6250" stop-color="#e83294"/><stop offset="0.6562" stop-color="#e83294"/><stop offset="0.6875" stop-color="#d030b0"/><stop offset="0.7188" stop-color="#a828c0"/><stop offset="0.7500" stop-color="#d030b0"/><stop offset="0.7812" stop-color="#f23a70"/><stop offset="0.8125" stop-color="#f23a70"/><stop offset="0.8438" stop-color="#e83294"/><stop offset="0.8750" stop-color="#e83294"/><stop offset="0.9062" stop-color="#e83294"/><stop offset="0.9375" stop-color="#f23a70"/><stop offset="0.9688" stop-color="#f23a70"/><stop offset="1.0000" stop-color="#f5705e"/></linearGradient>
<linearGradient id="h1r3" x1="0" x2="1" y1="0" y2="0"><stop offset="0.0000" stop-color="#0b0b4a"/><stop offset="0.0312" stop-color="#0b0b4a"/><stop offset="0.0625" stop-color="#0b0b4a"/><stop offset="0.0938" stop-color="#0b0b4a"/><stop offset="0.1250" stop-color="#0b0b4a"/><stop offset="0.1562" stop-color="#0b0b4a"/><stop offset="0.1875" stop-color="#101078"/><stop offset="0.2188" stop-color="#0b0b4a"/><stop offset="0.2500" stop-color="#0b0b4a"/><stop offset="0.2812" stop-color="#0b0b4a"/><stop offset="0.3125" stop-color="#0b0b4a"/><stop offset="0.3438" stop-color="#101078"/><stop offset="0.3750" stop-color="#101078"/><stop offset="0.4062" stop-color="#1a14a0"/><stop offset="0.4375" stop-color="#1a14a0"/><stop offset="0.4688" stop-color="#2a18b8"/><stop offset="0.5000" stop-color="#4a1abc"/><stop offset="0.5312" stop-color="#2a18b8"/><stop offset="0.5625" stop-color="#2a18b8"/><stop offset="0.5938" stop-color="#2a18b8"/><stop offset="0.6250" stop-color="#2a18b8"/><stop offset="0.6562" stop-color="#2a18b8"/><stop offset="0.6875" stop-color="#2a18b8"/><stop offset="0.7188" stop-color="#2a18b8"/><stop offset="0.7500" stop-color="#1a14a0"/><stop offset="0.7812" stop-color="#0b0b4a"/><stop offset="0.8125" stop-color="#0b0b4a"/><stop offset="0.8438" stop-color="#0b0b4a"/><stop offset="0.8750" stop-color="#0b0b4a"/><stop offset="0.9062" stop-color="#08082a"/><stop offset="0.9375" stop-color="#050508"/><stop offset="0.9688" stop-color="#08082a"/><stop offset="1.0000" stop-color="#0b0b4a"/></linearGradient>
<linearGradient id="h1r4" x1="0" x2="1" y1="0" y2="0"><stop offset="0.0000" stop-color="#101078"/><stop offset="0.0312" stop-color="#1a14a0"/><stop offset="0.0625" stop-color="#1a14a0"/><stop offset="0.0938" stop-color="#101078"/><stop offset="0.1250" stop-color="#101078"/><stop offset="0.1562" stop-color="#08082a"/><stop offset="0.1875" stop-color="#050508"/><stop offset="0.2188" stop-color="#050508"/><stop offset="0.2500" stop-color="#08082a"/><stop offset="0.2812" stop-color="#0b0b4a"/><stop offset="0.3125" stop-color="#0b0b4a"/><stop offset="0.3438" stop-color="#0b0b4a"/><stop offset="0.3750" stop-color="#0b0b4a"/><stop offset="0.4062" stop-color="#08082a"/><stop offset="0.4375" stop-color="#050508"/><stop offset="0.4688" stop-color="#08082a"/><stop offset="0.5000" stop-color="#101078"/><stop offset="0.5312" stop-color="#4a1abc"/><stop offset="0.5625" stop-color="#a828c0"/><stop offset="0.5938" stop-color="#d030b0"/><stop offset="0.6250" stop-color="#d030b0"/><stop offset="0.6562" stop-color="#d030b0"/><stop offset="0.6875" stop-color="#e83294"/><stop offset="0.7188" stop-color="#e83294"/><stop offset="0.7500" stop-color="#e83294"/><stop offset="0.7812" stop-color="#e83294"/><stop offset="0.8125" stop-color="#e83294"/><stop offset="0.8438" stop-color="#f23a70"/><stop offset="0.8750" stop-color="#f23a70"/><stop offset="0.9062" stop-color="#e83294"/><stop offset="0.9375" stop-color="#d030b0"/><stop offset="0.9688" stop-color="#a828c0"/><stop offset="1.0000" stop-color="#a828c0"/></linearGradient>
<linearGradient id="h1r5" x1="0" x2="1" y1="0" y2="0"><stop offset="0.0000" stop-color="#0b0b4a"/><stop offset="0.0312" stop-color="#0b0b4a"/><stop offset="0.0625" stop-color="#0b0b4a"/><stop offset="0.0938" stop-color="#0b0b4a"/><stop offset="0.1250" stop-color="#0b0b4a"/><stop offset="0.1562" stop-color="#0b0b4a"/><stop offset="0.1875" stop-color="#0b0b4a"/><stop offset="0.2188" stop-color="#0b0b4a"/><stop offset="0.2500" stop-color="#0b0b4a"/><stop offset="0.2812" stop-color="#101078"/><stop offset="0.3125" stop-color="#101078"/><stop offset="0.3438" stop-color="#101078"/><stop offset="0.3750" stop-color="#1a14a0"/><stop offset="0.4062" stop-color="#1a14a0"/><stop offset="0.4375" stop-color="#1a14a0"/><stop offset="0.4688" stop-color="#1a14a0"/><stop offset="0.5000" stop-color="#1a14a0"/><stop offset="0.5312" stop-color="#1a14a0"/><stop offset="0.5625" stop-color="#2a18b8"/><stop offset="0.5938" stop-color="#2a18b8"/><stop offset="0.6250" stop-color="#2a18b8"/><stop offset="0.6562" stop-color="#2a18b8"/><stop offset="0.6875" stop-color="#2a18b8"/><stop offset="0.7188" stop-color="#2a18b8"/><stop offset="0.7500" stop-color="#2a18b8"/><stop offset="0.7812" stop-color="#2a18b8"/><stop offset="0.8125" stop-color="#2a18b8"/><stop offset="0.8438" stop-color="#2a18b8"/><stop offset="0.8750" stop-color="#2a18b8"/><stop offset="0.9062" stop-color="#2a18b8"/><stop offset="0.9375" stop-color="#4a1abc"/><stop offset="0.9688" stop-color="#7a1fc0"/><stop offset="1.0000" stop-color="#7a1fc0"/></linearGradient>
<linearGradient id="h1r6" x1="0" x2="1" y1="0" y2="0"><stop offset="0.0000" stop-color="#101078"/><stop offset="0.0312" stop-color="#101078"/><stop offset="0.0625" stop-color="#101078"/><stop offset="0.0938" stop-color="#101078"/><stop offset="0.1250" stop-color="#1a14a0"/><stop offset="0.1562" stop-color="#101078"/><stop offset="0.1875" stop-color="#0b0b4a"/><stop offset="0.2188" stop-color="#08082a"/><stop offset="0.2500" stop-color="#050508"/><stop offset="0.2812" stop-color="#08082a"/><stop offset="0.3125" stop-color="#0b0b4a"/><stop offset="0.3438" stop-color="#0b0b4a"/><stop offset="0.3750" stop-color="#0b0b4a"/><stop offset="0.4062" stop-color="#101078"/><stop offset="0.4375" stop-color="#7a1fc0"/><stop offset="0.4688" stop-color="#f7a066"/><stop offset="0.5000" stop-color="#f0f688"/><stop offset="0.5312" stop-color="#f8d47c"/><stop offset="0.5625" stop-color="#f7a066"/><stop offset="0.5938" stop-color="#f7a066"/><stop offset="0.6250" stop-color="#f8d47c"/><stop offset="0.6562" stop-color="#f0f688"/><stop offset="0.6875" stop-color="#f0f688"/><stop offset="0.7188" stop-color="#f8d47c"/><stop offset="0.7500" stop-color="#f7a066"/><stop offset="0.7812" stop-color="#f7a066"/><stop offset="0.8125" stop-color="#f5705e"/><stop offset="0.8438" stop-color="#f5705e"/><stop offset="0.8750" stop-color="#f7a066"/><stop offset="0.9062" stop-color="#f7a066"/><stop offset="0.9375" stop-color="#f7a066"/><stop offset="0.9688" stop-color="#f7a066"/><stop offset="1.0000" stop-color="#f7a066"/></linearGradient>
<linearGradient id="h1r7" x1="0" x2="1" y1="0" y2="0"><stop offset="0.0000" stop-color="#101078"/><stop offset="0.0312" stop-color="#0b0b4a"/><stop offset="0.0625" stop-color="#0b0b4a"/><stop offset="0.0938" stop-color="#0b0b4a"/><stop offset="0.1250" stop-color="#0b0b4a"/><stop offset="0.1562" stop-color="#0b0b4a"/><stop offset="0.1875" stop-color="#08082a"/><stop offset="0.2188" stop-color="#0b0b4a"/><stop offset="0.2500" stop-color="#0b0b4a"/><stop offset="0.2812" stop-color="#0b0b4a"/><stop offset="0.3125" stop-color="#0b0b4a"/><stop offset="0.3438" stop-color="#101078"/><stop offset="0.3750" stop-color="#1a14a0"/><stop offset="0.4062" stop-color="#2a18b8"/><stop offset="0.4375" stop-color="#2a18b8"/><stop offset="0.4688" stop-color="#2a18b8"/><stop offset="0.5000" stop-color="#2a18b8"/><stop offset="0.5312" stop-color="#2a18b8"/><stop offset="0.5625" stop-color="#2a18b8"/><stop offset="0.5938" stop-color="#2a18b8"/><stop offset="0.6250" stop-color="#2a18b8"/><stop offset="0.6562" stop-color="#1a14a0"/><stop offset="0.6875" stop-color="#1a14a0"/><stop offset="0.7188" stop-color="#101078"/><stop offset="0.7500" stop-color="#1a14a0"/><stop offset="0.7812" stop-color="#1a14a0"/><stop offset="0.8125" stop-color="#1a14a0"/><stop offset="0.8438" stop-color="#1a14a0"/><stop offset="0.8750" stop-color="#1a14a0"/><stop offset="0.9062" stop-color="#1a14a0"/><stop offset="0.9375" stop-color="#101078"/><stop offset="0.9688" stop-color="#101078"/><stop offset="1.0000" stop-color="#0b0b4a"/></linearGradient>
<linearGradient id="h1r8" x1="0" x2="1" y1="0" y2="0"><stop offset="0.0000" stop-color="#0b0b4a"/><stop offset="0.0312" stop-color="#0b0b4a"/><stop offset="0.0625" stop-color="#101078"/><stop offset="0.0938" stop-color="#1a14a0"/><stop offset="0.1250" stop-color="#1a14a0"/><stop offset="0.1562" stop-color="#1a14a0"/><stop offset="0.1875" stop-color="#0b0b4a"/><stop offset="0.2188" stop-color="#0b0b4a"/><stop offset="0.2500" stop-color="#08082a"/><stop offset="0.2812" stop-color="#08082a"/><stop offset="0.3125" stop-color="#08082a"/><stop offset="0.3438" stop-color="#050508"/><stop offset="0.3750" stop-color="#050508"/><stop offset="0.4062" stop-color="#050508"/><stop offset="0.4375" stop-color="#08082a"/><stop offset="0.4688" stop-color="#101078"/><stop offset="0.5000" stop-color="#1a14a0"/><stop offset="0.5312" stop-color="#1a14a0"/><stop offset="0.5625" stop-color="#1a14a0"/><stop offset="0.5938" stop-color="#1a14a0"/><stop offset="0.6250" stop-color="#1a14a0"/><stop offset="0.6562" stop-color="#1a14a0"/><stop offset="0.6875" stop-color="#101078"/><stop offset="0.7188" stop-color="#1a14a0"/><stop offset="0.7500" stop-color="#2a18b8"/><stop offset="0.7812" stop-color="#4a1abc"/><stop offset="0.8125" stop-color="#4a1abc"/><stop offset="0.8438" stop-color="#4a1abc"/><stop offset="0.8750" stop-color="#4a1abc"/><stop offset="0.9062" stop-color="#4a1abc"/><stop offset="0.9375" stop-color="#4a1abc"/><stop offset="0.9688" stop-color="#2a18b8"/><stop offset="1.0000" stop-color="#2a18b8"/></linearGradient>
<linearGradient id="h1r9" x1="0" x2="1" y1="0" y2="0"><stop offset="0.0000" stop-color="#101078"/><stop offset="0.0312" stop-color="#0b0b4a"/><stop offset="0.0625" stop-color="#0b0b4a"/><stop offset="0.0938" stop-color="#0b0b4a"/><stop offset="0.1250" stop-color="#101078"/><stop offset="0.1562" stop-color="#101078"/><stop offset="0.1875" stop-color="#101078"/><stop offset="0.2188" stop-color="#101078"/><stop offset="0.2500" stop-color="#0b0b4a"/><stop offset="0.2812" stop-color="#101078"/><stop offset="0.3125" stop-color="#101078"/><stop offset="0.3438" stop-color="#101078"/><stop offset="0.3750" stop-color="#1a14a0"/><stop offset="0.4062" stop-color="#2a18b8"/><stop offset="0.4375" stop-color="#2a18b8"/><stop offset="0.4688" stop-color="#2a18b8"/><stop offset="0.5000" stop-color="#2a18b8"/><stop offset="0.5312" stop-color="#2a18b8"/><stop offset="0.5625" stop-color="#2a18b8"/><stop offset="0.5938" stop-color="#2a18b8"/><stop offset="0.6250" stop-color="#2a18b8"/><stop offset="0.6562" stop-color="#2a18b8"/><stop offset="0.6875" stop-color="#2a18b8"/><stop offset="0.7188" stop-color="#4a1abc"/><stop offset="0.7500" stop-color="#4a1abc"/><stop offset="0.7812" stop-color="#4a1abc"/><stop offset="0.8125" stop-color="#2a18b8"/><stop offset="0.8438" stop-color="#2a18b8"/><stop offset="0.8750" stop-color="#2a18b8"/><stop offset="0.9062" stop-color="#1a14a0"/><stop offset="0.9375" stop-color="#101078"/><stop offset="0.9688" stop-color="#101078"/><stop offset="1.0000" stop-color="#08082a"/></linearGradient>
<linearGradient id="h1r10" x1="0" x2="1" y1="0" y2="0"><stop offset="0.0000" stop-color="#0b0b4a"/><stop offset="0.0312" stop-color="#101078"/><stop offset="0.0625" stop-color="#101078"/><stop offset="0.0938" stop-color="#0b0b4a"/><stop offset="0.1250" stop-color="#101078"/><stop offset="0.1562" stop-color="#0b0b4a"/><stop offset="0.1875" stop-color="#101078"/><stop offset="0.2188" stop-color="#0b0b4a"/><stop offset="0.2500" stop-color="#101078"/><stop offset="0.2812" stop-color="#101078"/><stop offset="0.3125" stop-color="#101078"/><stop offset="0.3438" stop-color="#08082a"/><stop offset="0.3750" stop-color="#050508"/><stop offset="0.4062" stop-color="#050508"/><stop offset="0.4375" stop-color="#0b0b4a"/><stop offset="0.4688" stop-color="#2a18b8"/><stop offset="0.5000" stop-color="#a828c0"/><stop offset="0.5312" stop-color="#d030b0"/><stop offset="0.5625" stop-color="#d030b0"/><stop offset="0.5938" stop-color="#a828c0"/><stop offset="0.6250" stop-color="#7a1fc0"/><stop offset="0.6562" stop-color="#4a1abc"/><stop offset="0.6875" stop-color="#4a1abc"/><stop offset="0.7188" stop-color="#2a18b8"/><stop offset="0.7500" stop-color="#2a18b8"/><stop offset="0.7812" stop-color="#2a18b8"/><stop offset="0.8125" stop-color="#1a14a0"/><stop offset="0.8438" stop-color="#101078"/><stop offset="0.8750" stop-color="#101078"/><stop offset="0.9062" stop-color="#101078"/><stop offset="0.9375" stop-color="#0b0b4a"/><stop offset="0.9688" stop-color="#101078"/><stop offset="1.0000" stop-color="#1a14a0"/></linearGradient>
<linearGradient id="h1r11" x1="0" x2="1" y1="0" y2="0"><stop offset="0.0000" stop-color="#08082a"/><stop offset="0.0312" stop-color="#08082a"/><stop offset="0.0625" stop-color="#0b0b4a"/><stop offset="0.0938" stop-color="#0b0b4a"/><stop offset="0.1250" stop-color="#0b0b4a"/><stop offset="0.1562" stop-color="#0b0b4a"/><stop offset="0.1875" stop-color="#0b0b4a"/><stop offset="0.2188" stop-color="#0b0b4a"/><stop offset="0.2500" stop-color="#0b0b4a"/><stop offset="0.2812" stop-color="#0b0b4a"/><stop offset="0.3125" stop-color="#0b0b4a"/><stop offset="0.3438" stop-color="#0b0b4a"/><stop offset="0.3750" stop-color="#101078"/><stop offset="0.4062" stop-color="#1a14a0"/><stop offset="0.4375" stop-color="#1a14a0"/><stop offset="0.4688" stop-color="#1a14a0"/><stop offset="0.5000" stop-color="#1a14a0"/><stop offset="0.5312" stop-color="#101078"/><stop offset="0.5625" stop-color="#101078"/><stop offset="0.5938" stop-color="#101078"/><stop offset="0.6250" stop-color="#101078"/><stop offset="0.6562" stop-color="#101078"/><stop offset="0.6875" stop-color="#101078"/><stop offset="0.7188" stop-color="#101078"/><stop offset="0.7500" stop-color="#101078"/><stop offset="0.7812" stop-color="#101078"/><stop offset="0.8125" stop-color="#101078"/><stop offset="0.8438" stop-color="#101078"/><stop offset="0.8750" stop-color="#101078"/><stop offset="0.9062" stop-color="#101078"/><stop offset="0.9375" stop-color="#101078"/><stop offset="0.9688" stop-color="#101078"/><stop offset="1.0000" stop-color="#101078"/></linearGradient>
<linearGradient id="h1r12" x1="0" x2="1" y1="0" y2="0"><stop offset="0.0000" stop-color="#101078"/><stop offset="0.0312" stop-color="#101078"/><stop offset="0.0625" stop-color="#101078"/><stop offset="0.0938" stop-color="#101078"/><stop offset="0.1250" stop-color="#1a14a0"/><stop offset="0.1562" stop-color="#1a14a0"/><stop offset="0.1875" stop-color="#101078"/><stop offset="0.2188" stop-color="#101078"/><stop offset="0.2500" stop-color="#0b0b4a"/><stop offset="0.2812" stop-color="#050508"/><stop offset="0.3125" stop-color="#050508"/><stop offset="0.3438" stop-color="#050508"/><stop offset="0.3750" stop-color="#050508"/><stop offset="0.4062" stop-color="#0b0b4a"/><stop offset="0.4375" stop-color="#0b0b4a"/><stop offset="0.4688" stop-color="#0b0b4a"/><stop offset="0.5000" stop-color="#0b0b4a"/><stop offset="0.5312" stop-color="#101078"/><stop offset="0.5625" stop-color="#0b0b4a"/><stop offset="0.5938" stop-color="#1a14a0"/><stop offset="0.6250" stop-color="#a828c0"/><stop offset="0.6562" stop-color="#d030b0"/><stop offset="0.6875" stop-color="#d030b0"/><stop offset="0.7188" stop-color="#f23a70"/><stop offset="0.7500" stop-color="#f7a066"/><stop offset="0.7812" stop-color="#f8d47c"/><stop offset="0.8125" stop-color="#f8d47c"/><stop offset="0.8438" stop-color="#f7a066"/><stop offset="0.8750" stop-color="#f7a066"/><stop offset="0.9062" stop-color="#f8d47c"/><stop offset="0.9375" stop-color="#f0f688"/><stop offset="0.9688" stop-color="#f0f688"/><stop offset="1.0000" stop-color="#f0f688"/></linearGradient>
<linearGradient id="h1r13" x1="0" x2="1" y1="0" y2="0"><stop offset="0.0000" stop-color="#101078"/><stop offset="0.0312" stop-color="#101078"/><stop offset="0.0625" stop-color="#0b0b4a"/><stop offset="0.0938" stop-color="#0b0b4a"/><stop offset="0.1250" stop-color="#0b0b4a"/><stop offset="0.1562" stop-color="#0b0b4a"/><stop offset="0.1875" stop-color="#08082a"/><stop offset="0.2188" stop-color="#08082a"/><stop offset="0.2500" stop-color="#08082a"/><stop offset="0.2812" stop-color="#0b0b4a"/><stop offset="0.3125" stop-color="#0b0b4a"/><stop offset="0.3438" stop-color="#0b0b4a"/><stop offset="0.3750" stop-color="#101078"/><stop offset="0.4062" stop-color="#2a18b8"/><stop offset="0.4375" stop-color="#2a18b8"/><stop offset="0.4688" stop-color="#1a14a0"/><stop offset="0.5000" stop-color="#1a14a0"/><stop offset="0.5312" stop-color="#101078"/><stop offset="0.5625" stop-color="#101078"/><stop offset="0.5938" stop-color="#101078"/><stop offset="0.6250" stop-color="#101078"/><stop offset="0.6562" stop-color="#101078"/><stop offset="0.6875" stop-color="#101078"/><stop offset="0.7188" stop-color="#1a14a0"/><stop offset="0.7500" stop-color="#1a14a0"/><stop offset="0.7812" stop-color="#1a14a0"/><stop offset="0.8125" stop-color="#2a18b8"/><stop offset="0.8438" stop-color="#2a18b8"/><stop offset="0.8750" stop-color="#1a14a0"/><stop offset="0.9062" stop-color="#1a14a0"/><stop offset="0.9375" stop-color="#1a14a0"/><stop offset="0.9688" stop-color="#1a14a0"/><stop offset="1.0000" stop-color="#1a14a0"/></linearGradient>
<linearGradient id="h1r14" x1="0" x2="1" y1="0" y2="0"><stop offset="0.0000" stop-color="#0b0b4a"/><stop offset="0.0312" stop-color="#08082a"/><stop offset="0.0625" stop-color="#050508"/><stop offset="0.0938" stop-color="#08082a"/><stop offset="0.1250" stop-color="#1a14a0"/><stop offset="0.1562" stop-color="#1a14a0"/><stop offset="0.1875" stop-color="#101078"/><stop offset="0.2188" stop-color="#101078"/><stop offset="0.2500" stop-color="#101078"/><stop offset="0.2812" stop-color="#0b0b4a"/><stop offset="0.3125" stop-color="#08082a"/><stop offset="0.3438" stop-color="#050508"/><stop offset="0.3750" stop-color="#050508"/><stop offset="0.4062" stop-color="#050508"/><stop offset="0.4375" stop-color="#08082a"/><stop offset="0.4688" stop-color="#0b0b4a"/><stop offset="0.5000" stop-color="#1a14a0"/><stop offset="0.5312" stop-color="#2a18b8"/><stop offset="0.5625" stop-color="#2a18b8"/><stop offset="0.5938" stop-color="#1a14a0"/><stop offset="0.6250" stop-color="#101078"/><stop offset="0.6562" stop-color="#101078"/><stop offset="0.6875" stop-color="#1a14a0"/><stop offset="0.7188" stop-color="#2a18b8"/><stop offset="0.7500" stop-color="#4a1abc"/><stop offset="0.7812" stop-color="#7a1fc0"/><stop offset="0.8125" stop-color="#7a1fc0"/><stop offset="0.8438" stop-color="#7a1fc0"/><stop offset="0.8750" stop-color="#7a1fc0"/><stop offset="0.9062" stop-color="#7a1fc0"/><stop offset="0.9375" stop-color="#a828c0"/><stop offset="0.9688" stop-color="#a828c0"/><stop offset="1.0000" stop-color="#a828c0"/></linearGradient>
<linearGradient id="h1r15" x1="0" x2="1" y1="0" y2="0"><stop offset="0.0000" stop-color="#1a14a0"/><stop offset="0.0312" stop-color="#1a14a0"/><stop offset="0.0625" stop-color="#101078"/><stop offset="0.0938" stop-color="#101078"/><stop offset="0.1250" stop-color="#101078"/><stop offset="0.1562" stop-color="#101078"/><stop offset="0.1875" stop-color="#0b0b4a"/><stop offset="0.2188" stop-color="#0b0b4a"/><stop offset="0.2500" stop-color="#0b0b4a"/><stop offset="0.2812" stop-color="#0b0b4a"/><stop offset="0.3125" stop-color="#0b0b4a"/><stop offset="0.3438" stop-color="#08082a"/><stop offset="0.3750" stop-color="#0b0b4a"/><stop offset="0.4062" stop-color="#101078"/><stop offset="0.4375" stop-color="#1a14a0"/><stop offset="0.4688" stop-color="#1a14a0"/><stop offset="0.5000" stop-color="#1a14a0"/><stop offset="0.5312" stop-color="#1a14a0"/><stop offset="0.5625" stop-color="#1a14a0"/><stop offset="0.5938" stop-color="#1a14a0"/><stop offset="0.6250" stop-color="#101078"/><stop offset="0.6562" stop-color="#101078"/><stop offset="0.6875" stop-color="#0b0b4a"/><stop offset="0.7188" stop-color="#0b0b4a"/><stop offset="0.7500" stop-color="#08082a"/><stop offset="0.7812" stop-color="#050508"/><stop offset="0.8125" stop-color="#050508"/><stop offset="0.8438" stop-color="#050508"/><stop offset="0.8750" stop-color="#050508"/><stop offset="0.9062" stop-color="#050508"/><stop offset="0.9375" stop-color="#1a14a0"/><stop offset="0.9688" stop-color="#1a14a0"/><stop offset="1.0000" stop-color="#1a14a0"/></linearGradient>
</defs>
<rect x="778.0" y="377.8" width="317.79999999999995" height="209.8" fill="#06061a" />
<rect x="779.0" y="377.40" width="315.79999999999995" height="13.47" fill="url(#h1r0)" />
<rect x="779.0" y="390.57" width="315.79999999999995" height="13.47" fill="url(#h1r1)" />
<rect x="779.0" y="403.74" width="315.79999999999995" height="13.47" fill="url(#h1r2)" />
<rect x="779.0" y="416.91" width="315.79999999999995" height="13.47" fill="url(#h1r3)" />
<rect x="779.0" y="430.08" width="315.79999999999995" height="13.47" fill="url(#h1r4)" />
<rect x="779.0" y="443.25" width="315.79999999999995" height="13.47" fill="url(#h1r5)" />
<rect x="779.0" y="456.42" width="315.79999999999995" height="13.47" fill="url(#h1r6)" />
<rect x="779.0" y="469.59" width="315.79999999999995" height="13.47" fill="url(#h1r7)" />
<rect x="779.0" y="482.76" width="315.79999999999995" height="13.47" fill="url(#h1r8)" />
<rect x="779.0" y="495.93" width="315.79999999999995" height="13.47" fill="url(#h1r9)" />
<rect x="779.0" y="509.10" width="315.79999999999995" height="13.47" fill="url(#h1r10)" />
<rect x="779.0" y="522.27" width="315.79999999999995" height="13.47" fill="url(#h1r11)" />
<rect x="779.0" y="535.44" width="315.79999999999995" height="13.47" fill="url(#h1r12)" />
<rect x="779.0" y="548.61" width="315.79999999999995" height="13.47" fill="url(#h1r13)" />
<rect x="779.0" y="561.78" width="315.79999999999995" height="13.47" fill="url(#h1r14)" />
<rect x="779.0" y="574.95" width="315.79999999999995" height="13.47" fill="url(#h1r15)" />
<rect x="778.0" y="378.0" width="317.79999999999995" height="209.5" fill="none" stroke="#050505" stroke-width="2.3"/>
<line x1="897.4" y1="379.8" x2="897.4" y2="586.5" stroke="#ff1f2e" stroke-width="2.2" stroke-dasharray="6 7"/>
<text x="763.5" y="400.3" font-size="29.5" font-weight="bold" fill="#141414" text-anchor="middle" stroke="#141414" stroke-width="0.4" stroke-linejoin="round" >1</text>
<text x="763.5" y="427.2" font-size="29.5" font-weight="bold" fill="#141414" text-anchor="middle" stroke="#141414" stroke-width="0.4" stroke-linejoin="round" >2</text>
<text x="763.5" y="454.1" font-size="29.5" font-weight="bold" fill="#141414" text-anchor="middle" stroke="#141414" stroke-width="0.4" stroke-linejoin="round" >3</text>
<text x="763.5" y="481.0" font-size="29.5" font-weight="bold" fill="#141414" text-anchor="middle" stroke="#141414" stroke-width="0.4" stroke-linejoin="round" >4</text>
<text x="763.5" y="507.9" font-size="29.5" font-weight="bold" fill="#141414" text-anchor="middle" stroke="#141414" stroke-width="0.4" stroke-linejoin="round" >5</text>
<text x="763.5" y="534.8" font-size="29.5" font-weight="bold" fill="#141414" text-anchor="middle" stroke="#141414" stroke-width="0.4" stroke-linejoin="round" >6</text>
<text x="763.5" y="561.7" font-size="29.5" font-weight="bold" fill="#141414" text-anchor="middle" stroke="#141414" stroke-width="0.4" stroke-linejoin="round" >7</text>
<text x="763.5" y="588.6" font-size="29.5" font-weight="bold" fill="#141414" text-anchor="middle" stroke="#141414" stroke-width="0.4" stroke-linejoin="round" >8</text>
<text x="1104.6" y="386.5" font-size="17.2" font-weight="normal" fill="#141414" textLength="30" lengthAdjust="spacingAndGlyphs" >First</text>
<text x="1104.6" y="400.1" font-size="17.2" font-weight="normal" fill="#141414" textLength="45.5" lengthAdjust="spacingAndGlyphs" >Others</text>
<text x="1104.6" y="413.7" font-size="17.2" font-weight="normal" fill="#141414" textLength="30" lengthAdjust="spacingAndGlyphs" >First</text>
<text x="1104.6" y="427.3" font-size="17.2" font-weight="normal" fill="#141414" textLength="45.5" lengthAdjust="spacingAndGlyphs" >Others</text>
<text x="1104.6" y="440.9" font-size="17.2" font-weight="normal" fill="#141414" textLength="30" lengthAdjust="spacingAndGlyphs" >First</text>
<text x="1104.6" y="454.5" font-size="17.2" font-weight="normal" fill="#141414" textLength="45.5" lengthAdjust="spacingAndGlyphs" >Others</text>
<text x="1104.6" y="468.1" font-size="17.2" font-weight="normal" fill="#141414" textLength="30" lengthAdjust="spacingAndGlyphs" >First</text>
<text x="1104.6" y="481.7" font-size="17.2" font-weight="normal" fill="#141414" textLength="45.5" lengthAdjust="spacingAndGlyphs" >Others</text>
<text x="1104.6" y="495.3" font-size="17.2" font-weight="normal" fill="#141414" textLength="30" lengthAdjust="spacingAndGlyphs" >First</text>
<text x="1104.6" y="508.9" font-size="17.2" font-weight="normal" fill="#141414" textLength="45.5" lengthAdjust="spacingAndGlyphs" >Others</text>
<text x="1104.6" y="522.5" font-size="17.2" font-weight="normal" fill="#141414" textLength="30" lengthAdjust="spacingAndGlyphs" >First</text>
<text x="1104.6" y="536.1" font-size="17.2" font-weight="normal" fill="#141414" textLength="45.5" lengthAdjust="spacingAndGlyphs" >Others</text>
<text x="1104.6" y="549.7" font-size="17.2" font-weight="normal" fill="#141414" textLength="30" lengthAdjust="spacingAndGlyphs" >First</text>
<text x="1104.6" y="563.3" font-size="17.2" font-weight="normal" fill="#141414" textLength="45.5" lengthAdjust="spacingAndGlyphs" >Others</text>
<text x="1104.6" y="576.9" font-size="17.2" font-weight="normal" fill="#141414" textLength="30" lengthAdjust="spacingAndGlyphs" >First</text>
<text x="1104.6" y="590.5" font-size="17.2" font-weight="normal" fill="#141414" textLength="45.5" lengthAdjust="spacingAndGlyphs" >Others</text>
<text x="915" y="359.4" font-size="34" font-weight="bold" fill="#141414" textLength="93.2" lengthAdjust="spacingAndGlyphs" stroke="#141414" stroke-width="0.6" stroke-linejoin="round" >Day 1</text>
<text x="739" y="369.2" font-size="28.6" font-weight="bold" fill="#141414" textLength="123" lengthAdjust="spacingAndGlyphs" stroke="#141414" stroke-width="0.6" stroke-linejoin="round" >Animal #</text>
<text x="775.5" y="619.2" font-size="29.5" font-weight="bold" fill="#141414" text-anchor="middle" stroke="#141414" stroke-width="0.3" stroke-linejoin="round" >-3</text>
<text x="899.5" y="619.2" font-size="29.5" font-weight="bold" fill="#141414" text-anchor="middle" stroke="#141414" stroke-width="0.3" stroke-linejoin="round" >0</text>
<text x="1096.5" y="619.2" font-size="29.5" font-weight="bold" fill="#141414" text-anchor="middle" stroke="#141414" stroke-width="0.3" stroke-linejoin="round" >5</text>
<text x="905" y="646" font-size="27.3" font-weight="bold" fill="#141414" textLength="112" lengthAdjust="spacingAndGlyphs" stroke="#141414" stroke-width="0.3" stroke-linejoin="round" >Time (s)</text>
<defs>
<linearGradient id="h2r0" x1="0" x2="1" y1="0" y2="0"><stop offset="0.0000" stop-color="#08082a"/><stop offset="0.0312" stop-color="#08082a"/><stop offset="0.0625" stop-color="#0b0b4a"/><stop offset="0.0938" stop-color="#0b0b4a"/><stop offset="0.1250" stop-color="#0b0b4a"/><stop offset="0.1562" stop-color="#08082a"/><stop offset="0.1875" stop-color="#08082a"/><stop offset="0.2188" stop-color="#08082a"/><stop offset="0.2500" stop-color="#101078"/><stop offset="0.2812" stop-color="#1a14a0"/><stop offset="0.3125" stop-color="#1a14a0"/><stop offset="0.3438" stop-color="#1a14a0"/><stop offset="0.3750" stop-color="#1a14a0"/><stop offset="0.4062" stop-color="#2a18b8"/><stop offset="0.4375" stop-color="#4a1abc"/><stop offset="0.4688" stop-color="#2a18b8"/><stop offset="0.5000" stop-color="#2a18b8"/><stop offset="0.5312" stop-color="#2a18b8"/><stop offset="0.5625" stop-color="#2a18b8"/><stop offset="0.5938" stop-color="#4a1abc"/><stop offset="0.6250" stop-color="#2a18b8"/><stop offset="0.6562" stop-color="#2a18b8"/><stop offset="0.6875" stop-color="#2a18b8"/><stop offset="0.7188" stop-color="#2a18b8"/><stop offset="0.7500" stop-color="#2a18b8"/><stop offset="0.7812" stop-color="#2a18b8"/><stop offset="0.8125" stop-color="#050508"/><stop offset="0.8438" stop-color="#050508"/><stop offset="0.8750" stop-color="#050508"/><stop offset="0.9062" stop-color="#050508"/><stop offset="0.9375" stop-color="#050508"/><stop offset="0.9688" stop-color="#050508"/><stop offset="1.0000" stop-color="#050508"/></linearGradient>
<linearGradient id="h2r1" x1="0" x2="1" y1="0" y2="0"><stop offset="0.0000" stop-color="#101078"/><stop offset="0.0312" stop-color="#101078"/><stop offset="0.0625" stop-color="#101078"/><stop offset="0.0938" stop-color="#101078"/><stop offset="0.1250" stop-color="#101078"/><stop offset="0.1562" stop-color="#101078"/><stop offset="0.1875" stop-color="#101078"/><stop offset="0.2188" stop-color="#101078"/><stop offset="0.2500" stop-color="#0b0b4a"/><stop offset="0.2812" stop-color="#0b0b4a"/><stop offset="0.3125" stop-color="#0b0b4a"/><stop offset="0.3438" stop-color="#0b0b4a"/><stop offset="0.3750" stop-color="#0b0b4a"/><stop offset="0.4062" stop-color="#0b0b4a"/><stop offset="0.4375" stop-color="#0b0b4a"/><stop offset="0.4688" stop-color="#0b0b4a"/><stop offset="0.5000" stop-color="#101078"/><stop offset="0.5312" stop-color="#1a14a0"/><stop offset="0.5625" stop-color="#1a14a0"/><stop offset="0.5938" stop-color="#1a14a0"/><stop offset="0.6250" stop-color="#1a14a0"/><stop offset="0.6562" stop-color="#1a14a0"/><stop offset="0.6875" stop-color="#1a14a0"/><stop offset="0.7188" stop-color="#2a18b8"/><stop offset="0.7500" stop-color="#2a18b8"/><stop offset="0.7812" stop-color="#2a18b8"/><stop offset="0.8125" stop-color="#2a18b8"/><stop offset="0.8438" stop-color="#2a18b8"/><stop offset="0.8750" stop-color="#2a18b8"/><stop offset="0.9062" stop-color="#2a18b8"/><stop offset="0.9375" stop-color="#2a18b8"/><stop offset="0.9688" stop-color="#2a18b8"/><stop offset="1.0000" stop-color="#2a18b8"/></linearGradient>
<linearGradient id="h2r2" x1="0" x2="1" y1="0" y2="0"><stop offset="0.0000" stop-color="#050508"/><stop offset="0.0312" stop-color="#050508"/><stop offset="0.0625" stop-color="#08082a"/><stop offset="0.0938" stop-color="#101078"/><stop offset="0.1250" stop-color="#101078"/><stop offset="0.1562" stop-color="#101078"/><stop offset="0.1875" stop-color="#0b0b4a"/><stop offset="0.2188" stop-color="#0b0b4a"/><stop offset="0.2500" stop-color="#0b0b4a"/><stop offset="0.2812" stop-color="#101078"/><stop offset="0.3125" stop-color="#1a14a0"/><stop offset="0.3438" stop-color="#1a14a0"/><stop offset="0.3750" stop-color="#1a14a0"/><stop offset="0.4062" stop-color="#1a14a0"/><stop offset="0.4375" stop-color="#2a18b8"/><stop offset="0.4688" stop-color="#4a1abc"/><stop offset="0.5000" stop-color="#7a1fc0"/><stop offset="0.5312" stop-color="#4a1abc"/><stop offset="0.5625" stop-color="#4a1abc"/><stop offset="0.5938" stop-color="#2a18b8"/><stop offset="0.6250" stop-color="#2a18b8"/><stop offset="0.6562" stop-color="#2a18b8"/><stop offset="0.6875" stop-color="#2a18b8"/><stop offset="0.7188" stop-color="#2a18b8"/><stop offset="0.7500" stop-color="#2a18b8"/><stop offset="0.7812" stop-color="#4a1abc"/><stop offset="0.8125" stop-color="#4a1abc"/><stop offset="0.8438" stop-color="#4a1abc"/><stop offset="0.8750" stop-color="#2a18b8"/><stop offset="0.9062" stop-color="#2a18b8"/><stop offset="0.9375" stop-color="#2a18b8"/><stop offset="0.9688" stop-color="#2a18b8"/><stop offset="1.0000" stop-color="#2a18b8"/></linearGradient>
<linearGradient id="h2r3" x1="0" x2="1" y1="0" y2="0"><stop offset="0.0000" stop-color="#101078"/><stop offset="0.0312" stop-color="#1a14a0"/><stop offset="0.0625" stop-color="#101078"/><stop offset="0.0938" stop-color="#0b0b4a"/><stop offset="0.1250" stop-color="#0b0b4a"/><stop offset="0.1562" stop-color="#0b0b4a"/><stop offset="0.1875" stop-color="#0b0b4a"/><stop offset="0.2188" stop-color="#101078"/><stop offset="0.2500" stop-color="#0b0b4a"/><stop offset="0.2812" stop-color="#0b0b4a"/><stop offset="0.3125" stop-color="#0b0b4a"/><stop offset="0.3438" stop-color="#0b0b4a"/><stop offset="0.3750" stop-color="#0b0b4a"/><stop offset="0.4062" stop-color="#0b0b4a"/><stop offset="0.4375" stop-color="#08082a"/><stop offset="0.4688" stop-color="#08082a"/><stop offset="0.5000" stop-color="#08082a"/><stop offset="0.5312" stop-color="#08082a"/><stop offset="0.5625" stop-color="#08082a"/><stop offset="0.5938" stop-color="#08082a"/><stop offset="0.6250" stop-color="#0b0b4a"/><stop offset="0.6562" stop-color="#101078"/><stop offset="0.6875" stop-color="#1a14a0"/><stop offset="0.7188" stop-color="#2a18b8"/><stop offset="0.7500" stop-color="#2a18b8"/><stop offset="0.7812" stop-color="#2a18b8"/><stop offset="0.8125" stop-color="#1a14a0"/><stop offset="0.8438" stop-color="#1a14a0"/><stop offset="0.8750" stop-color="#101078"/><stop offset="0.9062" stop-color="#1a14a0"/><stop offset="0.9375" stop-color="#1a14a0"/><stop offset="0.9688" stop-color="#1a14a0"/><stop offset="1.0000" stop-color="#101078"/></linearGradient>
<linearGradient id="h2r4" x1="0" x2="1" y1="0" y2="0"><stop offset="0.0000" stop-color="#101078"/><stop offset="0.0312" stop-color="#101078"/><stop offset="0.0625" stop-color="#101078"/><stop offset="0.0938" stop-color="#0b0b4a"/><stop offset="0.1250" stop-color="#0b0b4a"/><stop offset="0.1562" stop-color="#0b0b4a"/><stop offset="0.1875" stop-color="#0b0b4a"/><stop offset="0.2188" stop-color="#08082a"/><stop offset="0.2500" stop-color="#08082a"/><stop offset="0.2812" stop-color="#0b0b4a"/><stop offset="0.3125" stop-color="#101078"/><stop offset="0.3438" stop-color="#1a14a0"/><stop offset="0.3750" stop-color="#2a18b8"/><stop offset="0.4062" stop-color="#050508"/><stop offset="0.4375" stop-color="#050508"/><stop offset="0.4688" stop-color="#050508"/><stop offset="0.5000" stop-color="#050508"/><stop offset="0.5312" stop-color="#050508"/><stop offset="0.5625" stop-color="#050508"/><stop offset="0.5938" stop-color="#050508"/><stop offset="0.6250" stop-color="#050508"/><stop offset="0.6562" stop-color="#050508"/><stop offset="0.6875" stop-color="#050508"/><stop offset="0.7188" stop-color="#050508"/><stop offset="0.7500" stop-color="#050508"/><stop offset="0.7812" stop-color="#050508"/><stop offset="0.8125" stop-color="#050508"/><stop offset="0.8438" stop-color="#050508"/><stop offset="0.8750" stop-color="#050508"/><stop offset="0.9062" stop-color="#050508"/><stop offset="0.9375" stop-color="#050508"/><stop offset="0.9688" stop-color="#050508"/><stop offset="1.0000" stop-color="#050508"/></linearGradient>
<linearGradient id="h2r5" x1="0" x2="1" y1="0" y2="0"><stop offset="0.0000" stop-color="#0b0b4a"/><stop offset="0.0312" stop-color="#0b0b4a"/><stop offset="0.0625" stop-color="#0b0b4a"/><stop offset="0.0938" stop-color="#0b0b4a"/><stop offset="0.1250" stop-color="#0b0b4a"/><stop offset="0.1562" stop-color="#0b0b4a"/><stop offset="0.1875" stop-color="#0b0b4a"/><stop offset="0.2188" stop-color="#0b0b4a"/><stop offset="0.2500" stop-color="#0b0b4a"/><stop offset="0.2812" stop-color="#101078"/><stop offset="0.3125" stop-color="#101078"/><stop offset="0.3438" stop-color="#101078"/><stop offset="0.3750" stop-color="#101078"/><stop offset="0.4062" stop-color="#1a14a0"/><stop offset="0.4375" stop-color="#101078"/><stop offset="0.4688" stop-color="#101078"/><stop offset="0.5000" stop-color="#0b0b4a"/><stop offset="0.5312" stop-color="#08082a"/><stop offset="0.5625" stop-color="#08082a"/><stop offset="0.5938" stop-color="#08082a"/><stop offset="0.6250" stop-color="#08082a"/><stop offset="0.6562" stop-color="#08082a"/><stop offset="0.6875" stop-color="#08082a"/><stop offset="0.7188" stop-color="#050508"/><stop offset="0.7500" stop-color="#050508"/><stop offset="0.7812" stop-color="#050508"/><stop offset="0.8125" stop-color="#050508"/><stop offset="0.8438" stop-color="#050508"/><stop offset="0.8750" stop-color="#050508"/><stop offset="0.9062" stop-color="#050508"/><stop offset="0.9375" stop-color="#050508"/><stop offset="0.9688" stop-color="#08082a"/><stop offset="1.0000" stop-color="#0b0b4a"/></linearGradient>
<linearGradient id="h2r6" x1="0" x2="1" y1="0" y2="0"><stop offset="0.0000" stop-color="#0b0b4a"/><stop offset="0.0312" stop-color="#0b0b4a"/><stop offset="0.0625" stop-color="#08082a"/><stop offset="0.0938" stop-color="#050508"/><stop offset="0.1250" stop-color="#050508"/><stop offset="0.1562" stop-color="#08082a"/><stop offset="0.1875" stop-color="#0b0b4a"/><stop offset="0.2188" stop-color="#0b0b4a"/><stop offset="0.2500" stop-color="#101078"/><stop offset="0.2812" stop-color="#101078"/><stop offset="0.3125" stop-color="#1a14a0"/><stop offset="0.3438" stop-color="#1a14a0"/><stop offset="0.3750" stop-color="#1a14a0"/><stop offset="0.4062" stop-color="#2a18b8"/><stop offset="0.4375" stop-color="#4a1abc"/><stop offset="0.4688" stop-color="#7a1fc0"/><stop offset="0.5000" stop-color="#7a1fc0"/><stop offset="0.5312" stop-color="#7a1fc0"/><stop offset="0.5625" stop-color="#7a1fc0"/><stop offset="0.5938" stop-color="#7a1fc0"/><stop offset="0.6250" stop-color="#7a1fc0"/><stop offset="0.6562" stop-color="#7a1fc0"/><stop offset="0.6875" stop-color="#a828c0"/><stop offset="0.7188" stop-color="#d030b0"/><stop offset="0.7500" stop-color="#a828c0"/><stop offset="0.7812" stop-color="#7a1fc0"/><stop offset="0.8125" stop-color="#7a1fc0"/><stop offset="0.8438" stop-color="#7a1fc0"/><stop offset="0.8750" stop-color="#4a1abc"/><stop offset="0.9062" stop-color="#4a1abc"/><stop offset="0.9375" stop-color="#7a1fc0"/><stop offset="0.9688" stop-color="#7a1fc0"/><stop offset="1.0000" stop-color="#050508"/></linearGradient>
<linearGradient id="h2r7" x1="0" x2="1" y1="0" y2="0"><stop offset="0.0000" stop-color="#101078"/><stop offset="0.0312" stop-color="#1a14a0"/><stop offset="0.0625" stop-color="#101078"/><stop offset="0.0938" stop-color="#101078"/><stop offset="0.1250" stop-color="#0b0b4a"/><stop offset="0.1562" stop-color="#0b0b4a"/><stop offset="0.1875" stop-color="#08082a"/><stop offset="0.2188" stop-color="#08082a"/><stop offset="0.2500" stop-color="#08082a"/><stop offset="0.2812" stop-color="#0b0b4a"/><stop offset="0.3125" stop-color="#0b0b4a"/><stop offset="0.3438" stop-color="#0b0b4a"/><stop offset="0.3750" stop-color="#0b0b4a"/><stop offset="0.4062" stop-color="#08082a"/><stop offset="0.4375" stop-color="#08082a"/><stop offset="0.4688" stop-color="#08082a"/><stop offset="0.5000" stop-color="#08082a"/><stop offset="0.5312" stop-color="#08082a"/><stop offset="0.5625" stop-color="#08082a"/><stop offset="0.5938" stop-color="#0b0b4a"/><stop offset="0.6250" stop-color="#0b0b4a"/><stop offset="0.6562" stop-color="#08082a"/><stop offset="0.6875" stop-color="#050508"/><stop offset="0.7188" stop-color="#050508"/><stop offset="0.7500" stop-color="#050508"/><stop offset="0.7812" stop-color="#050508"/><stop offset="0.8125" stop-color="#050508"/><stop offset="0.8438" stop-color="#050508"/><stop offset="0.8750" stop-color="#050508"/><stop offset="0.9062" stop-color="#08082a"/><stop offset="0.9375" stop-color="#050508"/><stop offset="0.9688" stop-color="#050508"/><stop offset="1.0000" stop-color="#050508"/></linearGradient>
<linearGradient id="h2r8" x1="0" x2="1" y1="0" y2="0"><stop offset="0.0000" stop-color="#08082a"/><stop offset="0.0312" stop-color="#08082a"/><stop offset="0.0625" stop-color="#101078"/><stop offset="0.0938" stop-color="#1a14a0"/><stop offset="0.1250" stop-color="#101078"/><stop offset="0.1562" stop-color="#0b0b4a"/><stop offset="0.1875" stop-color="#0b0b4a"/><stop offset="0.2188" stop-color="#0b0b4a"/><stop offset="0.2500" stop-color="#0b0b4a"/><stop offset="0.2812" stop-color="#101078"/><stop offset="0.3125" stop-color="#0b0b4a"/><stop offset="0.3438" stop-color="#101078"/><stop offset="0.3750" stop-color="#2a18b8"/><stop offset="0.4062" stop-color="#1a14a0"/><stop offset="0.4375" stop-color="#101078"/><stop offset="0.4688" stop-color="#08082a"/><stop offset="0.5000" stop-color="#08082a"/><stop offset="0.5312" stop-color="#0b0b4a"/><stop offset="0.5625" stop-color="#08082a"/><stop offset="0.5938" stop-color="#050508"/><stop offset="0.6250" stop-color="#050508"/><stop offset="0.6562" stop-color="#050508"/><stop offset="0.6875" stop-color="#050508"/><stop offset="0.7188" stop-color="#050508"/><stop offset="0.7500" stop-color="#050508"/><stop offset="0.7812" stop-color="#050508"/><stop offset="0.8125" stop-color="#050508"/><stop offset="0.8438" stop-color="#050508"/><stop offset="0.8750" stop-color="#050508"/><stop offset="0.9062" stop-color="#050508"/><stop offset="0.9375" stop-color="#050508"/><stop offset="0.9688" stop-color="#050508"/><stop offset="1.0000" stop-color="#050508"/></linearGradient>
<linearGradient id="h2r9" x1="0" x2="1" y1="0" y2="0"><stop offset="0.0000" stop-color="#0b0b4a"/><stop offset="0.0312" stop-color="#0b0b4a"/><stop offset="0.0625" stop-color="#0b0b4a"/><stop offset="0.0938" stop-color="#0b0b4a"/><stop offset="0.1250" stop-color="#0b0b4a"/><stop offset="0.1562" stop-color="#101078"/><stop offset="0.1875" stop-color="#101078"/><stop offset="0.2188" stop-color="#101078"/><stop offset="0.2500" stop-color="#101078"/><stop offset="0.2812" stop-color="#101078"/><stop offset="0.3125" stop-color="#101078"/><stop offset="0.3438" stop-color="#101078"/><stop offset="0.3750" stop-color="#1a14a0"/><stop offset="0.4062" stop-color="#2a18b8"/><stop offset="0.4375" stop-color="#4a1abc"/><stop offset="0.4688" stop-color="#7a1fc0"/><stop offset="0.5000" stop-color="#a828c0"/><stop offset="0.5312" stop-color="#a828c0"/><stop offset="0.5625" stop-color="#a828c0"/><stop offset="0.5938" stop-color="#a828c0"/><stop offset="0.6250" stop-color="#7a1fc0"/><stop offset="0.6562" stop-color="#7a1fc0"/><stop offset="0.6875" stop-color="#7a1fc0"/><stop offset="0.7188" stop-color="#4a1abc"/><stop offset="0.7500" stop-color="#4a1abc"/><stop offset="0.7812" stop-color="#a828c0"/><stop offset="0.8125" stop-color="#7a1fc0"/><stop offset="0.8438" stop-color="#7a1fc0"/><stop offset="0.8750" stop-color="#7a1fc0"/><stop offset="0.9062" stop-color="#a828c0"/><stop offset="0.9375" stop-color="#d030b0"/><stop offset="0.9688" stop-color="#e83294"/><stop offset="1.0000" stop-color="#e83294"/></linearGradient>
<linearGradient id="h2r10" x1="0" x2="1" y1="0" y2="0"><stop offset="0.0000" stop-color="#08082a"/><stop offset="0.0312" stop-color="#050508"/><stop offset="0.0625" stop-color="#08082a"/><stop offset="0.0938" stop-color="#0b0b4a"/><stop offset="0.1250" stop-color="#0b0b4a"/><stop offset="0.1562" stop-color="#101078"/><stop offset="0.1875" stop-color="#101078"/><stop offset="0.2188" stop-color="#0b0b4a"/><stop offset="0.2500" stop-color="#0b0b4a"/><stop offset="0.2812" stop-color="#08082a"/><stop offset="0.3125" stop-color="#101078"/><stop offset="0.3438" stop-color="#1a14a0"/><stop offset="0.3750" stop-color="#101078"/><stop offset="0.4062" stop-color="#101078"/><stop offset="0.4375" stop-color="#101078"/><stop offset="0.4688" stop-color="#101078"/><stop offset="0.5000" stop-color="#101078"/><stop offset="0.5312" stop-color="#101078"/><stop offset="0.5625" stop-color="#1a14a0"/><stop offset="0.5938" stop-color="#2a18b8"/><stop offset="0.6250" stop-color="#2a18b8"/><stop offset="0.6562" stop-color="#2a18b8"/><stop offset="0.6875" stop-color="#2a18b8"/><stop offset="0.7188" stop-color="#2a18b8"/><stop offset="0.7500" stop-color="#2a18b8"/><stop offset="0.7812" stop-color="#2a18b8"/><stop offset="0.8125" stop-color="#101078"/><stop offset="0.8438" stop-color="#0b0b4a"/><stop offset="0.8750" stop-color="#0b0b4a"/><stop offset="0.9062" stop-color="#101078"/><stop offset="0.9375" stop-color="#2a18b8"/><stop offset="0.9688" stop-color="#2a18b8"/><stop offset="1.0000" stop-color="#2a18b8"/></linearGradient>
<linearGradient id="h2r11" x1="0" x2="1" y1="0" y2="0"><stop offset="0.0000" stop-color="#0b0b4a"/><stop offset="0.0312" stop-color="#0b0b4a"/><stop offset="0.0625" stop-color="#0b0b4a"/><stop offset="0.0938" stop-color="#0b0b4a"/><stop offset="0.1250" stop-color="#0b0b4a"/><stop offset="0.1562" stop-color="#0b0b4a"/><stop offset="0.1875" stop-color="#0b0b4a"/><stop offset="0.2188" stop-color="#0b0b4a"/><stop offset="0.2500" stop-color="#101078"/><stop offset="0.2812" stop-color="#101078"/><stop offset="0.3125" stop-color="#101078"/><stop offset="0.3438" stop-color="#0b0b4a"/><stop offset="0.3750" stop-color="#101078"/><stop offset="0.4062" stop-color="#1a14a0"/><stop offset="0.4375" stop-color="#1a14a0"/><stop offset="0.4688" stop-color="#101078"/><stop offset="0.5000" stop-color="#0b0b4a"/><stop offset="0.5312" stop-color="#08082a"/><stop offset="0.5625" stop-color="#08082a"/><stop offset="0.5938" stop-color="#08082a"/><stop offset="0.6250" stop-color="#08082a"/><stop offset="0.6562" stop-color="#08082a"/><stop offset="0.6875" stop-color="#08082a"/><stop offset="0.7188" stop-color="#08082a"/><stop offset="0.7500" stop-color="#08082a"/><stop offset="0.7812" stop-color="#08082a"/><stop offset="0.8125" stop-color="#08082a"/><stop offset="0.8438" stop-color="#0b0b4a"/><stop offset="0.8750" stop-color="#101078"/><stop offset="0.9062" stop-color="#101078"/><stop offset="0.9375" stop-color="#0b0b4a"/><stop offset="0.9688" stop-color="#0b0b4a"/><stop offset="1.0000" stop-color="#08082a"/></linearGradient>
<linearGradient id="h2r12" x1="0" x2="1" y1="0" y2="0"><stop offset="0.0000" stop-color="#08082a"/><stop offset="0.0312" stop-color="#08082a"/><stop offset="0.0625" stop-color="#08082a"/><stop offset="0.0938" stop-color="#08082a"/><stop offset="0.1250" stop-color="#08082a"/><stop offset="0.1562" stop-color="#08082a"/><stop offset="0.1875" stop-color="#08082a"/><stop offset="0.2188" stop-color="#0b0b4a"/><stop offset="0.2500" stop-color="#101078"/><stop offset="0.2812" stop-color="#1a14a0"/><stop offset="0.3125" stop-color="#1a14a0"/><stop offset="0.3438" stop-color="#1a14a0"/><stop offset="0.3750" stop-color="#1a14a0"/><stop offset="0.4062" stop-color="#1a14a0"/><stop offset="0.4375" stop-color="#1a14a0"/><stop offset="0.4688" stop-color="#1a14a0"/><stop offset="0.5000" stop-color="#1a14a0"/><stop offset="0.5312" stop-color="#1a14a0"/><stop offset="0.5625" stop-color="#1a14a0"/><stop offset="0.5938" stop-color="#1a14a0"/><stop offset="0.6250" stop-color="#1a14a0"/><stop offset="0.6562" stop-color="#1a14a0"/><stop offset="0.6875" stop-color="#1a14a0"/><stop offset="0.7188" stop-color="#101078"/><stop offset="0.7500" stop-color="#101078"/><stop offset="0.7812" stop-color="#101078"/><stop offset="0.8125" stop-color="#101078"/><stop offset="0.8438" stop-color="#0b0b4a"/><stop offset="0.8750" stop-color="#0b0b4a"/><stop offset="0.9062" stop-color="#0b0b4a"/><stop offset="0.9375" stop-color="#0b0b4a"/><stop offset="0.9688" stop-color="#08082a"/><stop offset="1.0000" stop-color="#08082a"/></linearGradient>
<linearGradient id="h2r13" x1="0" x2="1" y1="0" y2="0"><stop offset="0.0000" stop-color="#101078"/><stop offset="0.0312" stop-color="#101078"/><stop offset="0.0625" stop-color="#101078"/><stop offset="0.0938" stop-color="#101078"/><stop offset="0.1250" stop-color="#101078"/><stop offset="0.1562" stop-color="#0b0b4a"/><stop offset="0.1875" stop-color="#0b0b4a"/><stop offset="0.2188" stop-color="#0b0b4a"/><stop offset="0.2500" stop-color="#0b0b4a"/><stop offset="0.2812" stop-color="#0b0b4a"/><stop offset="0.3125" stop-color="#0b0b4a"/><stop offset="0.3438" stop-color="#0b0b4a"/><stop offset="0.3750" stop-color="#0b0b4a"/><stop offset="0.4062" stop-color="#0b0b4a"/><stop offset="0.4375" stop-color="#0b0b4a"/><stop offset="0.4688" stop-color="#0b0b4a"/><stop offset="0.5000" stop-color="#0b0b4a"/><stop offset="0.5312" stop-color="#0b0b4a"/><stop offset="0.5625" stop-color="#0b0b4a"/><stop offset="0.5938" stop-color="#0b0b4a"/><stop offset="0.6250" stop-color="#0b0b4a"/><stop offset="0.6562" stop-color="#0b0b4a"/><stop offset="0.6875" stop-color="#0b0b4a"/><stop offset="0.7188" stop-color="#0b0b4a"/><stop offset="0.7500" stop-color="#0b0b4a"/><stop offset="0.7812" stop-color="#08082a"/><stop offset="0.8125" stop-color="#08082a"/><stop offset="0.8438" stop-color="#08082a"/><stop offset="0.8750" stop-color="#08082a"/><stop offset="0.9062" stop-color="#08082a"/><stop offset="0.9375" stop-color="#050508"/><stop offset="0.9688" stop-color="#050508"/><stop offset="1.0000" stop-color="#050508"/></linearGradient>
<linearGradient id="h2r14" x1="0" x2="1" y1="0" y2="0"><stop offset="0.0000" stop-color="#050508"/><stop offset="0.0312" stop-color="#08082a"/><stop offset="0.0625" stop-color="#101078"/><stop offset="0.0938" stop-color="#1a14a0"/><stop offset="0.1250" stop-color="#101078"/><stop offset="0.1562" stop-color="#101078"/><stop offset="0.1875" stop-color="#101078"/><stop offset="0.2188" stop-color="#101078"/><stop offset="0.2500" stop-color="#0b0b4a"/><stop offset="0.2812" stop-color="#08082a"/><stop offset="0.3125" stop-color="#050508"/><stop offset="0.3438" stop-color="#08082a"/><stop offset="0.3750" stop-color="#101078"/><stop offset="0.4062" stop-color="#2a18b8"/><stop offset="0.4375" stop-color="#2a18b8"/><stop offset="0.4688" stop-color="#2a18b8"/><stop offset="0.5000" stop-color="#4a1abc"/><stop offset="0.5312" stop-color="#7a1fc0"/><stop offset="0.5625" stop-color="#a828c0"/><stop offset="0.5938" stop-color="#d030b0"/><stop offset="0.6250" stop-color="#e83294"/><stop offset="0.6562" stop-color="#d030b0"/><stop offset="0.6875" stop-color="#a828c0"/><stop offset="0.7188" stop-color="#d030b0"/><stop offset="0.7500" stop-color="#e83294"/><stop offset="0.7812" stop-color="#d030b0"/><stop offset="0.8125" stop-color="#7a1fc0"/><stop offset="0.8438" stop-color="#4a1abc"/><stop offset="0.8750" stop-color="#7a1fc0"/><stop offset="0.9062" stop-color="#a828c0"/><stop offset="0.9375" stop-color="#a828c0"/><stop offset="0.9688" stop-color="#7a1fc0"/><stop offset="1.0000" stop-color="#050508"/></linearGradient>
<linearGradient id="h2r15" x1="0" x2="1" y1="0" y2="0"><stop offset="0.0000" stop-color="#101078"/><stop offset="0.0312" stop-color="#101078"/><stop offset="0.0625" stop-color="#101078"/><stop offset="0.0938" stop-color="#101078"/><stop offset="0.1250" stop-color="#101078"/><stop offset="0.1562" stop-color="#0b0b4a"/><stop offset="0.1875" stop-color="#0b0b4a"/><stop offset="0.2188" stop-color="#0b0b4a"/><stop offset="0.2500" stop-color="#101078"/><stop offset="0.2812" stop-color="#101078"/><stop offset="0.3125" stop-color="#101078"/><stop offset="0.3438" stop-color="#101078"/><stop offset="0.3750" stop-color="#101078"/><stop offset="0.4062" stop-color="#1a14a0"/><stop offset="0.4375" stop-color="#1a14a0"/><stop offset="0.4688" stop-color="#1a14a0"/><stop offset="0.5000" stop-color="#101078"/><stop offset="0.5312" stop-color="#1a14a0"/><stop offset="0.5625" stop-color="#1a14a0"/><stop offset="0.5938" stop-color="#1a14a0"/><stop offset="0.6250" stop-color="#1a14a0"/><stop offset="0.6562" stop-color="#1a14a0"/><stop offset="0.6875" stop-color="#1a14a0"/><stop offset="0.7188" stop-color="#1a14a0"/><stop offset="0.7500" stop-color="#1a14a0"/><stop offset="0.7812" stop-color="#1a14a0"/><stop offset="0.8125" stop-color="#1a14a0"/><stop offset="0.8438" stop-color="#1a14a0"/><stop offset="0.8750" stop-color="#2a18b8"/><stop offset="0.9062" stop-color="#2a18b8"/><stop offset="0.9375" stop-color="#4a1abc"/><stop offset="0.9688" stop-color="#4a1abc"/><stop offset="1.0000" stop-color="#7a1fc0"/></linearGradient>
</defs>
<rect x="1201.2" y="380.0" width="318.0999999999999" height="207.60000000000002" fill="#06061a" />
<rect x="1202.2" y="379.90" width="316.0999999999999" height="13.30" fill="url(#h2r0)" />
<rect x="1451.1" y="379.90" width="67.2" height="13.30" fill="#050506" />
<rect x="1202.2" y="392.90" width="316.0999999999999" height="13.30" fill="url(#h2r1)" />
<rect x="1202.2" y="405.90" width="316.0999999999999" height="13.30" fill="url(#h2r2)" />
<rect x="1202.2" y="418.90" width="316.0999999999999" height="13.30" fill="url(#h2r3)" />
<rect x="1202.2" y="431.90" width="316.0999999999999" height="13.30" fill="url(#h2r4)" />
<rect x="1330.6" y="431.90" width="187.7" height="13.30" fill="#050506" />
<rect x="1202.2" y="444.90" width="316.0999999999999" height="13.30" fill="url(#h2r5)" />
<rect x="1202.2" y="457.90" width="316.0999999999999" height="13.30" fill="url(#h2r6)" />
<rect x="1515.3" y="457.90" width="3.0" height="13.30" fill="#050506" />
<rect x="1202.2" y="470.90" width="316.0999999999999" height="13.30" fill="url(#h2r7)" />
<rect x="1416.6" y="470.90" width="101.7" height="13.30" fill="#050506" />
<rect x="1202.2" y="483.90" width="316.0999999999999" height="13.30" fill="url(#h2r8)" />
<rect x="1388.9" y="483.90" width="129.4" height="13.30" fill="#050506" />
<rect x="1202.2" y="496.90" width="316.0999999999999" height="13.30" fill="url(#h2r9)" />
<rect x="1202.2" y="509.90" width="316.0999999999999" height="13.30" fill="url(#h2r10)" />
<rect x="1202.2" y="522.90" width="316.0999999999999" height="13.30" fill="url(#h2r11)" />
<rect x="1202.2" y="535.90" width="316.0999999999999" height="13.30" fill="url(#h2r12)" />
<rect x="1202.2" y="548.90" width="316.0999999999999" height="13.30" fill="url(#h2r13)" />
<rect x="1202.2" y="561.90" width="316.0999999999999" height="13.30" fill="url(#h2r14)" />
<rect x="1510.4" y="561.90" width="7.9" height="13.30" fill="#050506" />
<rect x="1202.2" y="574.90" width="316.0999999999999" height="13.30" fill="url(#h2r15)" />
<rect x="1201.2" y="380.2" width="318.0999999999999" height="207.3" fill="none" stroke="#050505" stroke-width="2.3"/>
<line x1="1320.7" y1="382.0" x2="1320.7" y2="586.5" stroke="#ff1f2e" stroke-width="2.2" stroke-dasharray="6 7"/>
<text x="1187.7" y="400.3" font-size="29.5" font-weight="bold" fill="#141414" text-anchor="middle" stroke="#141414" stroke-width="0.4" stroke-linejoin="round" >1</text>
<text x="1187.7" y="427.2" font-size="29.5" font-weight="bold" fill="#141414" text-anchor="middle" stroke="#141414" stroke-width="0.4" stroke-linejoin="round" >2</text>
<text x="1187.7" y="454.1" font-size="29.5" font-weight="bold" fill="#141414" text-anchor="middle" stroke="#141414" stroke-width="0.4" stroke-linejoin="round" >3</text>
<text x="1187.7" y="481.0" font-size="29.5" font-weight="bold" fill="#141414" text-anchor="middle" stroke="#141414" stroke-width="0.4" stroke-linejoin="round" >4</text>
<text x="1187.7" y="507.9" font-size="29.5" font-weight="bold" fill="#141414" text-anchor="middle" stroke="#141414" stroke-width="0.4" stroke-linejoin="round" >5</text>
<text x="1187.7" y="534.8" font-size="29.5" font-weight="bold" fill="#141414" text-anchor="middle" stroke="#141414" stroke-width="0.4" stroke-linejoin="round" >6</text>
<text x="1187.7" y="561.7" font-size="29.5" font-weight="bold" fill="#141414" text-anchor="middle" stroke="#141414" stroke-width="0.4" stroke-linejoin="round" >7</text>
<text x="1187.7" y="588.6" font-size="29.5" font-weight="bold" fill="#141414" text-anchor="middle" stroke="#141414" stroke-width="0.4" stroke-linejoin="round" >8</text>
<text x="1528.9" y="386.5" font-size="17.2" font-weight="normal" fill="#141414" textLength="30" lengthAdjust="spacingAndGlyphs" >First</text>
<text x="1528.9" y="400.1" font-size="17.2" font-weight="normal" fill="#141414" textLength="45.5" lengthAdjust="spacingAndGlyphs" >Others</text>
<text x="1528.9" y="413.7" font-size="17.2" font-weight="normal" fill="#141414" textLength="30" lengthAdjust="spacingAndGlyphs" >First</text>
<text x="1528.9" y="427.3" font-size="17.2" font-weight="normal" fill="#141414" textLength="45.5" lengthAdjust="spacingAndGlyphs" >Others</text>
<text x="1528.9" y="440.9" font-size="17.2" font-weight="normal" fill="#141414" textLength="30" lengthAdjust="spacingAndGlyphs" >First</text>
<text x="1528.9" y="454.5" font-size="17.2" font-weight="normal" fill="#141414" textLength="45.5" lengthAdjust="spacingAndGlyphs" >Others</text>
<text x="1528.9" y="468.1" font-size="17.2" font-weight="normal" fill="#141414" textLength="30" lengthAdjust="spacingAndGlyphs" >First</text>
<text x="1528.9" y="481.7" font-size="17.2" font-weight="normal" fill="#141414" textLength="45.5" lengthAdjust="spacingAndGlyphs" >Others</text>
<text x="1528.9" y="495.3" font-size="17.2" font-weight="normal" fill="#141414" textLength="30" lengthAdjust="spacingAndGlyphs" >First</text>
<text x="1528.9" y="508.9" font-size="17.2" font-weight="normal" fill="#141414" textLength="45.5" lengthAdjust="spacingAndGlyphs" >Others</text>
<text x="1528.9" y="522.5" font-size="17.2" font-weight="normal" fill="#141414" textLength="30" lengthAdjust="spacingAndGlyphs" >First</text>
<text x="1528.9" y="536.1" font-size="17.2" font-weight="normal" fill="#141414" textLength="45.5" lengthAdjust="spacingAndGlyphs" >Others</text>
<text x="1528.9" y="549.7" font-size="17.2" font-weight="normal" fill="#141414" textLength="30" lengthAdjust="spacingAndGlyphs" >First</text>
<text x="1528.9" y="563.3" font-size="17.2" font-weight="normal" fill="#141414" textLength="45.5" lengthAdjust="spacingAndGlyphs" >Others</text>
<text x="1528.9" y="576.9" font-size="17.2" font-weight="normal" fill="#141414" textLength="30" lengthAdjust="spacingAndGlyphs" >First</text>
<text x="1528.9" y="590.5" font-size="17.2" font-weight="normal" fill="#141414" textLength="45.5" lengthAdjust="spacingAndGlyphs" >Others</text>
<text x="1338.9" y="359.4" font-size="34" font-weight="bold" fill="#141414" textLength="96.2" lengthAdjust="spacingAndGlyphs" stroke="#141414" stroke-width="0.6" stroke-linejoin="round" >Day 2</text>
<text x="1163" y="369.2" font-size="28.6" font-weight="bold" fill="#141414" textLength="123" lengthAdjust="spacingAndGlyphs" stroke="#141414" stroke-width="0.6" stroke-linejoin="round" >Animal #</text>
<text x="1198.9" y="619.2" font-size="29.5" font-weight="bold" fill="#141414" text-anchor="middle" stroke="#141414" stroke-width="0.3" stroke-linejoin="round" >-3</text>
<text x="1323.5" y="619.2" font-size="29.5" font-weight="bold" fill="#141414" text-anchor="middle" stroke="#141414" stroke-width="0.3" stroke-linejoin="round" >0</text>
<text x="1520.6" y="619.2" font-size="29.5" font-weight="bold" fill="#141414" text-anchor="middle" stroke="#141414" stroke-width="0.3" stroke-linejoin="round" >5</text>
<text x="1329" y="646" font-size="27.3" font-weight="bold" fill="#141414" textLength="112" lengthAdjust="spacingAndGlyphs" stroke="#141414" stroke-width="0.3" stroke-linejoin="round" >Time (s)</text>
<defs>
<linearGradient id="h3r0" x1="0" x2="1" y1="0" y2="0"><stop offset="0.0000" stop-color="#101078"/><stop offset="0.0312" stop-color="#1a14a0"/><stop offset="0.0625" stop-color="#101078"/><stop offset="0.0938" stop-color="#0b0b4a"/><stop offset="0.1250" stop-color="#0b0b4a"/><stop offset="0.1562" stop-color="#0b0b4a"/><stop offset="0.1875" stop-color="#0b0b4a"/><stop offset="0.2188" stop-color="#08082a"/><stop offset="0.2500" stop-color="#08082a"/><stop offset="0.2812" stop-color="#0b0b4a"/><stop offset="0.3125" stop-color="#08082a"/><stop offset="0.3438" stop-color="#08082a"/><stop offset="0.3750" stop-color="#0b0b4a"/><stop offset="0.4062" stop-color="#101078"/><stop offset="0.4375" stop-color="#101078"/><stop offset="0.4688" stop-color="#2a18b8"/><stop offset="0.5000" stop-color="#2a18b8"/><stop offset="0.5312" stop-color="#4a1abc"/><stop offset="0.5625" stop-color="#4a1abc"/><stop offset="0.5938" stop-color="#2a18b8"/><stop offset="0.6250" stop-color="#2a18b8"/><stop offset="0.6562" stop-color="#4a1abc"/><stop offset="0.6875" stop-color="#4a1abc"/><stop offset="0.7188" stop-color="#4a1abc"/><stop offset="0.7500" stop-color="#2a18b8"/><stop offset="0.7812" stop-color="#2a18b8"/><stop offset="0.8125" stop-color="#2a18b8"/><stop offset="0.8438" stop-color="#2a18b8"/><stop offset="0.8750" stop-color="#2a18b8"/><stop offset="0.9062" stop-color="#1a14a0"/><stop offset="0.9375" stop-color="#0b0b4a"/><stop offset="0.9688" stop-color="#101078"/><stop offset="1.0000" stop-color="#101078"/></linearGradient>
<linearGradient id="h3r1" x1="0" x2="1" y1="0" y2="0"><stop offset="0.0000" stop-color="#101078"/><stop offset="0.0312" stop-color="#101078"/><stop offset="0.0625" stop-color="#101078"/><stop offset="0.0938" stop-color="#101078"/><stop offset="0.1250" stop-color="#101078"/><stop offset="0.1562" stop-color="#0b0b4a"/><stop offset="0.1875" stop-color="#0b0b4a"/><stop offset="0.2188" stop-color="#0b0b4a"/><stop offset="0.2500" stop-color="#0b0b4a"/><stop offset="0.2812" stop-color="#0b0b4a"/><stop offset="0.3125" stop-color="#0b0b4a"/><stop offset="0.3438" stop-color="#101078"/><stop offset="0.3750" stop-color="#101078"/><stop offset="0.4062" stop-color="#101078"/><stop offset="0.4375" stop-color="#0b0b4a"/><stop offset="0.4688" stop-color="#0b0b4a"/><stop offset="0.5000" stop-color="#08082a"/><stop offset="0.5312" stop-color="#08082a"/><stop offset="0.5625" stop-color="#08082a"/><stop offset="0.5938" stop-color="#08082a"/><stop offset="0.6250" stop-color="#08082a"/><stop offset="0.6562" stop-color="#08082a"/><stop offset="0.6875" stop-color="#08082a"/><stop offset="0.7188" stop-color="#08082a"/><stop offset="0.7500" stop-color="#08082a"/><stop offset="0.7812" stop-color="#08082a"/><stop offset="0.8125" stop-color="#08082a"/><stop offset="0.8438" stop-color="#08082a"/><stop offset="0.8750" stop-color="#08082a"/><stop offset="0.9062" stop-color="#08082a"/><stop offset="0.9375" stop-color="#0b0b4a"/><stop offset="0.9688" stop-color="#1a14a0"/><stop offset="1.0000" stop-color="#1a14a0"/></linearGradient>
<linearGradient id="h3r2" x1="0" x2="1" y1="0" y2="0"><stop offset="0.0000" stop-color="#101078"/><stop offset="0.0312" stop-color="#101078"/><stop offset="0.0625" stop-color="#101078"/><stop offset="0.0938" stop-color="#101078"/><stop offset="0.1250" stop-color="#101078"/><stop offset="0.1562" stop-color="#101078"/><stop offset="0.1875" stop-color="#101078"/><stop offset="0.2188" stop-color="#101078"/><stop offset="0.2500" stop-color="#101078"/><stop offset="0.2812" stop-color="#0b0b4a"/><stop offset="0.3125" stop-color="#050508"/><stop offset="0.3438" stop-color="#050508"/><stop offset="0.3750" stop-color="#08082a"/><stop offset="0.4062" stop-color="#1a14a0"/><stop offset="0.4375" stop-color="#2a18b8"/><stop offset="0.4688" stop-color="#2a18b8"/><stop offset="0.5000" stop-color="#2a18b8"/><stop offset="0.5312" stop-color="#101078"/><stop offset="0.5625" stop-color="#0b0b4a"/><stop offset="0.5938" stop-color="#0b0b4a"/><stop offset="0.6250" stop-color="#101078"/><stop offset="0.6562" stop-color="#1a14a0"/><stop offset="0.6875" stop-color="#101078"/><stop offset="0.7188" stop-color="#101078"/><stop offset="0.7500" stop-color="#101078"/><stop offset="0.7812" stop-color="#101078"/><stop offset="0.8125" stop-color="#101078"/><stop offset="0.8438" stop-color="#1a14a0"/><stop offset="0.8750" stop-color="#101078"/><stop offset="0.9062" stop-color="#101078"/><stop offset="0.9375" stop-color="#0b0b4a"/><stop offset="0.9688" stop-color="#08082a"/><stop offset="1.0000" stop-color="#08082a"/></linearGradient>
<linearGradient id="h3r3" x1="0" x2="1" y1="0" y2="0"><stop offset="0.0000" stop-color="#0b0b4a"/><stop offset="0.0312" stop-color="#0b0b4a"/><stop offset="0.0625" stop-color="#0b0b4a"/><stop offset="0.0938" stop-color="#0b0b4a"/><stop offset="0.1250" stop-color="#101078"/><stop offset="0.1562" stop-color="#101078"/><stop offset="0.1875" stop-color="#101078"/><stop offset="0.2188" stop-color="#101078"/><stop offset="0.2500" stop-color="#101078"/><stop offset="0.2812" stop-color="#0b0b4a"/><stop offset="0.3125" stop-color="#08082a"/><stop offset="0.3438" stop-color="#08082a"/><stop offset="0.3750" stop-color="#08082a"/><stop offset="0.4062" stop-color="#08082a"/><stop offset="0.4375" stop-color="#08082a"/><stop offset="0.4688" stop-color="#08082a"/><stop offset="0.5000" stop-color="#08082a"/><stop offset="0.5312" stop-color="#08082a"/><stop offset="0.5625" stop-color="#050508"/><stop offset="0.5938" stop-color="#050508"/><stop offset="0.6250" stop-color="#050508"/><stop offset="0.6562" stop-color="#050508"/><stop offset="0.6875" stop-color="#050508"/><stop offset="0.7188" stop-color="#050508"/><stop offset="0.7500" stop-color="#050508"/><stop offset="0.7812" stop-color="#050508"/><stop offset="0.8125" stop-color="#050508"/><stop offset="0.8438" stop-color="#050508"/><stop offset="0.8750" stop-color="#050508"/><stop offset="0.9062" stop-color="#050508"/><stop offset="0.9375" stop-color="#050508"/><stop offset="0.9688" stop-color="#050508"/><stop offset="1.0000" stop-color="#050508"/></linearGradient>
<linearGradient id="h3r4" x1="0" x2="1" y1="0" y2="0"><stop offset="0.0000" stop-color="#101078"/><stop offset="0.0312" stop-color="#101078"/><stop offset="0.0625" stop-color="#101078"/><stop offset="0.0938" stop-color="#101078"/><stop offset="0.1250" stop-color="#0b0b4a"/><stop offset="0.1562" stop-color="#08082a"/><stop offset="0.1875" stop-color="#050508"/><stop offset="0.2188" stop-color="#050508"/><stop offset="0.2500" stop-color="#08082a"/><stop offset="0.2812" stop-color="#0b0b4a"/><stop offset="0.3125" stop-color="#1a14a0"/><stop offset="0.3438" stop-color="#1a14a0"/><stop offset="0.3750" stop-color="#1a14a0"/><stop offset="0.4062" stop-color="#1a14a0"/><stop offset="0.4375" stop-color="#1a14a0"/><stop offset="0.4688" stop-color="#1a14a0"/><stop offset="0.5000" stop-color="#1a14a0"/><stop offset="0.5312" stop-color="#1a14a0"/><stop offset="0.5625" stop-color="#1a14a0"/><stop offset="0.5938" stop-color="#1a14a0"/><stop offset="0.6250" stop-color="#101078"/><stop offset="0.6562" stop-color="#101078"/><stop offset="0.6875" stop-color="#101078"/><stop offset="0.7188" stop-color="#101078"/><stop offset="0.7500" stop-color="#101078"/><stop offset="0.7812" stop-color="#0b0b4a"/><stop offset="0.8125" stop-color="#0b0b4a"/><stop offset="0.8438" stop-color="#050508"/><stop offset="0.8750" stop-color="#050508"/><stop offset="0.9062" stop-color="#050508"/><stop offset="0.9375" stop-color="#050508"/><stop offset="0.9688" stop-color="#050508"/><stop offset="1.0000" stop-color="#050508"/></linearGradient>
<linearGradient id="h3r5" x1="0" x2="1" y1="0" y2="0"><stop offset="0.0000" stop-color="#0b0b4a"/><stop offset="0.0312" stop-color="#0b0b4a"/><stop offset="0.0625" stop-color="#0b0b4a"/><stop offset="0.0938" stop-color="#101078"/><stop offset="0.1250" stop-color="#101078"/><stop offset="0.1562" stop-color="#101078"/><stop offset="0.1875" stop-color="#0b0b4a"/><stop offset="0.2188" stop-color="#0b0b4a"/><stop offset="0.2500" stop-color="#0b0b4a"/><stop offset="0.2812" stop-color="#0b0b4a"/><stop offset="0.3125" stop-color="#0b0b4a"/><stop offset="0.3438" stop-color="#0b0b4a"/><stop offset="0.3750" stop-color="#101078"/><stop offset="0.4062" stop-color="#1a14a0"/><stop offset="0.4375" stop-color="#1a14a0"/><stop offset="0.4688" stop-color="#101078"/><stop offset="0.5000" stop-color="#08082a"/><stop offset="0.5312" stop-color="#08082a"/><stop offset="0.5625" stop-color="#08082a"/><stop offset="0.5938" stop-color="#050508"/><stop offset="0.6250" stop-color="#050508"/><stop offset="0.6562" stop-color="#050508"/><stop offset="0.6875" stop-color="#050508"/><stop offset="0.7188" stop-color="#050508"/><stop offset="0.7500" stop-color="#050508"/><stop offset="0.7812" stop-color="#050508"/><stop offset="0.8125" stop-color="#050508"/><stop offset="0.8438" stop-color="#050508"/><stop offset="0.8750" stop-color="#050508"/><stop offset="0.9062" stop-color="#050508"/><stop offset="0.9375" stop-color="#050508"/><stop offset="0.9688" stop-color="#050508"/><stop offset="1.0000" stop-color="#050508"/></linearGradient>
<linearGradient id="h3r6" x1="0" x2="1" y1="0" y2="0"><stop offset="0.0000" stop-color="#101078"/><stop offset="0.0312" stop-color="#101078"/><stop offset="0.0625" stop-color="#0b0b4a"/><stop offset="0.0938" stop-color="#0b0b4a"/><stop offset="0.1250" stop-color="#08082a"/><stop offset="0.1562" stop-color="#08082a"/><stop offset="0.1875" stop-color="#08082a"/><stop offset="0.2188" stop-color="#08082a"/><stop offset="0.2500" stop-color="#0b0b4a"/><stop offset="0.2812" stop-color="#101078"/><stop offset="0.3125" stop-color="#1a14a0"/><stop offset="0.3438" stop-color="#1a14a0"/><stop offset="0.3750" stop-color="#2a18b8"/><stop offset="0.4062" stop-color="#2a18b8"/><stop offset="0.4375" stop-color="#4a1abc"/><stop offset="0.4688" stop-color="#4a1abc"/><stop offset="0.5000" stop-color="#4a1abc"/><stop offset="0.5312" stop-color="#4a1abc"/><stop offset="0.5625" stop-color="#4a1abc"/><stop offset="0.5938" stop-color="#4a1abc"/><stop offset="0.6250" stop-color="#4a1abc"/><stop offset="0.6562" stop-color="#4a1abc"/><stop offset="0.6875" stop-color="#4a1abc"/><stop offset="0.7188" stop-color="#4a1abc"/><stop offset="0.7500" stop-color="#4a1abc"/><stop offset="0.7812" stop-color="#4a1abc"/><stop offset="0.8125" stop-color="#2a18b8"/><stop offset="0.8438" stop-color="#2a18b8"/><stop offset="0.8750" stop-color="#2a18b8"/><stop offset="0.9062" stop-color="#2a18b8"/><stop offset="0.9375" stop-color="#2a18b8"/><stop offset="0.9688" stop-color="#2a18b8"/><stop offset="1.0000" stop-color="#2a18b8"/></linearGradient>
<linearGradient id="h3r7" x1="0" x2="1" y1="0" y2="0"><stop offset="0.0000" stop-color="#101078"/><stop offset="0.0312" stop-color="#101078"/><stop offset="0.0625" stop-color="#101078"/><stop offset="0.0938" stop-color="#101078"/><stop offset="0.1250" stop-color="#101078"/><stop offset="0.1562" stop-color="#101078"/><stop offset="0.1875" stop-color="#101078"/><stop offset="0.2188" stop-color="#101078"/><stop offset="0.2500" stop-color="#101078"/><stop offset="0.2812" stop-color="#101078"/><stop offset="0.3125" stop-color="#101078"/><stop offset="0.3438" stop-color="#0b0b4a"/><stop offset="0.3750" stop-color="#101078"/><stop offset="0.4062" stop-color="#101078"/><stop offset="0.4375" stop-color="#101078"/><stop offset="0.4688" stop-color="#1a14a0"/><stop offset="0.5000" stop-color="#101078"/><stop offset="0.5312" stop-color="#1a14a0"/><stop offset="0.5625" stop-color="#1a14a0"/><stop offset="0.5938" stop-color="#1a14a0"/><stop offset="0.6250" stop-color="#101078"/><stop offset="0.6562" stop-color="#101078"/><stop offset="0.6875" stop-color="#101078"/><stop offset="0.7188" stop-color="#101078"/><stop offset="0.7500" stop-color="#101078"/><stop offset="0.7812" stop-color="#101078"/><stop offset="0.8125" stop-color="#101078"/><stop offset="0.8438" stop-color="#101078"/><stop offset="0.8750" stop-color="#1a14a0"/><stop offset="0.9062" stop-color="#101078"/><stop offset="0.9375" stop-color="#101078"/><stop offset="0.9688" stop-color="#101078"/><stop offset="1.0000" stop-color="#0b0b4a"/></linearGradient>
<linearGradient id="h3r8" x1="0" x2="1" y1="0" y2="0"><stop offset="0.0000" stop-color="#1a14a0"/><stop offset="0.0312" stop-color="#1a14a0"/><stop offset="0.0625" stop-color="#101078"/><stop offset="0.0938" stop-color="#0b0b4a"/><stop offset="0.1250" stop-color="#050508"/><stop offset="0.1562" stop-color="#050508"/><stop offset="0.1875" stop-color="#08082a"/><stop offset="0.2188" stop-color="#08082a"/><stop offset="0.2500" stop-color="#0b0b4a"/><stop offset="0.2812" stop-color="#0b0b4a"/><stop offset="0.3125" stop-color="#101078"/><stop offset="0.3438" stop-color="#101078"/><stop offset="0.3750" stop-color="#101078"/><stop offset="0.4062" stop-color="#1a14a0"/><stop offset="0.4375" stop-color="#1a14a0"/><stop offset="0.4688" stop-color="#1a14a0"/><stop offset="0.5000" stop-color="#101078"/><stop offset="0.5312" stop-color="#101078"/><stop offset="0.5625" stop-color="#1a14a0"/><stop offset="0.5938" stop-color="#1a14a0"/><stop offset="0.6250" stop-color="#050508"/><stop offset="0.6562" stop-color="#050508"/><stop offset="0.6875" stop-color="#050508"/><stop offset="0.7188" stop-color="#050508"/><stop offset="0.7500" stop-color="#050508"/><stop offset="0.7812" stop-color="#050508"/><stop offset="0.8125" stop-color="#050508"/><stop offset="0.8438" stop-color="#050508"/><stop offset="0.8750" stop-color="#050508"/><stop offset="0.9062" stop-color="#050508"/><stop offset="0.9375" stop-color="#050508"/><stop offset="0.9688" stop-color="#050508"/><stop offset="1.0000" stop-color="#050508"/></linearGradient>
<linearGradient id="h3r9" x1="0" x2="1" y1="0" y2="0"><stop offset="0.0000" stop-color="#0b0b4a"/><stop offset="0.0312" stop-color="#08082a"/><stop offset="0.0625" stop-color="#08082a"/><stop offset="0.0938" stop-color="#08082a"/><stop offset="0.1250" stop-color="#0b0b4a"/><stop offset="0.1562" stop-color="#101078"/><stop offset="0.1875" stop-color="#101078"/><stop offset="0.2188" stop-color="#101078"/><stop offset="0.2500" stop-color="#101078"/><stop offset="0.2812" stop-color="#101078"/><stop offset="0.3125" stop-color="#101078"/><stop offset="0.3438" stop-color="#101078"/><stop offset="0.3750" stop-color="#101078"/><stop offset="0.4062" stop-color="#1a14a0"/><stop offset="0.4375" stop-color="#1a14a0"/><stop offset="0.4688" stop-color="#2a18b8"/><stop offset="0.5000" stop-color="#2a18b8"/><stop offset="0.5312" stop-color="#2a18b8"/><stop offset="0.5625" stop-color="#2a18b8"/><stop offset="0.5938" stop-color="#2a18b8"/><stop offset="0.6250" stop-color="#1a14a0"/><stop offset="0.6562" stop-color="#1a14a0"/><stop offset="0.6875" stop-color="#1a14a0"/><stop offset="0.7188" stop-color="#101078"/><stop offset="0.7500" stop-color="#0b0b4a"/><stop offset="0.7812" stop-color="#101078"/><stop offset="0.8125" stop-color="#2a18b8"/><stop offset="0.8438" stop-color="#7a1fc0"/><stop offset="0.8750" stop-color="#4a1abc"/><stop offset="0.9062" stop-color="#2a18b8"/><stop offset="0.9375" stop-color="#2a18b8"/><stop offset="0.9688" stop-color="#2a18b8"/><stop offset="1.0000" stop-color="#4a1abc"/></linearGradient>
<linearGradient id="h3r10" x1="0" x2="1" y1="0" y2="0"><stop offset="0.0000" stop-color="#0b0b4a"/><stop offset="0.0312" stop-color="#0b0b4a"/><stop offset="0.0625" stop-color="#08082a"/><stop offset="0.0938" stop-color="#050508"/><stop offset="0.1250" stop-color="#08082a"/><stop offset="0.1562" stop-color="#0b0b4a"/><stop offset="0.1875" stop-color="#0b0b4a"/><stop offset="0.2188" stop-color="#0b0b4a"/><stop offset="0.2500" stop-color="#0b0b4a"/><stop offset="0.2812" stop-color="#101078"/><stop offset="0.3125" stop-color="#101078"/><stop offset="0.3438" stop-color="#1a14a0"/><stop offset="0.3750" stop-color="#1a14a0"/><stop offset="0.4062" stop-color="#1a14a0"/><stop offset="0.4375" stop-color="#101078"/><stop offset="0.4688" stop-color="#101078"/><stop offset="0.5000" stop-color="#101078"/><stop offset="0.5312" stop-color="#101078"/><stop offset="0.5625" stop-color="#101078"/><stop offset="0.5938" stop-color="#101078"/><stop offset="0.6250" stop-color="#101078"/><stop offset="0.6562" stop-color="#1a14a0"/><stop offset="0.6875" stop-color="#1a14a0"/><stop offset="0.7188" stop-color="#1a14a0"/><stop offset="0.7500" stop-color="#1a14a0"/><stop offset="0.7812" stop-color="#1a14a0"/><stop offset="0.8125" stop-color="#1a14a0"/><stop offset="0.8438" stop-color="#050508"/><stop offset="0.8750" stop-color="#050508"/><stop offset="0.9062" stop-color="#050508"/><stop offset="0.9375" stop-color="#050508"/><stop offset="0.9688" stop-color="#050508"/><stop offset="1.0000" stop-color="#050508"/></linearGradient>
<linearGradient id="h3r11" x1="0" x2="1" y1="0" y2="0"><stop offset="0.0000" stop-color="#0b0b4a"/><stop offset="0.0312" stop-color="#0b0b4a"/><stop offset="0.0625" stop-color="#0b0b4a"/><stop offset="0.0938" stop-color="#0b0b4a"/><stop offset="0.1250" stop-color="#0b0b4a"/><stop offset="0.1562" stop-color="#0b0b4a"/><stop offset="0.1875" stop-color="#0b0b4a"/><stop offset="0.2188" stop-color="#0b0b4a"/><stop offset="0.2500" stop-color="#101078"/><stop offset="0.2812" stop-color="#101078"/><stop offset="0.3125" stop-color="#101078"/><stop offset="0.3438" stop-color="#1a14a0"/><stop offset="0.3750" stop-color="#1a14a0"/><stop offset="0.4062" stop-color="#2a18b8"/><stop offset="0.4375" stop-color="#1a14a0"/><stop offset="0.4688" stop-color="#1a14a0"/><stop offset="0.5000" stop-color="#0b0b4a"/><stop offset="0.5312" stop-color="#08082a"/><stop offset="0.5625" stop-color="#08082a"/><stop offset="0.5938" stop-color="#0b0b4a"/><stop offset="0.6250" stop-color="#0b0b4a"/><stop offset="0.6562" stop-color="#08082a"/><stop offset="0.6875" stop-color="#08082a"/><stop offset="0.7188" stop-color="#08082a"/><stop offset="0.7500" stop-color="#08082a"/><stop offset="0.7812" stop-color="#08082a"/><stop offset="0.8125" stop-color="#08082a"/><stop offset="0.8438" stop-color="#0b0b4a"/><stop offset="0.8750" stop-color="#0b0b4a"/><stop offset="0.9062" stop-color="#08082a"/><stop offset="0.9375" stop-color="#08082a"/><stop offset="0.9688" stop-color="#0b0b4a"/><stop offset="1.0000" stop-color="#101078"/></linearGradient>
<linearGradient id="h3r12" x1="0" x2="1" y1="0" y2="0"><stop offset="0.0000" stop-color="#08082a"/><stop offset="0.0312" stop-color="#08082a"/><stop offset="0.0625" stop-color="#08082a"/><stop offset="0.0938" stop-color="#08082a"/><stop offset="0.1250" stop-color="#08082a"/><stop offset="0.1562" stop-color="#08082a"/><stop offset="0.1875" stop-color="#0b0b4a"/><stop offset="0.2188" stop-color="#101078"/><stop offset="0.2500" stop-color="#101078"/><stop offset="0.2812" stop-color="#101078"/><stop offset="0.3125" stop-color="#1a14a0"/><stop offset="0.3438" stop-color="#2a18b8"/><stop offset="0.3750" stop-color="#2a18b8"/><stop offset="0.4062" stop-color="#2a18b8"/><stop offset="0.4375" stop-color="#2a18b8"/><stop offset="0.4688" stop-color="#2a18b8"/><stop offset="0.5000" stop-color="#2a18b8"/><stop offset="0.5312" stop-color="#2a18b8"/><stop offset="0.5625" stop-color="#1a14a0"/><stop offset="0.5938" stop-color="#1a14a0"/><stop offset="0.6250" stop-color="#1a14a0"/><stop offset="0.6562" stop-color="#1a14a0"/><stop offset="0.6875" stop-color="#1a14a0"/><stop offset="0.7188" stop-color="#1a14a0"/><stop offset="0.7500" stop-color="#1a14a0"/><stop offset="0.7812" stop-color="#1a14a0"/><stop offset="0.8125" stop-color="#1a14a0"/><stop offset="0.8438" stop-color="#1a14a0"/><stop offset="0.8750" stop-color="#1a14a0"/><stop offset="0.9062" stop-color="#1a14a0"/><stop offset="0.9375" stop-color="#1a14a0"/><stop offset="0.9688" stop-color="#1a14a0"/><stop offset="1.0000" stop-color="#1a14a0"/></linearGradient>
<linearGradient id="h3r13" x1="0" x2="1" y1="0" y2="0"><stop offset="0.0000" stop-color="#1a14a0"/><stop offset="0.0312" stop-color="#101078"/><stop offset="0.0625" stop-color="#101078"/><stop offset="0.0938" stop-color="#0b0b4a"/><stop offset="0.1250" stop-color="#101078"/><stop offset="0.1562" stop-color="#101078"/><stop offset="0.1875" stop-color="#0b0b4a"/><stop offset="0.2188" stop-color="#0b0b4a"/><stop offset="0.2500" stop-color="#0b0b4a"/><stop offset="0.2812" stop-color="#08082a"/><stop offset="0.3125" stop-color="#08082a"/><stop offset="0.3438" stop-color="#050508"/><stop offset="0.3750" stop-color="#050508"/><stop offset="0.4062" stop-color="#050508"/><stop offset="0.4375" stop-color="#050508"/><stop offset="0.4688" stop-color="#08082a"/><stop offset="0.5000" stop-color="#101078"/><stop offset="0.5312" stop-color="#1a14a0"/><stop offset="0.5625" stop-color="#2a18b8"/><stop offset="0.5938" stop-color="#2a18b8"/><stop offset="0.6250" stop-color="#2a18b8"/><stop offset="0.6562" stop-color="#2a18b8"/><stop offset="0.6875" stop-color="#2a18b8"/><stop offset="0.7188" stop-color="#4a1abc"/><stop offset="0.7500" stop-color="#7a1fc0"/><stop offset="0.7812" stop-color="#7a1fc0"/><stop offset="0.8125" stop-color="#4a1abc"/><stop offset="0.8438" stop-color="#4a1abc"/><stop offset="0.8750" stop-color="#7a1fc0"/><stop offset="0.9062" stop-color="#4a1abc"/><stop offset="0.9375" stop-color="#2a18b8"/><stop offset="0.9688" stop-color="#2a18b8"/><stop offset="1.0000" stop-color="#050508"/></linearGradient>
<linearGradient id="h3r14" x1="0" x2="1" y1="0" y2="0"><stop offset="0.0000" stop-color="#101078"/><stop offset="0.0312" stop-color="#101078"/><stop offset="0.0625" stop-color="#101078"/><stop offset="0.0938" stop-color="#101078"/><stop offset="0.1250" stop-color="#101078"/><stop offset="0.1562" stop-color="#101078"/><stop offset="0.1875" stop-color="#1a14a0"/><stop offset="0.2188" stop-color="#1a14a0"/><stop offset="0.2500" stop-color="#0b0b4a"/><stop offset="0.2812" stop-color="#08082a"/><stop offset="0.3125" stop-color="#050508"/><stop offset="0.3438" stop-color="#050508"/><stop offset="0.3750" stop-color="#050508"/><stop offset="0.4062" stop-color="#050508"/><stop offset="0.4375" stop-color="#050508"/><stop offset="0.4688" stop-color="#050508"/><stop offset="0.5000" stop-color="#08082a"/><stop offset="0.5312" stop-color="#08082a"/><stop offset="0.5625" stop-color="#08082a"/><stop offset="0.5938" stop-color="#08082a"/><stop offset="0.6250" stop-color="#050508"/><stop offset="0.6562" stop-color="#050508"/><stop offset="0.6875" stop-color="#050508"/><stop offset="0.7188" stop-color="#050508"/><stop offset="0.7500" stop-color="#050508"/><stop offset="0.7812" stop-color="#050508"/><stop offset="0.8125" stop-color="#050508"/><stop offset="0.8438" stop-color="#050508"/><stop offset="0.8750" stop-color="#050508"/><stop offset="0.9062" stop-color="#050508"/><stop offset="0.9375" stop-color="#050508"/><stop offset="0.9688" stop-color="#050508"/><stop offset="1.0000" stop-color="#050508"/></linearGradient>
<linearGradient id="h3r15" x1="0" x2="1" y1="0" y2="0"><stop offset="0.0000" stop-color="#0b0b4a"/><stop offset="0.0312" stop-color="#0b0b4a"/><stop offset="0.0625" stop-color="#0b0b4a"/><stop offset="0.0938" stop-color="#0b0b4a"/><stop offset="0.1250" stop-color="#0b0b4a"/><stop offset="0.1562" stop-color="#0b0b4a"/><stop offset="0.1875" stop-color="#0b0b4a"/><stop offset="0.2188" stop-color="#0b0b4a"/><stop offset="0.2500" stop-color="#0b0b4a"/><stop offset="0.2812" stop-color="#101078"/><stop offset="0.3125" stop-color="#101078"/><stop offset="0.3438" stop-color="#101078"/><stop offset="0.3750" stop-color="#101078"/><stop offset="0.4062" stop-color="#101078"/><stop offset="0.4375" stop-color="#101078"/><stop offset="0.4688" stop-color="#0b0b4a"/><stop offset="0.5000" stop-color="#0b0b4a"/><stop offset="0.5312" stop-color="#08082a"/><stop offset="0.5625" stop-color="#08082a"/><stop offset="0.5938" stop-color="#0b0b4a"/><stop offset="0.6250" stop-color="#08082a"/><stop offset="0.6562" stop-color="#08082a"/><stop offset="0.6875" stop-color="#08082a"/><stop offset="0.7188" stop-color="#0b0b4a"/><stop offset="0.7500" stop-color="#0b0b4a"/><stop offset="0.7812" stop-color="#0b0b4a"/><stop offset="0.8125" stop-color="#101078"/><stop offset="0.8438" stop-color="#0b0b4a"/><stop offset="0.8750" stop-color="#08082a"/><stop offset="0.9062" stop-color="#08082a"/><stop offset="0.9375" stop-color="#050508"/><stop offset="0.9688" stop-color="#050508"/><stop offset="1.0000" stop-color="#050508"/></linearGradient>
</defs>
<rect x="1621.0" y="380.2" width="318.20000000000005" height="207.40000000000003" fill="#06061a" />
<rect x="1622.0" y="379.90" width="316.20000000000005" height="13.30" fill="url(#h3r0)" />
<rect x="1622.0" y="392.90" width="316.20000000000005" height="13.30" fill="url(#h3r1)" />
<rect x="1622.0" y="405.90" width="316.20000000000005" height="13.30" fill="url(#h3r2)" />
<rect x="1622.0" y="418.90" width="316.20000000000005" height="13.30" fill="url(#h3r3)" />
<rect x="1798.9" y="418.90" width="139.3" height="13.30" fill="#050506" />
<rect x="1622.0" y="431.90" width="316.20000000000005" height="13.30" fill="url(#h3r4)" />
<rect x="1880.9" y="431.90" width="57.3" height="13.30" fill="#050506" />
<rect x="1622.0" y="444.90" width="316.20000000000005" height="13.30" fill="url(#h3r5)" />
<rect x="1805.8" y="444.90" width="132.4" height="13.30" fill="#050506" />
<rect x="1622.0" y="457.90" width="316.20000000000005" height="13.30" fill="url(#h3r6)" />
<rect x="1622.0" y="470.90" width="316.20000000000005" height="13.30" fill="url(#h3r7)" />
<rect x="1622.0" y="483.90" width="316.20000000000005" height="13.30" fill="url(#h3r8)" />
<rect x="1811.7" y="483.90" width="126.5" height="13.30" fill="#050506" />
<rect x="1622.0" y="496.90" width="316.20000000000005" height="13.30" fill="url(#h3r9)" />
<rect x="1622.0" y="509.90" width="316.20000000000005" height="13.30" fill="url(#h3r10)" />
<rect x="1884.8" y="509.90" width="53.4" height="13.30" fill="#050506" />
<rect x="1622.0" y="522.90" width="316.20000000000005" height="13.30" fill="url(#h3r11)" />
<rect x="1622.0" y="535.90" width="316.20000000000005" height="13.30" fill="url(#h3r12)" />
<rect x="1622.0" y="548.90" width="316.20000000000005" height="13.30" fill="url(#h3r13)" />
<rect x="1934.2" y="548.90" width="4.0" height="13.30" fill="#050506" />
<rect x="1622.0" y="561.90" width="316.20000000000005" height="13.30" fill="url(#h3r14)" />
<rect x="1622.0" y="574.90" width="316.20000000000005" height="13.30" fill="url(#h3r15)" />
<rect x="1915.5" y="574.90" width="22.7" height="13.30" fill="#050506" />
<rect x="1621.0" y="380.4" width="318.20000000000005" height="207.10000000000002" fill="none" stroke="#050505" stroke-width="2.3"/>
<line x1="1740.6" y1="382.2" x2="1740.6" y2="586.5" stroke="#ff1f2e" stroke-width="2.2" stroke-dasharray="6 7"/>
<text x="1607.8" y="400.3" font-size="29.5" font-weight="bold" fill="#141414" text-anchor="middle" stroke="#141414" stroke-width="0.4" stroke-linejoin="round" >1</text>
<text x="1607.8" y="427.2" font-size="29.5" font-weight="bold" fill="#141414" text-anchor="middle" stroke="#141414" stroke-width="0.4" stroke-linejoin="round" >2</text>
<text x="1607.8" y="454.1" font-size="29.5" font-weight="bold" fill="#141414" text-anchor="middle" stroke="#141414" stroke-width="0.4" stroke-linejoin="round" >3</text>
<text x="1607.8" y="481.0" font-size="29.5" font-weight="bold" fill="#141414" text-anchor="middle" stroke="#141414" stroke-width="0.4" stroke-linejoin="round" >4</text>
<text x="1607.8" y="507.9" font-size="29.5" font-weight="bold" fill="#141414" text-anchor="middle" stroke="#141414" stroke-width="0.4" stroke-linejoin="round" >5</text>
<text x="1607.8" y="534.8" font-size="29.5" font-weight="bold" fill="#141414" text-anchor="middle" stroke="#141414" stroke-width="0.4" stroke-linejoin="round" >6</text>
<text x="1607.8" y="561.7" font-size="29.5" font-weight="bold" fill="#141414" text-anchor="middle" stroke="#141414" stroke-width="0.4" stroke-linejoin="round" >7</text>
<text x="1607.8" y="588.6" font-size="29.5" font-weight="bold" fill="#141414" text-anchor="middle" stroke="#141414" stroke-width="0.4" stroke-linejoin="round" >8</text>
<text x="1949.4" y="386.5" font-size="17.2" font-weight="normal" fill="#141414" textLength="30" lengthAdjust="spacingAndGlyphs" >First</text>
<text x="1949.4" y="400.1" font-size="17.2" font-weight="normal" fill="#141414" textLength="45.5" lengthAdjust="spacingAndGlyphs" >Others</text>
<text x="1949.4" y="413.7" font-size="17.2" font-weight="normal" fill="#141414" textLength="30" lengthAdjust="spacingAndGlyphs" >First</text>
<text x="1949.4" y="427.3" font-size="17.2" font-weight="normal" fill="#141414" textLength="45.5" lengthAdjust="spacingAndGlyphs" >Others</text>
<text x="1949.4" y="440.9" font-size="17.2" font-weight="normal" fill="#141414" textLength="30" lengthAdjust="spacingAndGlyphs" >First</text>
<text x="1949.4" y="454.5" font-size="17.2" font-weight="normal" fill="#141414" textLength="45.5" lengthAdjust="spacingAndGlyphs" >Others</text>
<text x="1949.4" y="468.1" font-size="17.2" font-weight="normal" fill="#141414" textLength="30" lengthAdjust="spacingAndGlyphs" >First</text>
<text x="1949.4" y="481.7" font-size="17.2" font-weight="normal" fill="#141414" textLength="45.5" lengthAdjust="spacingAndGlyphs" >Others</text>
<text x="1949.4" y="495.3" font-size="17.2" font-weight="normal" fill="#141414" textLength="30" lengthAdjust="spacingAndGlyphs" >First</text>
<text x="1949.4" y="508.9" font-size="17.2" font-weight="normal" fill="#141414" textLength="45.5" lengthAdjust="spacingAndGlyphs" >Others</text>
<text x="1949.4" y="522.5" font-size="17.2" font-weight="normal" fill="#141414" textLength="30" lengthAdjust="spacingAndGlyphs" >First</text>
<text x="1949.4" y="536.1" font-size="17.2" font-weight="normal" fill="#141414" textLength="45.5" lengthAdjust="spacingAndGlyphs" >Others</text>
<text x="1949.4" y="549.7" font-size="17.2" font-weight="normal" fill="#141414" textLength="30" lengthAdjust="spacingAndGlyphs" >First</text>
<text x="1949.4" y="563.3" font-size="17.2" font-weight="normal" fill="#141414" textLength="45.5" lengthAdjust="spacingAndGlyphs" >Others</text>
<text x="1949.4" y="576.9" font-size="17.2" font-weight="normal" fill="#141414" textLength="30" lengthAdjust="spacingAndGlyphs" >First</text>
<text x="1949.4" y="590.5" font-size="17.2" font-weight="normal" fill="#141414" textLength="45.5" lengthAdjust="spacingAndGlyphs" >Others</text>
<text x="1759.2" y="359.4" font-size="34" font-weight="bold" fill="#141414" textLength="95.4" lengthAdjust="spacingAndGlyphs" stroke="#141414" stroke-width="0.6" stroke-linejoin="round" >Day 3</text>
<text x="1583.7" y="369.2" font-size="28.6" font-weight="bold" fill="#141414" textLength="123" lengthAdjust="spacingAndGlyphs" stroke="#141414" stroke-width="0.6" stroke-linejoin="round" >Animal #</text>
<text x="1619.3" y="619.2" font-size="29.5" font-weight="bold" fill="#141414" text-anchor="middle" stroke="#141414" stroke-width="0.3" stroke-linejoin="round" >-3</text>
<text x="1743.5" y="619.2" font-size="29.5" font-weight="bold" fill="#141414" text-anchor="middle" stroke="#141414" stroke-width="0.3" stroke-linejoin="round" >0</text>
<text x="1940.4" y="619.2" font-size="29.5" font-weight="bold" fill="#141414" text-anchor="middle" stroke="#141414" stroke-width="0.3" stroke-linejoin="round" >5</text>
<text x="1749.3" y="646" font-size="27.3" font-weight="bold" fill="#141414" textLength="112" lengthAdjust="spacingAndGlyphs" stroke="#141414" stroke-width="0.3" stroke-linejoin="round" >Time (s)</text>
<line x1="849.232" y1="903.2" x2="1098.72" y2="903.2" stroke="#111" stroke-width="1.3" stroke-dasharray="1.3 2.2"/>
<line x1="776.8" y1="662.6999999999999" x2="776.8" y2="952.5" stroke="#111" stroke-width="2.0" />
<line x1="775.8" y1="951.4" x2="1099.82" y2="951.4" stroke="#111" stroke-width="2.2" />
<line x1="770.8" y1="662.9" x2="776.8" y2="662.9" stroke="#111" stroke-width="2.2" />
<text x="769.5999999999999" y="672.6" font-size="27" font-weight="bold" fill="#141414" text-anchor="end" textLength="27" lengthAdjust="spacingAndGlyphs" stroke="#141414" stroke-width="0.35" stroke-linejoin="round" >15</text>
<line x1="770.8" y1="711.0" x2="776.8" y2="711.0" stroke="#111" stroke-width="2.2" />
<text x="769.5999999999999" y="720.7" font-size="27" font-weight="bold" fill="#141414" text-anchor="end" textLength="27" lengthAdjust="spacingAndGlyphs" stroke="#141414" stroke-width="0.35" stroke-linejoin="round" >12</text>
<line x1="770.8" y1="759.0" x2="776.8" y2="759.0" stroke="#111" stroke-width="2.2" />
<text x="769.5999999999999" y="768.7" font-size="27" font-weight="bold" fill="#141414" text-anchor="end" textLength="13.5" lengthAdjust="spacingAndGlyphs" stroke="#141414" stroke-width="0.35" stroke-linejoin="round" >9</text>
<line x1="770.8" y1="807.1" x2="776.8" y2="807.1" stroke="#111" stroke-width="2.2" />
<text x="769.5999999999999" y="816.8" font-size="27" font-weight="bold" fill="#141414" text-anchor="end" textLength="13.5" lengthAdjust="spacingAndGlyphs" stroke="#141414" stroke-width="0.35" stroke-linejoin="round" >6</text>
<line x1="770.8" y1="855.1" x2="776.8" y2="855.1" stroke="#111" stroke-width="2.2" />
<text x="769.5999999999999" y="864.8" font-size="27" font-weight="bold" fill="#141414" text-anchor="end" textLength="13.5" lengthAdjust="spacingAndGlyphs" stroke="#141414" stroke-width="0.35" stroke-linejoin="round" >3</text>
<line x1="770.8" y1="903.2" x2="776.8" y2="903.2" stroke="#111" stroke-width="2.2" />
<text x="769.5999999999999" y="912.9" font-size="27" font-weight="bold" fill="#141414" text-anchor="end" textLength="13.5" lengthAdjust="spacingAndGlyphs" stroke="#141414" stroke-width="0.35" stroke-linejoin="round" >0</text>
<line x1="770.8" y1="951.3" x2="776.8" y2="951.3" stroke="#111" stroke-width="2.2" />
<text x="769.5999999999999" y="961.0" font-size="27" font-weight="bold" fill="#141414" text-anchor="end" textLength="22" lengthAdjust="spacingAndGlyphs" stroke="#141414" stroke-width="0.35" stroke-linejoin="round" >-3</text>
<line x1="776.8" y1="951.4" x2="776.8" y2="957.9" stroke="#111" stroke-width="2.2" />
<text x="776.8" y="985.2" font-size="27" font-weight="bold" fill="#141414" text-anchor="middle" textLength="22" lengthAdjust="spacingAndGlyphs" stroke="#141414" stroke-width="0.35" stroke-linejoin="round" >-3</text>
<line x1="817.0" y1="951.4" x2="817.0" y2="957.9" stroke="#111" stroke-width="2.2" />
<text x="817.0" y="985.2" font-size="27" font-weight="bold" fill="#141414" text-anchor="middle" textLength="22" lengthAdjust="spacingAndGlyphs" stroke="#141414" stroke-width="0.35" stroke-linejoin="round" >-2</text>
<line x1="857.3" y1="951.4" x2="857.3" y2="957.9" stroke="#111" stroke-width="2.2" />
<text x="857.3" y="985.2" font-size="27" font-weight="bold" fill="#141414" text-anchor="middle" textLength="22" lengthAdjust="spacingAndGlyphs" stroke="#141414" stroke-width="0.35" stroke-linejoin="round" >-1</text>
<line x1="897.5" y1="951.4" x2="897.5" y2="957.9" stroke="#111" stroke-width="2.2" />
<text x="897.5" y="985.2" font-size="27" font-weight="bold" fill="#141414" text-anchor="middle" textLength="13.5" lengthAdjust="spacingAndGlyphs" stroke="#141414" stroke-width="0.35" stroke-linejoin="round" >0</text>
<line x1="937.8" y1="951.4" x2="937.8" y2="957.9" stroke="#111" stroke-width="2.2" />
<text x="937.8" y="985.2" font-size="27" font-weight="bold" fill="#141414" text-anchor="middle" textLength="13.5" lengthAdjust="spacingAndGlyphs" stroke="#141414" stroke-width="0.35" stroke-linejoin="round" >1</text>
<line x1="978.0" y1="951.4" x2="978.0" y2="957.9" stroke="#111" stroke-width="2.2" />
<text x="978.0" y="985.2" font-size="27" font-weight="bold" fill="#141414" text-anchor="middle" textLength="13.5" lengthAdjust="spacingAndGlyphs" stroke="#141414" stroke-width="0.35" stroke-linejoin="round" >2</text>
<line x1="1018.2" y1="951.4" x2="1018.2" y2="957.9" stroke="#111" stroke-width="2.2" />
<text x="1018.2" y="985.2" font-size="27" font-weight="bold" fill="#141414" text-anchor="middle" textLength="13.5" lengthAdjust="spacingAndGlyphs" stroke="#141414" stroke-width="0.35" stroke-linejoin="round" >3</text>
<line x1="1058.5" y1="951.4" x2="1058.5" y2="957.9" stroke="#111" stroke-width="2.2" />
<text x="1058.5" y="985.2" font-size="27" font-weight="bold" fill="#141414" text-anchor="middle" textLength="13.5" lengthAdjust="spacingAndGlyphs" stroke="#141414" stroke-width="0.35" stroke-linejoin="round" >4</text>
<line x1="1098.7" y1="951.4" x2="1098.7" y2="957.9" stroke="#111" stroke-width="2.2" />
<text x="1098.7" y="985.2" font-size="27" font-weight="bold" fill="#141414" text-anchor="middle" textLength="13.5" lengthAdjust="spacingAndGlyphs" stroke="#141414" stroke-width="0.35" stroke-linejoin="round" >5</text>
<line x1="897.5" y1="697" x2="897.5" y2="951.4" stroke="#f27872" stroke-width="1.8" stroke-dasharray="6 1.4"/>
<line x1="787.1999999999999" y1="667.8" x2="803.1999999999999" y2="667.8" stroke="#9c3fd2" stroke-width="5" />
<line x1="787.1999999999999" y1="689.6" x2="803.1999999999999" y2="689.6" stroke="#ff3fc6" stroke-width="5" />
<text x="809.1999999999999" y="676.3" font-size="25.5" font-weight="bold" fill="#141414" textLength="46.5" lengthAdjust="spacingAndGlyphs" stroke="#141414" stroke-width="0.3" stroke-linejoin="round" >First</text>
<text x="808.4" y="698" font-size="25.5" font-weight="bold" fill="#141414" textLength="69" lengthAdjust="spacingAndGlyphs" stroke="#141414" stroke-width="0.3" stroke-linejoin="round" >Others</text>
<text x="743.2" y="1021.2" font-size="28" font-weight="bold" fill="#141414" stroke="#141414" stroke-width="0.3" textLength="389" lengthAdjust="spacingAndGlyphs">Time from investigation <tspan fill="#2ee83c" stroke="#2ee83c">onset</tspan> (s)</text>
<text x="727.1" y="849.5" font-size="35" font-weight="bold" fill="#141414" textLength="129" lengthAdjust="spacingAndGlyphs" transform="rotate(-90 727.1 849.5)" stroke="#141414" stroke-width="0.4" stroke-linejoin="round" >Z-score</text>
<path d="M776.8,899.7 L796.9,902.1 L809.0,904.5 L825.1,902.9 L841.2,903.7 L853.3,905.3 L863.3,903.2 L877.4,899.0 L887.5,893.3 L897.5,885.6 L907.6,876.4 L917.6,868.1 L927.7,865.4 L937.8,863.8 L947.8,867.0 L957.9,871.8 L970.0,874.2 L978.0,873.4 L990.1,872.6 L1002.1,870.2 L1002.9,872.6 L1004.2,870.2 L1018.2,871.8 L1034.3,870.2 L1036.3,861.7 L1050.4,864.9 L1066.5,868.1 L1072.6,869.7 L1074.6,865.7 L1090.7,865.7 L1096.7,862.5 L1098.7,862.5 L1098.7,887.2 L1096.7,887.2 L1090.7,890.4 L1074.6,890.4 L1072.6,894.4 L1066.5,892.8 L1050.4,889.6 L1036.3,886.4 L1034.3,889.6 L1018.2,891.2 L1004.2,889.6 L1002.9,892.0 L1002.1,889.6 L990.1,883.2 L978.0,884.0 L970.0,884.8 L957.9,882.4 L947.8,877.6 L937.8,874.4 L927.7,876.0 L917.6,878.7 L907.6,880.3 L897.5,889.4 L887.5,897.1 L877.4,902.9 L863.3,907.0 L853.3,909.1 L841.2,907.5 L825.1,906.7 L809.0,908.3 L796.9,905.9 L776.8,903.5Z" stroke="none" stroke-width="1" fill="#f8d3dd" />
<path d="M776.8,896.0 L788.9,889.6 L800.9,892.0 L817.0,888.8 L837.2,902.4 L849.2,908.0 L873.4,904.8 L889.5,912.0 L897.5,912.8 L909.6,898.4 L917.6,871.2 L925.7,831.1 L933.7,794.3 L941.8,776.6 L947.8,768.6 L957.9,767.0 L970.0,763.8 L978.0,752.6 L990.1,744.6 L998.1,751.0 L1006.2,747.8 L1018.2,730.2 L1028.3,719.0 L1038.4,727.0 L1044.4,731.8 L1054.5,720.6 L1066.5,711.0 L1078.6,707.8 L1090.7,709.4 L1098.7,714.2 L1098.7,797.5 L1086.6,791.1 L1074.6,783.1 L1062.5,779.8 L1054.5,787.9 L1044.4,795.1 L1038.4,793.5 L1028.3,786.3 L1018.2,797.5 L1006.2,813.5 L998.1,818.3 L990.1,819.9 L978.0,823.1 L970.0,825.5 L957.9,829.5 L949.8,831.1 L941.8,840.7 L933.7,856.7 L925.7,880.8 L917.6,900.0 L909.6,911.2 L897.5,920.8 L889.5,920.0 L873.4,912.0 L849.2,915.2 L837.2,910.4 L817.0,896.8 L800.9,900.0 L788.9,897.6 L776.8,902.4Z" stroke="none" stroke-width="1" fill="#f0c2f6" />
<path d="M776.8,901.6 L796.9,904.0 L809.0,906.4 L825.1,904.8 L841.2,905.6 L853.3,907.2 L863.3,905.1 L877.4,901.0 L887.5,895.2 L897.5,887.5 L907.6,878.4 L917.6,873.9 L927.7,871.2 L937.8,869.6 L947.8,872.8 L957.9,877.6 L970.0,880.0 L978.0,879.2 L990.1,878.4 L1002.1,880.8 L1002.9,883.2 L1004.2,880.8 L1018.2,882.4 L1034.3,880.8 L1036.3,875.2 L1050.4,878.4 L1066.5,881.6 L1072.6,883.2 L1074.6,879.2 L1090.7,879.2 L1096.7,876.0 L1098.7,876.0" stroke="#ff3fc6" stroke-width="1.5" fill="none" stroke-linejoin="round"/>
<path d="M776.8,899.2 L788.9,893.6 L800.9,896.0 L817.0,892.8 L825.1,894.4 L837.2,906.4 L849.2,911.2 L857.3,911.2 L865.3,908.8 L873.4,908.0 L881.4,911.2 L889.5,916.0 L897.5,916.8 L903.6,914.4 L909.6,904.8 L917.6,887.2 L925.7,855.1 L933.7,826.3 L941.8,808.7 L949.8,800.7 L957.9,798.3 L970.0,794.3 L978.0,787.9 L986.0,783.1 L992.1,781.4 L998.1,784.7 L1006.2,781.4 L1018.2,763.8 L1026.3,754.2 L1030.3,751.8 L1038.4,759.0 L1044.4,763.8 L1050.4,759.0 L1058.5,749.4 L1066.5,747.0 L1074.6,746.2 L1082.6,747.8 L1090.7,751.0 L1098.7,755.8" stroke="#9c3fd2" stroke-width="1.6" fill="none" stroke-linejoin="round"/>
<rect x="802" y="718.4" width="92.5" height="54.6" fill="#f4f7f6" />
<path d="M858.5,732.2 L887.3,732.2 L887.3,765.2 L877.7,770 L862,768.8 L851.5,761.6 L851.5,741.2Z" stroke="#b04a58" stroke-width="1.1" fill="#f6d7db" />
<g transform="translate(812.5,753.5)" opacity="0.95">
<path d="M-1,-3 C-7,-6 -10,-12 -13,-17" stroke="#d3a2a8" stroke-width="1.0" fill="none" />
<path d="M0,0 C-2.5,-8 5,-13 13,-12 C17,-15 21.5,-13.5 23.5,-10.5 C26,-9.5 28,-7.5 27.5,-5.8 C26,-4.2 23,-3.6 20.5,-3 L19.5,0.5 L17,0.5 L16.5,-2 L8.5,-1.2 L7.5,1.3 L4.5,1.3 L4.5,-0.8 Z" stroke="none" stroke-width="1" fill="#b9c2c1" />
<path d="M4.5,1 L2.5,3 M17,0.5 L15.5,2.6" stroke="#d3a2a8" stroke-width="0.9" fill="none" />
</g>
<g transform="translate(825,752.5)" opacity="0.95">
<path d="M-1,-3 C-7,-6 -10,-12 -13,-17" stroke="#cf9299" stroke-width="1.0" fill="none" />
<path d="M0,0 C-2.5,-8 5,-13 13,-12 C17,-15 21.5,-13.5 23.5,-10.5 C26,-9.5 28,-7.5 27.5,-5.8 C26,-4.2 23,-3.6 20.5,-3 L19.5,0.5 L17,0.5 L16.5,-2 L8.5,-1.2 L7.5,1.3 L4.5,1.3 L4.5,-0.8 Z" stroke="none" stroke-width="1" fill="#8d9695" />
<path d="M4.5,1 L2.5,3 M17,0.5 L15.5,2.6" stroke="#cf9299" stroke-width="0.9" fill="none" />
</g>
<g transform="translate(837.5,752)" opacity="1">
<path d="M-1,-3 C-7,-6 -10,-12 -13,-17" stroke="#c57f88" stroke-width="1.0" fill="none" />
<path d="M0,0 C-2.5,-8 5,-13 13,-12 C17,-15 21.5,-13.5 23.5,-10.5 C26,-9.5 28,-7.5 27.5,-5.8 C26,-4.2 23,-3.6 20.5,-3 L19.5,0.5 L17,0.5 L16.5,-2 L8.5,-1.2 L7.5,1.3 L4.5,1.3 L4.5,-0.8 Z" stroke="none" stroke-width="1" fill="#3e3f3e" />
<path d="M4.5,1 L2.5,3 M17,0.5 L15.5,2.6" stroke="#c57f88" stroke-width="0.9" fill="none" />
</g>
<ellipse cx="856.8" cy="742.6" rx="1.1" ry="1.7" fill="#d28c92"/>
<defs><linearGradient id="garr" x1="0" x2="1"><stop offset="0" stop-color="#5fe04a" stop-opacity="0"/><stop offset="0.35" stop-color="#5fe04a" stop-opacity="0.9"/><stop offset="1" stop-color="#4cd83a"/></linearGradient></defs>
<path d="M813.5,718.6 C826,718.2 838,720.6 847,723.4 L846,720.8 L856.2,729.2 L846.6,732.8 L846.4,729.8 C836,727.2 825,724.6 813.5,722.8Z" stroke="none" stroke-width="1" fill="url(#garr)" />
<rect x="865.8000000000001" y="721" width="20.8" height="33.5" fill="#e2ecec" opacity="0.85"/>
<ellipse cx="876.2" cy="754.4" rx="11.3" ry="3" fill="#5d7b7d"/>
<ellipse cx="876.2" cy="753.3" rx="9.5" ry="1.9" fill="#4a6669"/>
<path d="M870.7,734.5 C872.7,732 875.2,734 876.2,738 C879.2,743 881.2,749 880.2,753.5 L875.7,753.8 C875.7,747 871.7,741 870.7,734.5Z" stroke="none" stroke-width="1" fill="#5a534d" />
<path d="M879.2,753.6 C884.2,755.5 888.2,755 892.2,755.4" stroke="#c58c90" stroke-width="0.8" fill="none" />
<line x1="867.7" y1="722" x2="867.7" y2="754" stroke="#587a7d" stroke-width="0.8" />
<line x1="866.9" y1="722" x2="866.9" y2="754" stroke="#8fb0af" stroke-width="1.3" />
<line x1="871.4" y1="722" x2="871.4" y2="754" stroke="#587a7d" stroke-width="0.8" />
<line x1="870.6" y1="722" x2="870.6" y2="754" stroke="#8fb0af" stroke-width="1.3" />
<line x1="875.1" y1="722" x2="875.1" y2="754" stroke="#587a7d" stroke-width="0.8" />
<line x1="874.3" y1="722" x2="874.3" y2="754" stroke="#8fb0af" stroke-width="1.3" />
<line x1="878.9" y1="722" x2="878.9" y2="754" stroke="#587a7d" stroke-width="0.8" />
<line x1="878.1" y1="722" x2="878.1" y2="754" stroke="#8fb0af" stroke-width="1.3" />
<line x1="882.6" y1="722" x2="882.6" y2="754" stroke="#587a7d" stroke-width="0.8" />
<line x1="881.8" y1="722" x2="881.8" y2="754" stroke="#8fb0af" stroke-width="1.3" />
<line x1="886.3" y1="722" x2="886.3" y2="754" stroke="#587a7d" stroke-width="0.8" />
<line x1="885.5" y1="722" x2="885.5" y2="754" stroke="#8fb0af" stroke-width="1.3" />
<rect x="864.2" y="718.2" width="24" height="3.9" fill="#6a8a8c" rx="1.6"/>
<line x1="1273.654" y1="903.2" x2="1521.84" y2="903.2" stroke="#111" stroke-width="1.3" stroke-dasharray="1.3 2.2"/>
<line x1="1201.6" y1="662.6999999999999" x2="1201.6" y2="952.5" stroke="#111" stroke-width="2.0" />
<line x1="1200.6" y1="951.4" x2="1522.9399999999998" y2="951.4" stroke="#111" stroke-width="2.2" />
<line x1="1195.6" y1="662.9" x2="1201.6" y2="662.9" stroke="#111" stroke-width="2.2" />
<text x="1194.3999999999999" y="672.6" font-size="27" font-weight="bold" fill="#141414" text-anchor="end" textLength="27" lengthAdjust="spacingAndGlyphs" stroke="#141414" stroke-width="0.35" stroke-linejoin="round" >15</text>
<line x1="1195.6" y1="711.0" x2="1201.6" y2="711.0" stroke="#111" stroke-width="2.2" />
<text x="1194.3999999999999" y="720.7" font-size="27" font-weight="bold" fill="#141414" text-anchor="end" textLength="27" lengthAdjust="spacingAndGlyphs" stroke="#141414" stroke-width="0.35" stroke-linejoin="round" >12</text>
<line x1="1195.6" y1="759.0" x2="1201.6" y2="759.0" stroke="#111" stroke-width="2.2" />
<text x="1194.3999999999999" y="768.7" font-size="27" font-weight="bold" fill="#141414" text-anchor="end" textLength="13.5" lengthAdjust="spacingAndGlyphs" stroke="#141414" stroke-width="0.35" stroke-linejoin="round" >9</text>
<line x1="1195.6" y1="807.1" x2="1201.6" y2="807.1" stroke="#111" stroke-width="2.2" />
<text x="1194.3999999999999" y="816.8" font-size="27" font-weight="bold" fill="#141414" text-anchor="end" textLength="13.5" lengthAdjust="spacingAndGlyphs" stroke="#141414" stroke-width="0.35" stroke-linejoin="round" >6</text>
<line x1="1195.6" y1="855.1" x2="1201.6" y2="855.1" stroke="#111" stroke-width="2.2" />
<text x="1194.3999999999999" y="864.8" font-size="27" font-weight="bold" fill="#141414" text-anchor="end" textLength="13.5" lengthAdjust="spacingAndGlyphs" stroke="#141414" stroke-width="0.35" stroke-linejoin="round" >3</text>
<line x1="1195.6" y1="903.2" x2="1201.6" y2="903.2" stroke="#111" stroke-width="2.2" />
<text x="1194.3999999999999" y="912.9" font-size="27" font-weight="bold" fill="#141414" text-anchor="end" textLength="13.5" lengthAdjust="spacingAndGlyphs" stroke="#141414" stroke-width="0.35" stroke-linejoin="round" >0</text>
<line x1="1195.6" y1="951.3" x2="1201.6" y2="951.3" stroke="#111" stroke-width="2.2" />
<text x="1194.3999999999999" y="961.0" font-size="27" font-weight="bold" fill="#141414" text-anchor="end" textLength="22" lengthAdjust="spacingAndGlyphs" stroke="#141414" stroke-width="0.35" stroke-linejoin="round" >-3</text>
<line x1="1201.6" y1="951.4" x2="1201.6" y2="957.9" stroke="#111" stroke-width="2.2" />
<text x="1201.6" y="985.2" font-size="27" font-weight="bold" fill="#141414" text-anchor="middle" textLength="22" lengthAdjust="spacingAndGlyphs" stroke="#141414" stroke-width="0.35" stroke-linejoin="round" >-3</text>
<line x1="1241.6" y1="951.4" x2="1241.6" y2="957.9" stroke="#111" stroke-width="2.2" />
<text x="1241.6" y="985.2" font-size="27" font-weight="bold" fill="#141414" text-anchor="middle" textLength="22" lengthAdjust="spacingAndGlyphs" stroke="#141414" stroke-width="0.35" stroke-linejoin="round" >-2</text>
<line x1="1281.7" y1="951.4" x2="1281.7" y2="957.9" stroke="#111" stroke-width="2.2" />
<text x="1281.7" y="985.2" font-size="27" font-weight="bold" fill="#141414" text-anchor="middle" textLength="22" lengthAdjust="spacingAndGlyphs" stroke="#141414" stroke-width="0.35" stroke-linejoin="round" >-1</text>
<line x1="1321.7" y1="951.4" x2="1321.7" y2="957.9" stroke="#111" stroke-width="2.2" />
<text x="1321.7" y="985.2" font-size="27" font-weight="bold" fill="#141414" text-anchor="middle" textLength="13.5" lengthAdjust="spacingAndGlyphs" stroke="#141414" stroke-width="0.35" stroke-linejoin="round" >0</text>
<line x1="1361.7" y1="951.4" x2="1361.7" y2="957.9" stroke="#111" stroke-width="2.2" />
<text x="1361.7" y="985.2" font-size="27" font-weight="bold" fill="#141414" text-anchor="middle" textLength="13.5" lengthAdjust="spacingAndGlyphs" stroke="#141414" stroke-width="0.35" stroke-linejoin="round" >1</text>
<line x1="1401.8" y1="951.4" x2="1401.8" y2="957.9" stroke="#111" stroke-width="2.2" />
<text x="1401.8" y="985.2" font-size="27" font-weight="bold" fill="#141414" text-anchor="middle" textLength="13.5" lengthAdjust="spacingAndGlyphs" stroke="#141414" stroke-width="0.35" stroke-linejoin="round" >2</text>
<line x1="1441.8" y1="951.4" x2="1441.8" y2="957.9" stroke="#111" stroke-width="2.2" />
<text x="1441.8" y="985.2" font-size="27" font-weight="bold" fill="#141414" text-anchor="middle" textLength="13.5" lengthAdjust="spacingAndGlyphs" stroke="#141414" stroke-width="0.35" stroke-linejoin="round" >3</text>
<line x1="1481.8" y1="951.4" x2="1481.8" y2="957.9" stroke="#111" stroke-width="2.2" />
<text x="1481.8" y="985.2" font-size="27" font-weight="bold" fill="#141414" text-anchor="middle" textLength="13.5" lengthAdjust="spacingAndGlyphs" stroke="#141414" stroke-width="0.35" stroke-linejoin="round" >4</text>
<line x1="1521.8" y1="951.4" x2="1521.8" y2="957.9" stroke="#111" stroke-width="2.2" />
<text x="1521.8" y="985.2" font-size="27" font-weight="bold" fill="#141414" text-anchor="middle" textLength="13.5" lengthAdjust="spacingAndGlyphs" stroke="#141414" stroke-width="0.35" stroke-linejoin="round" >5</text>
<line x1="1321.7" y1="697" x2="1321.7" y2="951.4" stroke="#f27872" stroke-width="1.8" stroke-dasharray="6 1.4"/>
<line x1="1212.0" y1="667.8" x2="1228.0" y2="667.8" stroke="#2b8c9b" stroke-width="5" />
<line x1="1212.0" y1="689.6" x2="1228.0" y2="689.6" stroke="#3fe150" stroke-width="5" />
<text x="1234.0" y="676.3" font-size="25.5" font-weight="bold" fill="#141414" textLength="46.5" lengthAdjust="spacingAndGlyphs" stroke="#141414" stroke-width="0.3" stroke-linejoin="round" >First</text>
<text x="1233.1999999999998" y="698" font-size="25.5" font-weight="bold" fill="#141414" textLength="69" lengthAdjust="spacingAndGlyphs" stroke="#141414" stroke-width="0.3" stroke-linejoin="round" >Others</text>
<text x="1167.8" y="1021.2" font-size="28" font-weight="bold" fill="#141414" stroke="#141414" stroke-width="0.3" textLength="389" lengthAdjust="spacingAndGlyphs">Time from investigation <tspan fill="#2ee83c" stroke="#2ee83c">onset</tspan> (s)</text>
<text x="1151.6" y="849.5" font-size="35" font-weight="bold" fill="#141414" textLength="129" lengthAdjust="spacingAndGlyphs" transform="rotate(-90 1151.6 849.5)" stroke="#141414" stroke-width="0.4" stroke-linejoin="round" >Z-score</text>
<path d="M1201.6,905.6 L1209.6,909.6 L1221.6,904.8 L1233.6,900.0 L1241.6,900.0 L1257.6,905.6 L1269.7,908.8 L1277.7,905.6 L1285.7,898.4 L1297.7,891.2 L1305.7,884.0 L1321.7,876.8 L1333.7,871.2 L1341.7,855.1 L1347.7,845.5 L1361.7,848.7 L1381.7,840.7 L1401.8,831.1 L1407.0,831.1 L1407.4,821.5 L1417.8,823.1 L1429.8,819.1 L1441.8,824.7 L1452.6,835.9 L1453.8,831.9 L1469.8,853.5 L1489.8,831.1 L1501.8,834.3 L1513.8,851.9 L1521.8,856.7 L1521.8,904.8 L1517.8,900.0 L1505.8,879.2 L1493.8,875.2 L1481.8,882.4 L1469.8,884.0 L1453.8,868.0 L1441.8,859.9 L1429.8,857.5 L1407.4,859.1 L1407.0,876.0 L1401.8,875.2 L1381.7,871.2 L1361.7,877.6 L1347.7,871.2 L1341.7,877.6 L1333.7,885.6 L1321.7,886.4 L1305.7,892.0 L1297.7,899.2 L1285.7,904.8 L1277.7,912.0 L1269.7,915.2 L1257.6,912.0 L1241.6,906.4 L1233.6,906.4 L1221.6,911.2 L1209.6,916.0 L1201.6,912.0Z" stroke="none" stroke-width="1" fill="#c2edda" />
<path d="M1201.6,896.8 L1209.6,893.6 L1221.6,898.4 L1241.6,900.8 L1261.6,904.0 L1281.7,902.4 L1301.7,897.6 L1321.7,892.0 L1337.7,884.0 L1369.7,879.2 L1401.8,879.2 L1417.8,882.4 L1431.8,882.4 L1433.8,873.6 L1447.8,879.2 L1448.6,868.0 L1461.8,879.2 L1473.8,884.0 L1493.8,874.4 L1505.8,877.6 L1516.6,882.4 L1517.0,856.7 L1521.8,856.7 L1521.8,904.8 L1517.8,904.8 L1501.8,903.2 L1481.8,905.6 L1461.8,906.4 L1441.8,906.4 L1417.8,908.8 L1385.7,908.8 L1369.7,906.4 L1337.7,897.6 L1321.7,900.0 L1301.7,902.4 L1281.7,907.2 L1261.6,908.8 L1241.6,905.6 L1221.6,904.8 L1209.6,900.0 L1201.6,903.2Z" stroke="none" stroke-width="1" fill="#c3f0b2" opacity="0.92"/>
<path d="M1201.6,900.0 L1209.6,896.8 L1221.6,901.6 L1241.6,903.2 L1261.6,906.4 L1281.7,904.8 L1301.7,900.0 L1321.7,896.0 L1337.7,890.4 L1353.7,892.0 L1369.7,892.8 L1385.7,894.4 L1401.8,893.6 L1417.8,894.4 L1419.8,896.8 L1431.8,894.4 L1433.8,889.6 L1447.8,892.0 L1448.6,886.4 L1461.8,892.0 L1473.8,893.6 L1481.8,892.0 L1493.8,884.0 L1513.8,883.2" stroke="#3fe150" stroke-width="1.5" fill="none" stroke-linejoin="round"/>
<path d="M1201.6,908.8 L1209.6,912.8 L1221.6,908.0 L1233.6,903.2 L1241.6,903.2 L1257.6,908.8 L1269.7,912.0 L1277.7,908.8 L1285.7,901.6 L1297.7,895.2 L1305.7,888.0 L1313.7,884.8 L1321.7,881.6 L1327.7,881.6 L1333.7,879.2 L1341.7,866.4 L1347.7,858.3 L1353.7,859.9 L1361.7,863.2 L1369.7,859.9 L1381.7,855.1 L1393.7,852.7 L1401.8,853.5 L1407.0,853.5 L1407.4,839.9 L1417.8,840.7 L1429.8,837.5 L1437.8,839.1 L1445.8,845.5 L1452.6,851.9 L1453.8,848.7 L1461.8,858.3 L1469.8,868.8 L1477.8,866.4 L1485.8,856.7 L1493.8,853.5 L1501.8,855.1 L1509.8,863.2 L1517.8,880.8 L1521.8,889.6" stroke="#2b8c9b" stroke-width="1.6" fill="none" stroke-linejoin="round"/>
<line x1="1693.8400000000001" y1="903.2" x2="1940.6" y2="903.2" stroke="#111" stroke-width="1.3" stroke-dasharray="1.3 2.2"/>
<line x1="1622.2" y1="662.6999999999999" x2="1622.2" y2="952.5" stroke="#111" stroke-width="2.0" />
<line x1="1621.2" y1="951.4" x2="1941.6999999999998" y2="951.4" stroke="#111" stroke-width="2.2" />
<line x1="1616.2" y1="662.9" x2="1622.2" y2="662.9" stroke="#111" stroke-width="2.2" />
<text x="1615.0" y="672.6" font-size="27" font-weight="bold" fill="#141414" text-anchor="end" textLength="27" lengthAdjust="spacingAndGlyphs" stroke="#141414" stroke-width="0.35" stroke-linejoin="round" >15</text>
<line x1="1616.2" y1="711.0" x2="1622.2" y2="711.0" stroke="#111" stroke-width="2.2" />
<text x="1615.0" y="720.7" font-size="27" font-weight="bold" fill="#141414" text-anchor="end" textLength="27" lengthAdjust="spacingAndGlyphs" stroke="#141414" stroke-width="0.35" stroke-linejoin="round" >12</text>
<line x1="1616.2" y1="759.0" x2="1622.2" y2="759.0" stroke="#111" stroke-width="2.2" />
<text x="1615.0" y="768.7" font-size="27" font-weight="bold" fill="#141414" text-anchor="end" textLength="13.5" lengthAdjust="spacingAndGlyphs" stroke="#141414" stroke-width="0.35" stroke-linejoin="round" >9</text>
<line x1="1616.2" y1="807.1" x2="1622.2" y2="807.1" stroke="#111" stroke-width="2.2" />
<text x="1615.0" y="816.8" font-size="27" font-weight="bold" fill="#141414" text-anchor="end" textLength="13.5" lengthAdjust="spacingAndGlyphs" stroke="#141414" stroke-width="0.35" stroke-linejoin="round" >6</text>
<line x1="1616.2" y1="855.1" x2="1622.2" y2="855.1" stroke="#111" stroke-width="2.2" />
<text x="1615.0" y="864.8" font-size="27" font-weight="bold" fill="#141414" text-anchor="end" textLength="13.5" lengthAdjust="spacingAndGlyphs" stroke="#141414" stroke-width="0.35" stroke-linejoin="round" >3</text>
<line x1="1616.2" y1="903.2" x2="1622.2" y2="903.2" stroke="#111" stroke-width="2.2" />
<text x="1615.0" y="912.9" font-size="27" font-weight="bold" fill="#141414" text-anchor="end" textLength="13.5" lengthAdjust="spacingAndGlyphs" stroke="#141414" stroke-width="0.35" stroke-linejoin="round" >0</text>
<line x1="1616.2" y1="951.3" x2="1622.2" y2="951.3" stroke="#111" stroke-width="2.2" />
<text x="1615.0" y="961.0" font-size="27" font-weight="bold" fill="#141414" text-anchor="end" textLength="22" lengthAdjust="spacingAndGlyphs" stroke="#141414" stroke-width="0.35" stroke-linejoin="round" >-3</text>
<line x1="1622.2" y1="951.4" x2="1622.2" y2="957.9" stroke="#111" stroke-width="2.2" />
<text x="1622.2" y="985.2" font-size="27" font-weight="bold" fill="#141414" text-anchor="middle" textLength="22" lengthAdjust="spacingAndGlyphs" stroke="#141414" stroke-width="0.35" stroke-linejoin="round" >-3</text>
<line x1="1662.0" y1="951.4" x2="1662.0" y2="957.9" stroke="#111" stroke-width="2.2" />
<text x="1662.0" y="985.2" font-size="27" font-weight="bold" fill="#141414" text-anchor="middle" textLength="22" lengthAdjust="spacingAndGlyphs" stroke="#141414" stroke-width="0.35" stroke-linejoin="round" >-2</text>
<line x1="1701.8" y1="951.4" x2="1701.8" y2="957.9" stroke="#111" stroke-width="2.2" />
<text x="1701.8" y="985.2" font-size="27" font-weight="bold" fill="#141414" text-anchor="middle" textLength="22" lengthAdjust="spacingAndGlyphs" stroke="#141414" stroke-width="0.35" stroke-linejoin="round" >-1</text>
<line x1="1741.6" y1="951.4" x2="1741.6" y2="957.9" stroke="#111" stroke-width="2.2" />
<text x="1741.6" y="985.2" font-size="27" font-weight="bold" fill="#141414" text-anchor="middle" textLength="13.5" lengthAdjust="spacingAndGlyphs" stroke="#141414" stroke-width="0.35" stroke-linejoin="round" >0</text>
<line x1="1781.4" y1="951.4" x2="1781.4" y2="957.9" stroke="#111" stroke-width="2.2" />
<text x="1781.4" y="985.2" font-size="27" font-weight="bold" fill="#141414" text-anchor="middle" textLength="13.5" lengthAdjust="spacingAndGlyphs" stroke="#141414" stroke-width="0.35" stroke-linejoin="round" >1</text>
<line x1="1821.2" y1="951.4" x2="1821.2" y2="957.9" stroke="#111" stroke-width="2.2" />
<text x="1821.2" y="985.2" font-size="27" font-weight="bold" fill="#141414" text-anchor="middle" textLength="13.5" lengthAdjust="spacingAndGlyphs" stroke="#141414" stroke-width="0.35" stroke-linejoin="round" >2</text>
<line x1="1861.0" y1="951.4" x2="1861.0" y2="957.9" stroke="#111" stroke-width="2.2" />
<text x="1861.0" y="985.2" font-size="27" font-weight="bold" fill="#141414" text-anchor="middle" textLength="13.5" lengthAdjust="spacingAndGlyphs" stroke="#141414" stroke-width="0.35" stroke-linejoin="round" >3</text>
<line x1="1900.8" y1="951.4" x2="1900.8" y2="957.9" stroke="#111" stroke-width="2.2" />
<text x="1900.8" y="985.2" font-size="27" font-weight="bold" fill="#141414" text-anchor="middle" textLength="13.5" lengthAdjust="spacingAndGlyphs" stroke="#141414" stroke-width="0.35" stroke-linejoin="round" >4</text>
<line x1="1940.6" y1="951.4" x2="1940.6" y2="957.9" stroke="#111" stroke-width="2.2" />
<text x="1940.6" y="985.2" font-size="27" font-weight="bold" fill="#141414" text-anchor="middle" textLength="13.5" lengthAdjust="spacingAndGlyphs" stroke="#141414" stroke-width="0.35" stroke-linejoin="round" >5</text>
<line x1="1741.6" y1="697" x2="1741.6" y2="951.4" stroke="#f27872" stroke-width="1.8" stroke-dasharray="6 1.4"/>
<line x1="1632.6000000000001" y1="667.8" x2="1648.6000000000001" y2="667.8" stroke="#f26a28" stroke-width="5" />
<line x1="1632.6000000000001" y1="689.6" x2="1648.6000000000001" y2="689.6" stroke="#c8591f" stroke-width="5" />
<text x="1654.6000000000001" y="676.3" font-size="25.5" font-weight="bold" fill="#141414" textLength="46.5" lengthAdjust="spacingAndGlyphs" stroke="#141414" stroke-width="0.3" stroke-linejoin="round" >First</text>
<text x="1653.8" y="698" font-size="25.5" font-weight="bold" fill="#141414" textLength="69" lengthAdjust="spacingAndGlyphs" stroke="#141414" stroke-width="0.3" stroke-linejoin="round" >Others</text>
<text x="1587.6" y="1021.2" font-size="28" font-weight="bold" fill="#141414" stroke="#141414" stroke-width="0.3" textLength="389" lengthAdjust="spacingAndGlyphs">Time from investigation <tspan fill="#2ee83c" stroke="#2ee83c">onset</tspan> (s)</text>
<text x="1572.1" y="849.5" font-size="35" font-weight="bold" fill="#141414" textLength="129" lengthAdjust="spacingAndGlyphs" transform="rotate(-90 1572.1 849.5)" stroke="#141414" stroke-width="0.4" stroke-linejoin="round" >Z-score</text>
<path d="M1626.2,902.4 L1654.0,900.8 L1670.0,898.4 L1685.9,901.6 L1701.8,900.8 L1721.7,900.0 L1741.6,896.8 L1765.5,889.6 L1781.4,895.2 L1801.3,896.8 L1821.2,900.0 L1833.1,903.2 L1845.1,898.4 L1845.9,891.2 L1861.0,885.6 L1876.9,876.0 L1884.9,868.0 L1890.8,859.9 L1896.8,863.2 L1904.8,871.2 L1912.7,877.6 L1924.7,872.8 L1934.6,873.6 L1938.6,868.0 L1940.6,868.0 L1940.6,898.4 L1924.7,898.4 L1920.7,903.2 L1912.7,906.4 L1900.8,903.2 L1884.9,898.4 L1872.9,906.4 L1861.0,911.2 L1845.9,912.8 L1845.1,920.8 L1841.1,927.2 L1831.2,931.2 L1821.2,924.0 L1801.3,916.0 L1781.4,912.8 L1765.5,904.8 L1741.6,908.0 L1721.7,908.8 L1701.8,906.4 L1654.0,905.6 L1626.2,904.8Z" stroke="none" stroke-width="1" fill="#d9bdad" />
<path d="M1622.2,896.8 L1630.2,893.6 L1642.1,896.8 L1654.0,900.0 L1662.0,904.0 L1670.0,907.2 L1677.9,905.6 L1689.9,903.2 L1701.8,901.6 L1713.7,900.0 L1725.7,892.0 L1733.6,887.2 L1741.6,883.2 L1769.5,871.2 L1797.3,870.4 L1817.2,875.2 L1833.1,871.2 L1855.8,873.6 L1856.2,869.6 L1880.9,872.8 L1884.9,866.4 L1900.8,872.8 L1920.7,877.6 L1940.6,879.2 L1940.6,904.8 L1920.7,901.6 L1900.8,890.4 L1880.9,891.2 L1856.2,890.4 L1833.1,895.2 L1817.2,896.8 L1797.3,888.8 L1769.5,888.0 L1741.6,900.0 L1733.6,901.6 L1725.7,904.8 L1713.7,908.0 L1701.8,908.0 L1689.9,910.4 L1677.9,913.6 L1670.0,915.2 L1662.0,912.0 L1654.0,907.2 L1642.1,904.8 L1630.2,901.6 L1622.2,904.8Z" stroke="none" stroke-width="1" fill="#fad5b2" />
<path d="M1660.0,903.2 L1668.0,901.3 L1675.9,902.4" stroke="#c8591f" stroke-width="1.4" fill="none" stroke-linejoin="round"/>
<path d="M1741.6,900.8 L1753.5,897.6 L1765.5,895.2 L1773.4,898.4 L1781.4,904.8 L1797.3,905.6 L1813.2,911.2 L1825.2,915.2 L1829.2,917.6 L1837.1,916.8 L1845.1,909.6 L1845.9,901.6 L1853.0,898.4 L1861.0,894.4 L1869.0,892.0 L1874.9,891.2" stroke="#c8591f" stroke-width="1.5" fill="none" stroke-linejoin="round"/>
<path d="M1622.2,900.8 L1630.2,897.6 L1642.1,900.8 L1654.0,903.2 L1662.0,908.0 L1670.0,911.2 L1677.9,909.6 L1689.9,906.4 L1701.8,904.8 L1713.7,904.0 L1725.7,898.4 L1733.6,894.4 L1741.6,891.2 L1753.5,885.6 L1765.5,880.8 L1773.4,879.2 L1785.4,880.8 L1797.3,879.2 L1809.3,883.2 L1817.2,886.4 L1825.2,885.6 L1837.1,882.4 L1849.1,884.0 L1855.8,883.2 L1856.2,878.4 L1869.0,882.4 L1883.7,882.4 L1884.1,877.6 L1886.9,879.2 L1888.9,876.0 L1900.8,880.8 L1912.7,884.8 L1924.7,891.2 L1932.6,889.6 L1940.6,894.4" stroke="#f26a28" stroke-width="1.6" fill="none" stroke-linejoin="round"/>
<text x="1903.6" y="681.2" font-size="25" font-weight="bold" fill="#141414" textLength="94" lengthAdjust="spacingAndGlyphs" stroke="#141414" stroke-width="0.4" stroke-linejoin="round" >Z-score</text>
<text x="1954" y="710.5" font-size="24.5" font-weight="bold" fill="#141414" text-anchor="end" stroke="#141414" stroke-width="0.4" stroke-linejoin="round" >20</text>
<text x="1954" y="770.1" font-size="24.5" font-weight="bold" fill="#141414" text-anchor="end" stroke="#141414" stroke-width="0.4" stroke-linejoin="round" >-2</text>
<defs><linearGradient id="cbar" x1="0" x2="0" y1="0" y2="1"><stop offset="0" stop-color="#f8f28c"/><stop offset="0.1" stop-color="#f8cc80"/><stop offset="0.22" stop-color="#f89a6e"/><stop offset="0.34" stop-color="#f0446e"/><stop offset="0.45" stop-color="#e022ae"/><stop offset="0.6" stop-color="#8218c0"/><stop offset="0.74" stop-color="#2a18b2"/><stop offset="0.86" stop-color="#12106a"/><stop offset="0.95" stop-color="#08081e"/><stop offset="1" stop-color="#050508"/></linearGradient></defs>
<rect x="1961.3" y="700.1" width="13.8" height="59.2" fill="url(#cbar)" stroke="#0a0a0a" stroke-width="1.8"/>
<line x1="1961" y1="723.3" x2="1964" y2="723.3" stroke="#0a0a0a" stroke-width="1.2" />
<line x1="1973" y1="723.3" x2="1976" y2="723.3" stroke="#0a0a0a" stroke-width="1.2" />
<line x1="1961" y1="751.2" x2="1964" y2="751.2" stroke="#0a0a0a" stroke-width="1.2" />
<line x1="1973" y1="751.2" x2="1976" y2="751.2" stroke="#0a0a0a" stroke-width="1.2" />
<text x="2" y="1098" font-size="60" font-weight="bold" fill="#141414" textLength="30" lengthAdjust="spacingAndGlyphs" stroke="#141414" stroke-width="0.9" stroke-linejoin="round" >e</text>
<rect x="126.9" y="1238.1" width="17.4" height="90.1" fill="#fff" stroke="#111" stroke-width="1.6"/>
<rect x="153.9" y="1309.4" width="17.5" height="18.8" fill="#fff" stroke="#111" stroke-width="1.6"/>
<rect x="199" y="1294.6" width="17.4" height="33.6" fill="#fff" stroke="#111" stroke-width="1.6"/>
<rect x="226" y="1321.6" width="17.4" height="6.6" fill="#fff" stroke="#111" stroke-width="1.6"/>
<rect x="270.7" y="1311.4" width="17.4" height="16.8" fill="#fff" stroke="#111" stroke-width="1.6"/>
<rect x="297.7" y="1327.4" width="17.4" height="0.8" fill="#fff" stroke="#111" stroke-width="1.6"/>
<line x1="117.6" y1="1328.2" x2="324.7" y2="1328.2" stroke="#111" stroke-width="1.7" />
<line x1="117.6" y1="1084.3" x2="117.6" y2="1377.8" stroke="#111" stroke-width="2.3" />
<line x1="116.5" y1="1376.7" x2="324.9" y2="1376.7" stroke="#111" stroke-width="2.3" />
<line x1="111.1" y1="1085.7" x2="117.6" y2="1085.7" stroke="#111" stroke-width="2.1" />
<text x="105.5" y="1096.5" font-size="30" font-weight="bold" fill="#141414" text-anchor="end" textLength="28" lengthAdjust="spacingAndGlyphs" stroke="#141414" stroke-width="0.45" stroke-linejoin="round" >15</text>
<line x1="111.1" y1="1134.2" x2="117.6" y2="1134.2" stroke="#111" stroke-width="2.1" />
<text x="105.5" y="1145.0" font-size="30" font-weight="bold" fill="#141414" text-anchor="end" textLength="28" lengthAdjust="spacingAndGlyphs" stroke="#141414" stroke-width="0.45" stroke-linejoin="round" >12</text>
<line x1="111.1" y1="1182.7" x2="117.6" y2="1182.7" stroke="#111" stroke-width="2.1" />
<text x="105.5" y="1193.5" font-size="30" font-weight="bold" fill="#141414" text-anchor="end" textLength="15.5" lengthAdjust="spacingAndGlyphs" stroke="#141414" stroke-width="0.45" stroke-linejoin="round" >9</text>
<line x1="111.1" y1="1231.2" x2="117.6" y2="1231.2" stroke="#111" stroke-width="2.1" />
<text x="105.5" y="1242.0" font-size="30" font-weight="bold" fill="#141414" text-anchor="end" textLength="15.5" lengthAdjust="spacingAndGlyphs" stroke="#141414" stroke-width="0.45" stroke-linejoin="round" >6</text>
<line x1="111.1" y1="1279.7" x2="117.6" y2="1279.7" stroke="#111" stroke-width="2.1" />
<text x="105.5" y="1290.5" font-size="30" font-weight="bold" fill="#141414" text-anchor="end" textLength="15.5" lengthAdjust="spacingAndGlyphs" stroke="#141414" stroke-width="0.45" stroke-linejoin="round" >3</text>
<line x1="111.1" y1="1328.2" x2="117.6" y2="1328.2" stroke="#111" stroke-width="2.1" />
<text x="105.5" y="1339.0" font-size="30" font-weight="bold" fill="#141414" text-anchor="end" textLength="15.5" lengthAdjust="spacingAndGlyphs" stroke="#141414" stroke-width="0.45" stroke-linejoin="round" >0</text>
<line x1="111.1" y1="1376.7" x2="117.6" y2="1376.7" stroke="#111" stroke-width="2.1" />
<text x="105.5" y="1387.5" font-size="30" font-weight="bold" fill="#141414" text-anchor="end" textLength="24" lengthAdjust="spacingAndGlyphs" stroke="#141414" stroke-width="0.45" stroke-linejoin="round" >-3</text>
<text x="62.4" y="1327.4" font-size="40" font-weight="bold" fill="#141414" textLength="229" lengthAdjust="spacingAndGlyphs" transform="rotate(-90 62.4 1327.4)" stroke="#141414" stroke-width="0.5" stroke-linejoin="round" >Mean Z-score</text>
<circle cx="136.5" cy="1122" r="5.5" fill="#b266e6" fill-opacity="0.82" stroke="#1a1a1a" stroke-width="1.7"/>
<circle cx="135.9" cy="1196.1" r="5.5" fill="#b266e6" fill-opacity="0.82" stroke="#1a1a1a" stroke-width="1.7"/>
<circle cx="136.5" cy="1209.7" r="5.5" fill="#b266e6" fill-opacity="0.82" stroke="#1a1a1a" stroke-width="1.7"/>
<circle cx="136.5" cy="1231.5" r="5.5" fill="#b266e6" fill-opacity="0.82" stroke="#1a1a1a" stroke-width="1.7"/>
<circle cx="132.2" cy="1276.5" r="5.5" fill="#b266e6" fill-opacity="0.82" stroke="#1a1a1a" stroke-width="1.7"/>
<circle cx="138.8" cy="1282.4" r="5.5" fill="#b266e6" fill-opacity="0.82" stroke="#1a1a1a" stroke-width="1.7"/>
<circle cx="134.2" cy="1285.3" r="5.5" fill="#b266e6" fill-opacity="0.82" stroke="#1a1a1a" stroke-width="1.7"/>
<circle cx="139.4" cy="1288.2" r="5.5" fill="#b266e6" fill-opacity="0.82" stroke="#1a1a1a" stroke-width="1.7"/>
<circle cx="132.2" cy="1292.5" r="5.5" fill="#b266e6" fill-opacity="0.82" stroke="#1a1a1a" stroke-width="1.7"/>
<line x1="135.60000000000002" y1="1216.6" x2="135.60000000000002" y2="1258.7" stroke="#111" stroke-width="2.2" />
<line x1="131.40000000000003" y1="1216.6" x2="139.8" y2="1216.6" stroke="#111" stroke-width="2.0" />
<line x1="131.40000000000003" y1="1258.7" x2="139.8" y2="1258.7" stroke="#111" stroke-width="2.0" />
<circle cx="162.6" cy="1291.9" r="5.5" fill="#ff55c4" fill-opacity="0.82" stroke="#1a1a1a" stroke-width="1.7"/>
<circle cx="159.2" cy="1295.4" r="5.5" fill="#ff55c4" fill-opacity="0.82" stroke="#1a1a1a" stroke-width="1.7"/>
<circle cx="166.1" cy="1305.6" r="5.5" fill="#ff55c4" fill-opacity="0.82" stroke="#1a1a1a" stroke-width="1.7"/>
<circle cx="161.2" cy="1310" r="5.5" fill="#ff55c4" fill-opacity="0.82" stroke="#1a1a1a" stroke-width="1.7"/>
<circle cx="164.1" cy="1312.8" r="5.5" fill="#ff55c4" fill-opacity="0.82" stroke="#1a1a1a" stroke-width="1.7"/>
<circle cx="159.7" cy="1317.2" r="5.5" fill="#ff55c4" fill-opacity="0.82" stroke="#1a1a1a" stroke-width="1.7"/>
<circle cx="165.6" cy="1318.7" r="5.5" fill="#ff55c4" fill-opacity="0.82" stroke="#1a1a1a" stroke-width="1.7"/>
<circle cx="162.6" cy="1330.3" r="5.5" fill="#ff55c4" fill-opacity="0.82" stroke="#1a1a1a" stroke-width="1.7"/>
<line x1="162.65" y1="1305.6" x2="162.65" y2="1312.8" stroke="#111" stroke-width="2.2" />
<line x1="158.45000000000002" y1="1305.6" x2="166.85" y2="1305.6" stroke="#111" stroke-width="2.0" />
<line x1="158.45000000000002" y1="1312.8" x2="166.85" y2="1312.8" stroke="#111" stroke-width="2.0" />
<circle cx="209.1" cy="1251.9" r="5.5" fill="#3f9dab" fill-opacity="0.82" stroke="#1a1a1a" stroke-width="1.7"/>
<circle cx="204.2" cy="1256.8" r="5.5" fill="#3f9dab" fill-opacity="0.82" stroke="#1a1a1a" stroke-width="1.7"/>
<circle cx="211.2" cy="1282.9" r="5.5" fill="#3f9dab" fill-opacity="0.82" stroke="#1a1a1a" stroke-width="1.7"/>
<circle cx="206.8" cy="1291.1" r="5.5" fill="#3f9dab" fill-opacity="0.82" stroke="#1a1a1a" stroke-width="1.7"/>
<circle cx="208.5" cy="1305.6" r="5.5" fill="#3f9dab" fill-opacity="0.82" stroke="#1a1a1a" stroke-width="1.7"/>
<circle cx="203.3" cy="1311.4" r="5.5" fill="#3f9dab" fill-opacity="0.82" stroke="#1a1a1a" stroke-width="1.7"/>
<circle cx="207.7" cy="1312.9" r="5.5" fill="#3f9dab" fill-opacity="0.82" stroke="#1a1a1a" stroke-width="1.7"/>
<circle cx="212" cy="1312.9" r="5.5" fill="#3f9dab" fill-opacity="0.82" stroke="#1a1a1a" stroke-width="1.7"/>
<circle cx="207.1" cy="1331.2" r="5.5" fill="#3f9dab" fill-opacity="0.82" stroke="#1a1a1a" stroke-width="1.7"/>
<line x1="207.7" y1="1282.1" x2="207.7" y2="1305.6" stroke="#111" stroke-width="2.2" />
<line x1="203.5" y1="1282.1" x2="211.89999999999998" y2="1282.1" stroke="#111" stroke-width="2.0" />
<line x1="203.5" y1="1305.6" x2="211.89999999999998" y2="1305.6" stroke="#111" stroke-width="2.0" />
<circle cx="234.7" cy="1274.5" r="5.5" fill="#b4e6bf" fill-opacity="0.82" stroke="#1a1a1a" stroke-width="1.7"/>
<circle cx="234.7" cy="1304.7" r="5.5" fill="#b4e6bf" fill-opacity="0.82" stroke="#1a1a1a" stroke-width="1.7"/>
<circle cx="233.8" cy="1318.7" r="5.5" fill="#b4e6bf" fill-opacity="0.82" stroke="#1a1a1a" stroke-width="1.7"/>
<circle cx="230.9" cy="1324.5" r="5.5" fill="#b4e6bf" fill-opacity="0.82" stroke="#1a1a1a" stroke-width="1.7"/>
<circle cx="235.8" cy="1330.3" r="5.5" fill="#b4e6bf" fill-opacity="0.82" stroke="#1a1a1a" stroke-width="1.7"/>
<circle cx="239.6" cy="1334.6" r="5.5" fill="#b4e6bf" fill-opacity="0.82" stroke="#1a1a1a" stroke-width="1.7"/>
<circle cx="232.4" cy="1336.1" r="5.5" fill="#b4e6bf" fill-opacity="0.82" stroke="#1a1a1a" stroke-width="1.7"/>
<circle cx="230.9" cy="1340.4" r="5.5" fill="#b4e6bf" fill-opacity="0.82" stroke="#1a1a1a" stroke-width="1.7"/>
<line x1="234.7" y1="1312.8" x2="234.7" y2="1328.2" stroke="#111" stroke-width="2.2" />
<line x1="230.5" y1="1312.8" x2="238.89999999999998" y2="1312.8" stroke="#111" stroke-width="2.0" />
<line x1="230.5" y1="1328.2" x2="238.89999999999998" y2="1328.2" stroke="#111" stroke-width="2.0" />
<circle cx="279.4" cy="1281.8" r="5.5" fill="#f5853a" fill-opacity="0.82" stroke="#1a1a1a" stroke-width="1.7"/>
<circle cx="279.4" cy="1303.6" r="5.5" fill="#f5853a" fill-opacity="0.82" stroke="#1a1a1a" stroke-width="1.7"/>
<circle cx="275.9" cy="1307" r="5.5" fill="#f5853a" fill-opacity="0.82" stroke="#1a1a1a" stroke-width="1.7"/>
<circle cx="283.2" cy="1307.9" r="5.5" fill="#f5853a" fill-opacity="0.82" stroke="#1a1a1a" stroke-width="1.7"/>
<circle cx="278.8" cy="1312.8" r="5.5" fill="#f5853a" fill-opacity="0.82" stroke="#1a1a1a" stroke-width="1.7"/>
<circle cx="274.5" cy="1314.3" r="5.5" fill="#f5853a" fill-opacity="0.82" stroke="#1a1a1a" stroke-width="1.7"/>
<circle cx="280.3" cy="1323" r="5.5" fill="#f5853a" fill-opacity="0.82" stroke="#1a1a1a" stroke-width="1.7"/>
<circle cx="279.4" cy="1352.9" r="5.5" fill="#f5853a" fill-opacity="0.82" stroke="#1a1a1a" stroke-width="1.7"/>
<line x1="279.4" y1="1307.2" x2="279.4" y2="1315.3" stroke="#111" stroke-width="2.2" />
<line x1="275.2" y1="1307.2" x2="283.59999999999997" y2="1307.2" stroke="#111" stroke-width="2.0" />
<line x1="275.2" y1="1315.3" x2="283.59999999999997" y2="1315.3" stroke="#111" stroke-width="2.0" />
<circle cx="304.4" cy="1297.5" r="5.5" fill="#e6d2c6" fill-opacity="0.82" stroke="#1a1a1a" stroke-width="1.7"/>
<circle cx="308.5" cy="1304.1" r="5.5" fill="#e6d2c6" fill-opacity="0.82" stroke="#1a1a1a" stroke-width="1.7"/>
<circle cx="305" cy="1323" r="5.5" fill="#e6d2c6" fill-opacity="0.82" stroke="#1a1a1a" stroke-width="1.7"/>
<circle cx="302.1" cy="1325.9" r="5.5" fill="#e6d2c6" fill-opacity="0.82" stroke="#1a1a1a" stroke-width="1.7"/>
<circle cx="310.2" cy="1330.3" r="5.5" fill="#e6d2c6" fill-opacity="0.82" stroke="#1a1a1a" stroke-width="1.7"/>
<circle cx="306.4" cy="1333.2" r="5.5" fill="#e6d2c6" fill-opacity="0.82" stroke="#1a1a1a" stroke-width="1.7"/>
<circle cx="302.1" cy="1339" r="5.5" fill="#e6d2c6" fill-opacity="0.82" stroke="#1a1a1a" stroke-width="1.7"/>
<circle cx="306.4" cy="1352.1" r="5.5" fill="#e6d2c6" fill-opacity="0.82" stroke="#1a1a1a" stroke-width="1.7"/>
<line x1="306.4" y1="1320.9" x2="306.4" y2="1332.2" stroke="#111" stroke-width="2.2" />
<line x1="302.2" y1="1320.9" x2="310.59999999999997" y2="1320.9" stroke="#111" stroke-width="2.0" />
<line x1="302.2" y1="1332.2" x2="310.59999999999997" y2="1332.2" stroke="#111" stroke-width="2.0" />
<path d="M135.1,1100 L135.1,1085.7 L278.8,1085.7 L278.8,1148.2" stroke="#111" stroke-width="1.3" fill="none" />
<text x="210.9" y="1093.6" font-size="48" font-weight="normal" fill="#141414" text-anchor="middle" stroke="#141414" stroke-width="0.5" stroke-linejoin="round" >*</text>
<text x="165" y="1284" font-size="48" font-weight="normal" fill="#141414" text-anchor="middle" stroke="#141414" stroke-width="0.5" stroke-linejoin="round" >*</text>
<text x="211.2" y="1210.8" font-size="20.5" font-weight="normal" fill="#141414" textLength="23.5" lengthAdjust="spacingAndGlyphs" stroke="#141414" stroke-width="0.2" stroke-linejoin="round" >ns</text>
<line x1="208" y1="1223.7" x2="233.8" y2="1223.7" stroke="#111" stroke-width="1.4" />
<text x="285.6" y="1230" font-size="20.5" font-weight="normal" fill="#141414" textLength="23.5" lengthAdjust="spacingAndGlyphs" stroke="#141414" stroke-width="0.2" stroke-linejoin="round" >ns</text>
<line x1="283.2" y1="1242.3" x2="308.5" y2="1242.3" stroke="#111" stroke-width="1.4" />
<text x="127.8" y="1400" font-size="20.5" font-weight="bold" fill="#141414" textLength="55.8" lengthAdjust="spacingAndGlyphs" stroke="#141414" stroke-width="0.4" stroke-linejoin="round" >Day 1</text>
<text x="199.8" y="1400" font-size="20.5" font-weight="bold" fill="#141414" textLength="55.8" lengthAdjust="spacingAndGlyphs" stroke="#141414" stroke-width="0.4" stroke-linejoin="round" >Day 2</text>
<text x="268.7" y="1400" font-size="20.5" font-weight="bold" fill="#141414" textLength="56.6" lengthAdjust="spacingAndGlyphs" stroke="#141414" stroke-width="0.4" stroke-linejoin="round" >Day 3</text>
<text x="140.2" y="1422.5" font-size="22" font-weight="normal" fill="#141414" text-anchor="end" transform="rotate(-45 140.2 1422.5)">First</text>
<text x="171.2" y="1419" font-size="22" font-weight="normal" fill="#141414" text-anchor="end" transform="rotate(-45 171.2 1419)">Others</text>
<text x="212.3" y="1422.5" font-size="22" font-weight="normal" fill="#141414" text-anchor="end" transform="rotate(-45 212.3 1422.5)">First</text>
<text x="243.2" y="1419" font-size="22" font-weight="normal" fill="#141414" text-anchor="end" transform="rotate(-45 243.2 1419)">Others</text>
<text x="284.0" y="1422.5" font-size="22" font-weight="normal" fill="#141414" text-anchor="end" transform="rotate(-45 284.0 1422.5)">First</text>
<text x="314.9" y="1419" font-size="22" font-weight="normal" fill="#141414" text-anchor="end" transform="rotate(-45 314.9 1419)">Others</text>
<text x="340" y="1097.6" font-size="60" font-weight="bold" fill="#141414" textLength="17" lengthAdjust="spacingAndGlyphs" stroke="#141414" stroke-width="0.9" stroke-linejoin="round" >f</text>
<line x1="448.9" y1="1084" x2="448.9" y2="1377.3" stroke="#0c0c0c" stroke-width="3.5" />
<line x1="447.0" y1="1375.5" x2="678.6" y2="1375.5" stroke="#0c0c0c" stroke-width="3.8" />
<line x1="436.4" y1="1085.8" x2="448.9" y2="1085.8" stroke="#0c0c0c" stroke-width="3.7" />
<text x="432.5" y="1096.8" font-size="31.5" font-weight="bold" fill="#141414" text-anchor="end" textLength="25.8" lengthAdjust="spacingAndGlyphs" stroke="#141414" stroke-width="0.5" stroke-linejoin="round" >25</text>
<line x1="436.4" y1="1143.7" x2="448.9" y2="1143.7" stroke="#0c0c0c" stroke-width="3.7" />
<text x="432.5" y="1154.7" font-size="31.5" font-weight="bold" fill="#141414" text-anchor="end" textLength="25.8" lengthAdjust="spacingAndGlyphs" stroke="#141414" stroke-width="0.5" stroke-linejoin="round" >20</text>
<line x1="436.4" y1="1201.7" x2="448.9" y2="1201.7" stroke="#0c0c0c" stroke-width="3.7" />
<text x="432.5" y="1212.7" font-size="31.5" font-weight="bold" fill="#141414" text-anchor="end" textLength="25.8" lengthAdjust="spacingAndGlyphs" stroke="#141414" stroke-width="0.5" stroke-linejoin="round" >15</text>
<line x1="436.4" y1="1259.6" x2="448.9" y2="1259.6" stroke="#0c0c0c" stroke-width="3.7" />
<text x="432.5" y="1270.6" font-size="31.5" font-weight="bold" fill="#141414" text-anchor="end" textLength="25.8" lengthAdjust="spacingAndGlyphs" stroke="#141414" stroke-width="0.5" stroke-linejoin="round" >10</text>
<line x1="436.4" y1="1317.5" x2="448.9" y2="1317.5" stroke="#0c0c0c" stroke-width="3.7" />
<text x="432.5" y="1328.5" font-size="31.5" font-weight="bold" fill="#141414" text-anchor="end" textLength="13.5" lengthAdjust="spacingAndGlyphs" stroke="#141414" stroke-width="0.5" stroke-linejoin="round" >5</text>
<line x1="436.4" y1="1375.5" x2="448.9" y2="1375.5" stroke="#0c0c0c" stroke-width="3.7" />
<text x="432.5" y="1386.5" font-size="31.5" font-weight="bold" fill="#141414" text-anchor="end" textLength="13.5" lengthAdjust="spacingAndGlyphs" stroke="#141414" stroke-width="0.5" stroke-linejoin="round" >0</text>
<line x1="448.9" y1="1375.5" x2="448.9" y2="1389.5" stroke="#0c0c0c" stroke-width="3.7" />
<text x="448.9" y="1423" font-size="31.5" font-weight="bold" fill="#141414" text-anchor="middle" textLength="14" lengthAdjust="spacingAndGlyphs" stroke="#141414" stroke-width="0.5" stroke-linejoin="round" >0</text>
<line x1="524.9" y1="1375.5" x2="524.9" y2="1389.5" stroke="#0c0c0c" stroke-width="3.7" />
<text x="524.9" y="1423" font-size="31.5" font-weight="bold" fill="#141414" text-anchor="middle" textLength="14" lengthAdjust="spacingAndGlyphs" stroke="#141414" stroke-width="0.5" stroke-linejoin="round" >5</text>
<line x1="600.8" y1="1375.5" x2="600.8" y2="1389.5" stroke="#0c0c0c" stroke-width="3.7" />
<text x="600.8" y="1423" font-size="31.5" font-weight="bold" fill="#141414" text-anchor="middle" textLength="28" lengthAdjust="spacingAndGlyphs" stroke="#141414" stroke-width="0.5" stroke-linejoin="round" >10</text>
<line x1="676.8" y1="1375.5" x2="676.8" y2="1389.5" stroke="#0c0c0c" stroke-width="3.7" />
<text x="676.8" y="1423" font-size="31.5" font-weight="bold" fill="#141414" text-anchor="middle" textLength="28" lengthAdjust="spacingAndGlyphs" stroke="#141414" stroke-width="0.5" stroke-linejoin="round" >15</text>
<text x="392.4" y="1328" font-size="33.5" font-weight="bold" fill="#141414" textLength="198" lengthAdjust="spacingAndGlyphs" transform="rotate(-90 392.4 1328)" stroke="#141414" stroke-width="0.6" stroke-linejoin="round" >Mean AUC</text>
<text x="478.8" y="1467.3" font-size="28.6" font-weight="bold" fill="#141414" textLength="167.4" lengthAdjust="spacingAndGlyphs" stroke="#141414" stroke-width="0.45" stroke-linejoin="round" >Bout length (s)</text>
<text x="523.8" y="1089.9" font-size="30.6" font-weight="bold" fill="#141414" textLength="75.6" lengthAdjust="spacingAndGlyphs" >Day 1</text>
<ellipse cx="508.6" cy="1252.4" rx="4.2" ry="5.6" fill="none" stroke="#a132e2" stroke-width="3.1"/>
<ellipse cx="521.2" cy="1295.6" rx="4.2" ry="5.6" fill="none" stroke="#a132e2" stroke-width="3.1"/>
<ellipse cx="554.4" cy="1170.3" rx="4.2" ry="5.6" fill="none" stroke="#a132e2" stroke-width="3.1"/>
<ellipse cx="558" cy="1283" rx="4.2" ry="5.6" fill="none" stroke="#a132e2" stroke-width="3.1"/>
<ellipse cx="564.4" cy="1272.2" rx="4.2" ry="5.6" fill="none" stroke="#a132e2" stroke-width="3.1"/>
<ellipse cx="565.9" cy="1203.8" rx="4.2" ry="5.6" fill="none" stroke="#a132e2" stroke-width="3.1"/>
<ellipse cx="583.2" cy="1149.1" rx="4.2" ry="5.6" fill="none" stroke="#a132e2" stroke-width="3.1"/>
<ellipse cx="643.3" cy="1137.2" rx="4.2" ry="5.6" fill="none" stroke="#a132e2" stroke-width="3.1"/>
<line x1="508.6" y1="1278.7" x2="643.3" y2="1136.5" stroke="#0c0c0c" stroke-width="3.4" />
<text x="610.2" y="1324.4" font-size="20.5" font-weight="bold" fill="#141414" textLength="88.2" lengthAdjust="spacingAndGlyphs" stroke="#141414" stroke-width="0.2" stroke-linejoin="round" >r=0.7104</text>
<text x="601.9" y="1344.2" font-size="20.5" font-weight="bold" fill="#141414" textLength="101.9" lengthAdjust="spacingAndGlyphs" stroke="#141414" stroke-width="0.2" stroke-linejoin="round" >*p=0.0483</text>
<text x="703" y="1097.6" font-size="60" font-weight="bold" fill="#141414" textLength="30" lengthAdjust="spacingAndGlyphs" stroke="#141414" stroke-width="0.9" stroke-linejoin="round" >g</text>
<line x1="812.7" y1="1084" x2="812.7" y2="1377.3" stroke="#0c0c0c" stroke-width="3.5" />
<line x1="810.8000000000001" y1="1375.5" x2="968.2500000000001" y2="1375.5" stroke="#0c0c0c" stroke-width="3.8" />
<line x1="800.2" y1="1085.8" x2="812.7" y2="1085.8" stroke="#0c0c0c" stroke-width="3.7" />
<text x="796.8" y="1096.8" font-size="31.5" font-weight="bold" fill="#141414" text-anchor="end" textLength="25.8" lengthAdjust="spacingAndGlyphs" stroke="#141414" stroke-width="0.5" stroke-linejoin="round" >25</text>
<line x1="800.2" y1="1143.7" x2="812.7" y2="1143.7" stroke="#0c0c0c" stroke-width="3.7" />
<text x="796.8" y="1154.7" font-size="31.5" font-weight="bold" fill="#141414" text-anchor="end" textLength="25.8" lengthAdjust="spacingAndGlyphs" stroke="#141414" stroke-width="0.5" stroke-linejoin="round" >20</text>
<line x1="800.2" y1="1201.7" x2="812.7" y2="1201.7" stroke="#0c0c0c" stroke-width="3.7" />
<text x="796.8" y="1212.7" font-size="31.5" font-weight="bold" fill="#141414" text-anchor="end" textLength="25.8" lengthAdjust="spacingAndGlyphs" stroke="#141414" stroke-width="0.5" stroke-linejoin="round" >15</text>
<line x1="800.2" y1="1259.6" x2="812.7" y2="1259.6" stroke="#0c0c0c" stroke-width="3.7" />
<text x="796.8" y="1270.6" font-size="31.5" font-weight="bold" fill="#141414" text-anchor="end" textLength="25.8" lengthAdjust="spacingAndGlyphs" stroke="#141414" stroke-width="0.5" stroke-linejoin="round" >10</text>
<line x1="800.2" y1="1317.5" x2="812.7" y2="1317.5" stroke="#0c0c0c" stroke-width="3.7" />
<text x="796.8" y="1328.5" font-size="31.5" font-weight="bold" fill="#141414" text-anchor="end" textLength="13.5" lengthAdjust="spacingAndGlyphs" stroke="#141414" stroke-width="0.5" stroke-linejoin="round" >5</text>
<line x1="800.2" y1="1375.5" x2="812.7" y2="1375.5" stroke="#0c0c0c" stroke-width="3.7" />
<text x="796.8" y="1386.5" font-size="31.5" font-weight="bold" fill="#141414" text-anchor="end" textLength="13.5" lengthAdjust="spacingAndGlyphs" stroke="#141414" stroke-width="0.5" stroke-linejoin="round" >0</text>
<line x1="812.7" y1="1375.5" x2="812.7" y2="1389.5" stroke="#0c0c0c" stroke-width="3.7" />
<text x="812.7" y="1423" font-size="31.5" font-weight="bold" fill="#141414" text-anchor="middle" textLength="14" lengthAdjust="spacingAndGlyphs" stroke="#141414" stroke-width="0.5" stroke-linejoin="round" >0</text>
<line x1="889.6" y1="1375.5" x2="889.6" y2="1389.5" stroke="#0c0c0c" stroke-width="3.7" />
<text x="889.6" y="1423" font-size="31.5" font-weight="bold" fill="#141414" text-anchor="middle" textLength="14" lengthAdjust="spacingAndGlyphs" stroke="#141414" stroke-width="0.5" stroke-linejoin="round" >5</text>
<line x1="966.4" y1="1375.5" x2="966.4" y2="1389.5" stroke="#0c0c0c" stroke-width="3.7" />
<text x="966.4" y="1423" font-size="31.5" font-weight="bold" fill="#141414" text-anchor="middle" textLength="28" lengthAdjust="spacingAndGlyphs" stroke="#141414" stroke-width="0.5" stroke-linejoin="round" >10</text>
<text x="753.3" y="1328" font-size="33.5" font-weight="bold" fill="#141414" textLength="198" lengthAdjust="spacingAndGlyphs" transform="rotate(-90 753.3 1328)" stroke="#141414" stroke-width="0.6" stroke-linejoin="round" >Mean AUC</text>
<text x="804.4" y="1467.3" font-size="28.6" font-weight="bold" fill="#141414" textLength="169.9" lengthAdjust="spacingAndGlyphs" stroke="#141414" stroke-width="0.45" stroke-linejoin="round" >Bout length (s)</text>
<text x="878.9" y="1089.9" font-size="30.6" font-weight="bold" fill="#141414" textLength="77.4" lengthAdjust="spacingAndGlyphs" >Day 2</text>
<ellipse cx="853" cy="1201.3" rx="4.2" ry="5.6" fill="none" stroke="#3cc2b9" stroke-width="3.1"/>
<ellipse cx="895.5" cy="1212.1" rx="4.2" ry="5.6" fill="none" stroke="#3cc2b9" stroke-width="3.1"/>
<ellipse cx="854.8" cy="1263.2" rx="4.2" ry="5.6" fill="none" stroke="#3cc2b9" stroke-width="3.1"/>
<ellipse cx="854.8" cy="1303.9" rx="4.2" ry="5.6" fill="none" stroke="#3cc2b9" stroke-width="3.1"/>
<ellipse cx="918.9" cy="1301.7" rx="4.2" ry="5.6" fill="none" stroke="#3cc2b9" stroke-width="3.1"/>
<ellipse cx="913.5" cy="1330.5" rx="4.2" ry="5.6" fill="none" stroke="#3cc2b9" stroke-width="3.1"/>
<ellipse cx="879.3" cy="1339.9" rx="4.2" ry="5.6" fill="none" stroke="#3cc2b9" stroke-width="3.1"/>
<ellipse cx="864.9" cy="1342.4" rx="4.2" ry="5.6" fill="none" stroke="#3cc2b9" stroke-width="3.1"/>
<line x1="853.7" y1="1274" x2="917.8" y2="1306.4" stroke="#0c0c0c" stroke-width="3.4" />
<text x="949.5" y="1162.4" font-size="20.5" font-weight="bold" fill="#141414" textLength="96.1" lengthAdjust="spacingAndGlyphs" stroke="#141414" stroke-width="0.2" stroke-linejoin="round" >r=-0.2372</text>
<text x="949.5" y="1181.5" font-size="20.5" font-weight="bold" fill="#141414" textLength="92.5" lengthAdjust="spacingAndGlyphs" stroke="#141414" stroke-width="0.2" stroke-linejoin="round" >p=0.5716</text>
<text x="1074" y="1097.6" font-size="60" font-weight="bold" fill="#141414" textLength="26" lengthAdjust="spacingAndGlyphs" stroke="#141414" stroke-width="0.9" stroke-linejoin="round" >h</text>
<line x1="1171.6" y1="1084" x2="1171.6" y2="1377.3" stroke="#0c0c0c" stroke-width="3.5" />
<line x1="1169.6999999999998" y1="1375.5" x2="1328.2499999999998" y2="1375.5" stroke="#0c0c0c" stroke-width="3.8" />
<line x1="1159.1" y1="1085.8" x2="1171.6" y2="1085.8" stroke="#0c0c0c" stroke-width="3.7" />
<text x="1155.6" y="1096.8" font-size="31.5" font-weight="bold" fill="#141414" text-anchor="end" textLength="25.8" lengthAdjust="spacingAndGlyphs" stroke="#141414" stroke-width="0.5" stroke-linejoin="round" >25</text>
<line x1="1159.1" y1="1143.7" x2="1171.6" y2="1143.7" stroke="#0c0c0c" stroke-width="3.7" />
<text x="1155.6" y="1154.7" font-size="31.5" font-weight="bold" fill="#141414" text-anchor="end" textLength="25.8" lengthAdjust="spacingAndGlyphs" stroke="#141414" stroke-width="0.5" stroke-linejoin="round" >20</text>
<line x1="1159.1" y1="1201.7" x2="1171.6" y2="1201.7" stroke="#0c0c0c" stroke-width="3.7" />
<text x="1155.6" y="1212.7" font-size="31.5" font-weight="bold" fill="#141414" text-anchor="end" textLength="25.8" lengthAdjust="spacingAndGlyphs" stroke="#141414" stroke-width="0.5" stroke-linejoin="round" >15</text>
<line x1="1159.1" y1="1259.6" x2="1171.6" y2="1259.6" stroke="#0c0c0c" stroke-width="3.7" />
<text x="1155.6" y="1270.6" font-size="31.5" font-weight="bold" fill="#141414" text-anchor="end" textLength="25.8" lengthAdjust="spacingAndGlyphs" stroke="#141414" stroke-width="0.5" stroke-linejoin="round" >10</text>
<line x1="1159.1" y1="1317.5" x2="1171.6" y2="1317.5" stroke="#0c0c0c" stroke-width="3.7" />
<text x="1155.6" y="1328.5" font-size="31.5" font-weight="bold" fill="#141414" text-anchor="end" textLength="13.5" lengthAdjust="spacingAndGlyphs" stroke="#141414" stroke-width="0.5" stroke-linejoin="round" >5</text>
<line x1="1159.1" y1="1375.5" x2="1171.6" y2="1375.5" stroke="#0c0c0c" stroke-width="3.7" />
<text x="1155.6" y="1386.5" font-size="31.5" font-weight="bold" fill="#141414" text-anchor="end" textLength="13.5" lengthAdjust="spacingAndGlyphs" stroke="#141414" stroke-width="0.5" stroke-linejoin="round" >0</text>
<line x1="1171.6" y1="1375.5" x2="1171.6" y2="1389.5" stroke="#0c0c0c" stroke-width="3.7" />
<text x="1171.6" y="1423" font-size="31.5" font-weight="bold" fill="#141414" text-anchor="middle" textLength="14" lengthAdjust="spacingAndGlyphs" stroke="#141414" stroke-width="0.5" stroke-linejoin="round" >0</text>
<line x1="1249.0" y1="1375.5" x2="1249.0" y2="1389.5" stroke="#0c0c0c" stroke-width="3.7" />
<text x="1249.0" y="1423" font-size="31.5" font-weight="bold" fill="#141414" text-anchor="middle" textLength="14" lengthAdjust="spacingAndGlyphs" stroke="#141414" stroke-width="0.5" stroke-linejoin="round" >5</text>
<line x1="1326.4" y1="1375.5" x2="1326.4" y2="1389.5" stroke="#0c0c0c" stroke-width="3.7" />
<text x="1326.4" y="1423" font-size="31.5" font-weight="bold" fill="#141414" text-anchor="middle" textLength="28" lengthAdjust="spacingAndGlyphs" stroke="#141414" stroke-width="0.5" stroke-linejoin="round" >10</text>
<text x="1120.5" y="1328" font-size="33.5" font-weight="bold" fill="#141414" textLength="198" lengthAdjust="spacingAndGlyphs" transform="rotate(-90 1120.5 1328)" stroke="#141414" stroke-width="0.6" stroke-linejoin="round" >Mean AUC</text>
<text x="1163.7" y="1467.3" font-size="28.6" font-weight="bold" fill="#141414" textLength="170.6" lengthAdjust="spacingAndGlyphs" stroke="#141414" stroke-width="0.45" stroke-linejoin="round" >Bout length (s)</text>
<text x="1211.2" y="1089.9" font-size="30.6" font-weight="bold" fill="#141414" textLength="77.4" lengthAdjust="spacingAndGlyphs" >Day 3</text>
<ellipse cx="1218.4" cy="1285.9" rx="4.2" ry="5.6" fill="none" stroke="#f26a28" stroke-width="3.1"/>
<ellipse cx="1202.2" cy="1301.7" rx="4.2" ry="5.6" fill="none" stroke="#f26a28" stroke-width="3.1"/>
<ellipse cx="1231" cy="1320.8" rx="4.2" ry="5.6" fill="none" stroke="#f26a28" stroke-width="3.1"/>
<ellipse cx="1236.4" cy="1331.6" rx="4.2" ry="5.6" fill="none" stroke="#f26a28" stroke-width="3.1"/>
<ellipse cx="1238.9" cy="1339.9" rx="4.2" ry="5.6" fill="none" stroke="#f26a28" stroke-width="3.1"/>
<ellipse cx="1199.3" cy="1344.2" rx="4.2" ry="5.6" fill="none" stroke="#f26a28" stroke-width="3.1"/>
<ellipse cx="1205.8" cy="1355" rx="4.2" ry="5.6" fill="none" stroke="#f26a28" stroke-width="3.1"/>
<ellipse cx="1231.7" cy="1360.4" rx="4.2" ry="5.6" fill="none" stroke="#f26a28" stroke-width="3.1"/>
<line x1="1199.3" y1="1325.1" x2="1238.9" y2="1333.4" stroke="#0c0c0c" stroke-width="3.4" />
<text x="1297.6" y="1159.9" font-size="20.5" font-weight="bold" fill="#141414" textLength="96.4" lengthAdjust="spacingAndGlyphs" stroke="#141414" stroke-width="0.2" stroke-linejoin="round" >r=-0.1389</text>
<text x="1295.8" y="1179.7" font-size="20.5" font-weight="bold" fill="#141414" textLength="93.6" lengthAdjust="spacingAndGlyphs" stroke="#141414" stroke-width="0.2" stroke-linejoin="round" >p=0.7429</text>
</svg>
</body></html>
